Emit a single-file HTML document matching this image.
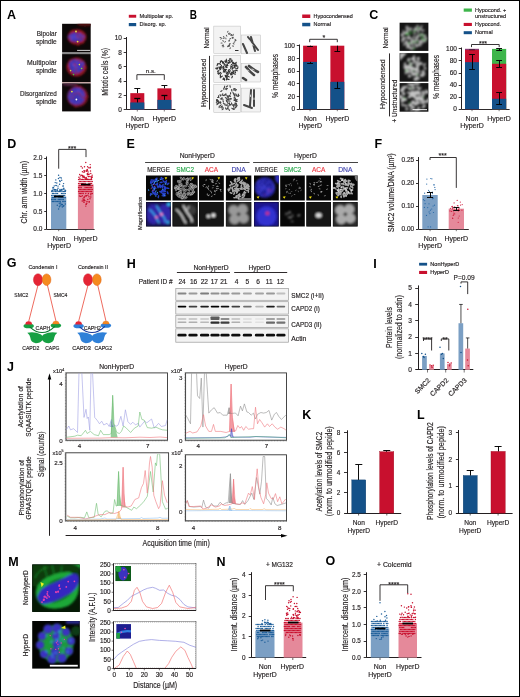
<!DOCTYPE html>
<html><head><meta charset="utf-8"><style>
html,body{margin:0;padding:0;background:#fff;}
svg{display:block;font-family:"Liberation Sans", sans-serif;-webkit-font-smoothing:antialiased;will-change:transform;}
</style></head><body>
<svg width="520" height="697" viewBox="0 0 520 697">
<defs>
<filter id="bl08" x="-50%" y="-50%" width="200%" height="200%"><feGaussianBlur stdDeviation="0.9"/></filter>
<filter id="bl1" x="-50%" y="-50%" width="200%" height="200%"><feGaussianBlur stdDeviation="1.2"/></filter>
<filter id="bl05" x="-50%" y="-50%" width="200%" height="200%"><feGaussianBlur stdDeviation="0.5"/></filter>
<filter id="bl04" x="-50%" y="-50%" width="200%" height="200%"><feGaussianBlur stdDeviation="0.45"/></filter>
<filter id="bl03" x="-50%" y="-50%" width="200%" height="200%"><feGaussianBlur stdDeviation="0.4"/></filter>
<filter id="bl2" x="-50%" y="-50%" width="200%" height="200%"><feGaussianBlur stdDeviation="2"/></filter>
</defs>
<rect width="520" height="697" fill="#fff"/>
<rect x="0.5" y="0.5" width="519" height="696" fill="none" stroke="#000" stroke-width="1"/>
<text x="7" y="18.6" font-size="12.5" text-anchor="start" fill="#000" font-weight="bold">A</text>
<rect x="62.1" y="52.1" width="28.6" height="2" fill="#8a8a8a"/>
<rect x="62.1" y="82.1" width="28.6" height="1.3" fill="#d8b0b0"/>
<rect x="62.1" y="23.8" width="28.6" height="28.3" fill="#0c0808"/>
<rect x="62.1" y="54.1" width="28.6" height="27.999999999999993" fill="#0c0808"/>
<rect x="62.1" y="83.4" width="28.6" height="28.0" fill="#0c0808"/>
<text x="36.8" y="36.2" font-size="7.1" text-anchor="start" fill="#231f20" stroke="#231f20" stroke-width="0.16" textLength="20.0" lengthAdjust="spacingAndGlyphs">Bipolar</text>
<text x="35.9" y="43.6" font-size="7.1" text-anchor="start" fill="#231f20" stroke="#231f20" stroke-width="0.16" textLength="20.9" lengthAdjust="spacingAndGlyphs">spindle</text>
<text x="27.1" y="65.2" font-size="7.1" text-anchor="start" fill="#231f20" stroke="#231f20" stroke-width="0.16" textLength="29.7" lengthAdjust="spacingAndGlyphs">Multipolar</text>
<text x="35.9" y="72.8" font-size="7.1" text-anchor="start" fill="#231f20" stroke="#231f20" stroke-width="0.16" textLength="20.9" lengthAdjust="spacingAndGlyphs">spindle</text>
<text x="20" y="96.3" font-size="7.1" text-anchor="start" fill="#231f20" stroke="#231f20" stroke-width="0.16" textLength="36.8" lengthAdjust="spacingAndGlyphs">Disorganized</text>
<text x="35.9" y="104.3" font-size="7.1" text-anchor="start" fill="#231f20" stroke="#231f20" stroke-width="0.16" textLength="20.9" lengthAdjust="spacingAndGlyphs">spindle</text>
<clipPath id="cA1"><rect x="62.1" y="23.8" width="28.6" height="28.3"/></clipPath>
<clipPath id="cA2"><rect x="62.1" y="54.1" width="28.6" height="28"/></clipPath>
<clipPath id="cA3"><rect x="62.1" y="83.4" width="28.6" height="28"/></clipPath>
<g clip-path="url(#cA1)"><g filter="url(#bl08)">
<ellipse cx="85" cy="24" rx="8" ry="2.5" fill="#501010"/>
<ellipse cx="77" cy="37" rx="9.5" ry="7.8" fill="#901820"/>
<ellipse cx="76.5" cy="37.2" rx="8.4" ry="4.6" fill="#4034b0"/>
<circle cx="82.8" cy="42.5" r="1.2" fill="#c02028" opacity="0.6"/>
<circle cx="77.4" cy="33.0" r="1.2" fill="#c02028" opacity="0.6"/>
<circle cx="70.6" cy="37.2" r="1.2" fill="#c02028" opacity="0.6"/>
<circle cx="72.1" cy="31.2" r="1.2" fill="#c02028" opacity="0.6"/>
<circle cx="78.3" cy="37.7" r="1.2" fill="#c02028" opacity="0.6"/>
<circle cx="80.2" cy="32.5" r="1.2" fill="#c02028" opacity="0.6"/>
<circle cx="77.0" cy="36.6" r="1.2" fill="#c02028" opacity="0.6"/>
<circle cx="69.4" cy="39.3" r="1.2" fill="#c02028" opacity="0.6"/>
<circle cx="78.2" cy="44.7" r="1.2" fill="#c02028" opacity="0.6"/>
<circle cx="78.4" cy="36.2" r="1.2" fill="#c02028" opacity="0.6"/>
<circle cx="83.9" cy="37.9" r="1.2" fill="#c02028" opacity="0.6"/>
<circle cx="82.4" cy="35.2" r="1.2" fill="#c02028" opacity="0.6"/>
<circle cx="78.3" cy="42.1" r="1.2" fill="#c02028" opacity="0.6"/>
<circle cx="81.4" cy="37.7" r="1.2" fill="#c02028" opacity="0.6"/>
<circle cx="83.5" cy="36.2" r="1.0" fill="#5a4ad8" opacity="0.6"/>
<circle cx="78.5" cy="37.6" r="1.0" fill="#5a4ad8" opacity="0.6"/>
<circle cx="79.8" cy="34.4" r="1.0" fill="#5a4ad8" opacity="0.6"/>
<circle cx="74.5" cy="35.4" r="1.0" fill="#5a4ad8" opacity="0.6"/>
<circle cx="71.9" cy="35.4" r="1.0" fill="#5a4ad8" opacity="0.6"/>
<circle cx="73.9" cy="36.5" r="1.0" fill="#5a4ad8" opacity="0.6"/>
<circle cx="72.2" cy="38.2" r="1.0" fill="#5a4ad8" opacity="0.6"/>
<circle cx="75.2" cy="33.5" r="1.0" fill="#5a4ad8" opacity="0.6"/>
<circle cx="81.8" cy="36.3" r="1.0" fill="#5a4ad8" opacity="0.6"/>
<circle cx="72.8" cy="37.9" r="1.0" fill="#5a4ad8" opacity="0.6"/>
<circle cx="77.7" cy="37.3" r="1.0" fill="#5a4ad8" opacity="0.6"/>
<circle cx="72.4" cy="37.7" r="1.0" fill="#5a4ad8" opacity="0.6"/>
<circle cx="71.3" cy="39.7" r="1.0" fill="#5a4ad8" opacity="0.6"/>
<circle cx="71.0" cy="36.7" r="1.0" fill="#5a4ad8" opacity="0.6"/>
<circle cx="76.6" cy="37.8" r="1.0" fill="#5a4ad8" opacity="0.6"/>
<circle cx="75.2" cy="38.5" r="1.0" fill="#5a4ad8" opacity="0.6"/>
<circle cx="69.0" cy="37.0" r="1.0" fill="#5a4ad8" opacity="0.6"/>
<circle cx="75.0" cy="35.8" r="1.0" fill="#5a4ad8" opacity="0.6"/>
</g>
<circle cx="76" cy="31.5" r="0.9" fill="#e8e040"/><circle cx="77.6" cy="41.6" r="0.9" fill="#e8e040"/>
<rect x="77.1" y="49.9" width="13" height="0.9" fill="#e8e8e8"/></g>
<g clip-path="url(#cA2)"><g filter="url(#bl08)">
<ellipse cx="76.5" cy="67" rx="10" ry="9.5" fill="#901820"/>
<path d="M70,61 Q76,57 84,62 Q86,68 80,72 Q76,76 72,72 Q67,66 70,61 Z" fill="#4034b0"/>
<circle cx="77.1" cy="74.0" r="1.2" fill="#c02028" opacity="0.6"/>
<circle cx="71.2" cy="72.4" r="1.2" fill="#c02028" opacity="0.6"/>
<circle cx="74.7" cy="65.3" r="1.2" fill="#c02028" opacity="0.6"/>
<circle cx="85.6" cy="67.7" r="1.2" fill="#c02028" opacity="0.6"/>
<circle cx="76.2" cy="71.6" r="1.2" fill="#c02028" opacity="0.6"/>
<circle cx="83.4" cy="66.8" r="1.2" fill="#c02028" opacity="0.6"/>
<circle cx="80.1" cy="61.4" r="1.2" fill="#c02028" opacity="0.6"/>
<circle cx="74.0" cy="64.2" r="1.2" fill="#c02028" opacity="0.6"/>
<circle cx="70.3" cy="60.4" r="1.2" fill="#c02028" opacity="0.6"/>
<circle cx="68.0" cy="65.8" r="1.2" fill="#c02028" opacity="0.6"/>
<circle cx="75.3" cy="64.9" r="1.2" fill="#c02028" opacity="0.6"/>
<circle cx="76.9" cy="59.7" r="1.2" fill="#c02028" opacity="0.6"/>
<circle cx="75.9" cy="68.6" r="1.2" fill="#c02028" opacity="0.6"/>
<circle cx="81.1" cy="62.1" r="1.2" fill="#c02028" opacity="0.6"/>
<circle cx="76.7" cy="67.3" r="1.0" fill="#5a4ad8" opacity="0.6"/>
<circle cx="74.3" cy="66.8" r="1.0" fill="#5a4ad8" opacity="0.6"/>
<circle cx="80.6" cy="66.9" r="1.0" fill="#5a4ad8" opacity="0.6"/>
<circle cx="81.9" cy="63.1" r="1.0" fill="#5a4ad8" opacity="0.6"/>
<circle cx="76.8" cy="62.9" r="1.0" fill="#5a4ad8" opacity="0.6"/>
<circle cx="72.9" cy="64.8" r="1.0" fill="#5a4ad8" opacity="0.6"/>
<circle cx="77.6" cy="67.1" r="1.0" fill="#5a4ad8" opacity="0.6"/>
<circle cx="78.0" cy="70.7" r="1.0" fill="#5a4ad8" opacity="0.6"/>
<circle cx="79.5" cy="61.2" r="1.0" fill="#5a4ad8" opacity="0.6"/>
<circle cx="77.5" cy="63.2" r="1.0" fill="#5a4ad8" opacity="0.6"/>
<circle cx="74.5" cy="69.6" r="1.0" fill="#5a4ad8" opacity="0.6"/>
<circle cx="75.8" cy="60.4" r="1.0" fill="#5a4ad8" opacity="0.6"/>
<circle cx="78.0" cy="64.4" r="1.0" fill="#5a4ad8" opacity="0.6"/>
<circle cx="72.0" cy="62.7" r="1.0" fill="#5a4ad8" opacity="0.6"/>
<circle cx="73.6" cy="65.4" r="1.0" fill="#5a4ad8" opacity="0.6"/>
<circle cx="74.4" cy="65.8" r="1.0" fill="#5a4ad8" opacity="0.6"/>
<circle cx="82.5" cy="63.5" r="1.0" fill="#5a4ad8" opacity="0.6"/>
<circle cx="72.8" cy="64.6" r="1.0" fill="#5a4ad8" opacity="0.6"/>
</g>
<circle cx="79.4" cy="64.6" r="0.8" fill="#e0e040"/>
<circle cx="70.6" cy="70.6" r="0.8" fill="#c0e040"/>
<circle cx="73.5" cy="74.6" r="0.8" fill="#40c040"/>
<circle cx="81.6" cy="68.5" r="0.8" fill="#80d040"/>
</g>
<g clip-path="url(#cA3)"><g filter="url(#bl08)">
<ellipse cx="70" cy="84" rx="8" ry="2" fill="#502040"/>
<ellipse cx="77.5" cy="96.5" rx="10.5" ry="10.5" fill="#801828"/>
<ellipse cx="76.5" cy="96" rx="8.8" ry="8.8" fill="#4034b0"/>
<circle cx="71.0" cy="90.2" r="1.2" fill="#b02030" opacity="0.6"/>
<circle cx="80.4" cy="86.7" r="1.2" fill="#b02030" opacity="0.6"/>
<circle cx="76.9" cy="86.4" r="1.2" fill="#b02030" opacity="0.6"/>
<circle cx="84.5" cy="97.8" r="1.2" fill="#b02030" opacity="0.6"/>
<circle cx="85.4" cy="93.6" r="1.2" fill="#b02030" opacity="0.6"/>
<circle cx="80.4" cy="94.4" r="1.2" fill="#b02030" opacity="0.6"/>
<circle cx="72.4" cy="97.5" r="1.2" fill="#b02030" opacity="0.6"/>
<circle cx="69.8" cy="94.3" r="1.2" fill="#b02030" opacity="0.6"/>
<circle cx="82.4" cy="96.9" r="1.2" fill="#b02030" opacity="0.6"/>
<circle cx="75.6" cy="106.4" r="1.2" fill="#b02030" opacity="0.6"/>
<circle cx="77.9" cy="92.3" r="1.2" fill="#b02030" opacity="0.6"/>
<circle cx="78.6" cy="92.8" r="1.2" fill="#b02030" opacity="0.6"/>
<circle cx="74.7" cy="94.0" r="1.2" fill="#b02030" opacity="0.6"/>
<circle cx="87.3" cy="96.6" r="1.2" fill="#b02030" opacity="0.6"/>
<circle cx="78.5" cy="89.0" r="1.0" fill="#5a4ad8" opacity="0.6"/>
<circle cx="72.4" cy="96.4" r="1.0" fill="#5a4ad8" opacity="0.6"/>
<circle cx="83.0" cy="96.0" r="1.0" fill="#5a4ad8" opacity="0.6"/>
<circle cx="69.6" cy="97.3" r="1.0" fill="#5a4ad8" opacity="0.6"/>
<circle cx="71.6" cy="101.0" r="1.0" fill="#5a4ad8" opacity="0.6"/>
<circle cx="75.5" cy="103.1" r="1.0" fill="#5a4ad8" opacity="0.6"/>
<circle cx="75.8" cy="90.9" r="1.0" fill="#5a4ad8" opacity="0.6"/>
<circle cx="70.1" cy="94.4" r="1.0" fill="#5a4ad8" opacity="0.6"/>
<circle cx="78.6" cy="101.6" r="1.0" fill="#5a4ad8" opacity="0.6"/>
<circle cx="77.9" cy="92.1" r="1.0" fill="#5a4ad8" opacity="0.6"/>
<circle cx="78.7" cy="89.7" r="1.0" fill="#5a4ad8" opacity="0.6"/>
<circle cx="79.1" cy="92.2" r="1.0" fill="#5a4ad8" opacity="0.6"/>
<circle cx="82.5" cy="100.0" r="1.0" fill="#5a4ad8" opacity="0.6"/>
<circle cx="78.3" cy="91.0" r="1.0" fill="#5a4ad8" opacity="0.6"/>
<circle cx="79.5" cy="98.0" r="1.0" fill="#5a4ad8" opacity="0.6"/>
<circle cx="73.6" cy="92.8" r="1.0" fill="#5a4ad8" opacity="0.6"/>
<circle cx="82.4" cy="94.2" r="1.0" fill="#5a4ad8" opacity="0.6"/>
<circle cx="78.5" cy="102.2" r="1.0" fill="#5a4ad8" opacity="0.6"/>
<circle cx="71.6" cy="101.9" r="1.0" fill="#5a4ad8" opacity="0.6"/>
<circle cx="81.3" cy="92.9" r="1.0" fill="#5a4ad8" opacity="0.6"/>
</g>
<circle cx="71.9" cy="91.6" r="0.9" fill="#e0e040"/><circle cx="76.4" cy="99.5" r="0.9" fill="#ffffff"/>
</g>
<rect x="128.8" y="14.8" width="7.4" height="2.9" fill="#c8102e"/>
<text x="139.5" y="18.1" font-size="5.9" text-anchor="start" fill="#231f20" stroke="#231f20" stroke-width="0.16" textLength="33.6" lengthAdjust="spacingAndGlyphs">Multipolar sp.</text>
<rect x="128.8" y="23" width="7.4" height="3.2" fill="#145189"/>
<text x="139.5" y="26.2" font-size="5.9" text-anchor="start" fill="#231f20" stroke="#231f20" stroke-width="0.16" textLength="26.6" lengthAdjust="spacingAndGlyphs">Disorg. sp.</text>
<line x1="126.5" y1="37" x2="126.5" y2="109.6" stroke="#231f20" stroke-width="1.0"/>
<line x1="123.7" y1="38.5" x2="126.2" y2="38.5" stroke="#231f20" stroke-width="0.9"/>
<text x="121.9" y="40.33599999999999" font-size="6.5" text-anchor="end" fill="#231f20" stroke="#231f20" stroke-width="0.16">10</text>
<line x1="123.7" y1="52.5" x2="126.2" y2="52.5" stroke="#231f20" stroke-width="0.9"/>
<text x="121.9" y="54.63599999999999" font-size="6.5" text-anchor="end" fill="#231f20" stroke="#231f20" stroke-width="0.16">8</text>
<line x1="123.7" y1="66.5" x2="126.2" y2="66.5" stroke="#231f20" stroke-width="0.9"/>
<text x="121.9" y="68.93599999999999" font-size="6.5" text-anchor="end" fill="#231f20" stroke="#231f20" stroke-width="0.16">6</text>
<line x1="123.7" y1="81.5" x2="126.2" y2="81.5" stroke="#231f20" stroke-width="0.9"/>
<text x="121.9" y="83.236" font-size="6.5" text-anchor="end" fill="#231f20" stroke="#231f20" stroke-width="0.16">4</text>
<line x1="123.7" y1="95.5" x2="126.2" y2="95.5" stroke="#231f20" stroke-width="0.9"/>
<text x="121.9" y="97.536" font-size="6.5" text-anchor="end" fill="#231f20" stroke="#231f20" stroke-width="0.16">2</text>
<line x1="123.7" y1="109.5" x2="126.2" y2="109.5" stroke="#231f20" stroke-width="0.9"/>
<text x="121.9" y="111.836" font-size="6.5" text-anchor="end" fill="#231f20" stroke="#231f20" stroke-width="0.16">0</text>
<line x1="126.2" y1="109.5" x2="175.4" y2="109.5" stroke="#231f20" stroke-width="0.95"/>
<line x1="137.3" y1="109.6" x2="137.3" y2="111.5" stroke="#231f20" stroke-width="0.6"/>
<line x1="164.3" y1="109.6" x2="164.3" y2="111.5" stroke="#231f20" stroke-width="0.6"/>
<rect x="130.3" y="93.155" width="14" height="16.444999999999993" fill="#c8102e"/>
<rect x="130.3" y="102.44999999999999" width="14" height="7.150000000000006" fill="#145189"/>
<line x1="137.5" y1="93.155" x2="137.5" y2="88.36449999999999" stroke="#000" stroke-width="0.95"/>
<line x1="134.3" y1="88.5" x2="140.3" y2="88.5" stroke="#000" stroke-width="0.95"/>
<line x1="137.5" y1="102.44999999999999" x2="137.5" y2="98.16" stroke="#000" stroke-width="0.95"/>
<line x1="134.3" y1="98.5" x2="140.3" y2="98.5" stroke="#000" stroke-width="1.3"/>
<rect x="157.4" y="88.36449999999999" width="14" height="21.235500000000002" fill="#c8102e"/>
<rect x="157.4" y="99.87599999999999" width="14" height="9.724000000000004" fill="#145189"/>
<line x1="164.5" y1="88.36449999999999" x2="164.5" y2="85.5045" stroke="#000" stroke-width="0.95"/>
<line x1="161.4" y1="85.5" x2="167.4" y2="85.5" stroke="#000" stroke-width="0.95"/>
<line x1="164.5" y1="99.87599999999999" x2="164.5" y2="95.3" stroke="#000" stroke-width="0.95"/>
<line x1="161.4" y1="95.5" x2="167.4" y2="95.5" stroke="#000" stroke-width="1.3"/>
<path d="M136.9,79.9 L136.9,74.7 L164.3,74.7 L164.3,79.9" stroke="#231f20" fill="none" stroke-width="0.9"/>
<text x="145.8" y="72.7" font-size="6" text-anchor="start" fill="#231f20" stroke="#231f20" stroke-width="0.16" textLength="9.9" lengthAdjust="spacingAndGlyphs">n.s.</text>
<text x="108.5" y="95.8" font-size="8.8" text-anchor="start" fill="#231f20" stroke="#231f20" stroke-width="0.16" transform="rotate(-90 108.5 95.8)" textLength="47.8" lengthAdjust="spacingAndGlyphs">Mitotic cells (%)</text>
<text x="137.4" y="120.8" font-size="7" text-anchor="middle" fill="#231f20" stroke="#231f20" stroke-width="0.16">Non</text>
<text x="137.4" y="128.1" font-size="7" text-anchor="middle" fill="#231f20" stroke="#231f20" stroke-width="0.16">HyperD</text>
<text x="164.3" y="120.8" font-size="7" text-anchor="middle" fill="#231f20" stroke="#231f20" stroke-width="0.16">HyperD</text>
<text x="189.8" y="18.6" font-size="12.5" text-anchor="start" fill="#000" font-weight="bold" textLength="7.2" lengthAdjust="spacingAndGlyphs">B</text>
<rect x="213.8" y="26.1" width="26.8" height="27.3" fill="#f3f3f3" stroke="#bbbbbb" stroke-width="0.5"/>
<rect x="241.6" y="35" width="19" height="18.8" fill="#f3f3f3" stroke="#bbbbbb" stroke-width="0.5"/>
<rect x="213.8" y="55.2" width="26.8" height="27.5" fill="#f3f3f3" stroke="#bbbbbb" stroke-width="0.5"/>
<rect x="241.6" y="63.3" width="19" height="18.7" fill="#f3f3f3" stroke="#bbbbbb" stroke-width="0.5"/>
<rect x="213.8" y="84.7" width="26.8" height="28" fill="#f3f3f3" stroke="#bbbbbb" stroke-width="0.5"/>
<rect x="241.6" y="88.1" width="19" height="23.9" fill="#f3f3f3" stroke="#bbbbbb" stroke-width="0.5"/>
<g filter="url(#bl04)">
<ellipse cx="232.9" cy="46.1" rx="1.1" ry="0.5" transform="rotate(16 232.9 46.1)" fill="#555"/>
<ellipse cx="227.8" cy="46.2" rx="1.1" ry="0.5" transform="rotate(115 227.8 46.2)" fill="#555"/>
<ellipse cx="223.1" cy="40.9" rx="1.1" ry="0.5" transform="rotate(53 223.1 40.9)" fill="#555"/>
<ellipse cx="229.1" cy="40.8" rx="1.1" ry="0.5" transform="rotate(99 229.1 40.8)" fill="#555"/>
<ellipse cx="221.6" cy="43.1" rx="1.1" ry="0.5" transform="rotate(0 221.6 43.1)" fill="#555"/>
<ellipse cx="226.6" cy="35.7" rx="1.1" ry="0.5" transform="rotate(58 226.6 35.7)" fill="#555"/>
<ellipse cx="225.9" cy="38.5" rx="1.1" ry="0.5" transform="rotate(81 225.9 38.5)" fill="#555"/>
<ellipse cx="229.3" cy="40.3" rx="1.1" ry="0.5" transform="rotate(138 229.3 40.3)" fill="#555"/>
<ellipse cx="235.5" cy="40.5" rx="1.1" ry="0.5" transform="rotate(175 235.5 40.5)" fill="#555"/>
<ellipse cx="229.1" cy="45.6" rx="1.1" ry="0.5" transform="rotate(7 229.1 45.6)" fill="#555"/>
<ellipse cx="221.1" cy="38.7" rx="1.1" ry="0.5" transform="rotate(126 221.1 38.7)" fill="#555"/>
<ellipse cx="223.6" cy="38.3" rx="1.1" ry="0.5" transform="rotate(173 223.6 38.3)" fill="#555"/>
<ellipse cx="229.1" cy="45.9" rx="1.1" ry="0.5" transform="rotate(74 229.1 45.9)" fill="#555"/>
<ellipse cx="232.6" cy="37.5" rx="1.1" ry="0.5" transform="rotate(142 232.6 37.5)" fill="#555"/>
<ellipse cx="230.2" cy="38.7" rx="1.1" ry="0.5" transform="rotate(161 230.2 38.7)" fill="#555"/>
<ellipse cx="235.4" cy="39.6" rx="1.1" ry="0.5" transform="rotate(30 235.4 39.6)" fill="#555"/>
<ellipse cx="227.7" cy="31.7" rx="1.1" ry="0.5" transform="rotate(128 227.7 31.7)" fill="#555"/>
<ellipse cx="232.8" cy="37.8" rx="1.1" ry="0.5" transform="rotate(171 232.8 37.8)" fill="#555"/>
<ellipse cx="229.6" cy="44.4" rx="1.1" ry="0.5" transform="rotate(127 229.6 44.4)" fill="#555"/>
<ellipse cx="231.2" cy="34.9" rx="1.1" ry="0.5" transform="rotate(150 231.2 34.9)" fill="#555"/>
<ellipse cx="231.4" cy="35.1" rx="1.1" ry="0.5" transform="rotate(103 231.4 35.1)" fill="#555"/>
<ellipse cx="225.1" cy="41.9" rx="1.1" ry="0.5" transform="rotate(140 225.1 41.9)" fill="#555"/>
<ellipse cx="233.2" cy="34.8" rx="1.1" ry="0.5" transform="rotate(95 233.2 34.8)" fill="#555"/>
<ellipse cx="233.6" cy="43.7" rx="1.1" ry="0.5" transform="rotate(27 233.6 43.7)" fill="#555"/>
<ellipse cx="229.0" cy="33.7" rx="1.1" ry="0.5" transform="rotate(100 229.0 33.7)" fill="#555"/>
<ellipse cx="223.3" cy="45.5" rx="1.1" ry="0.5" transform="rotate(120 223.3 45.5)" fill="#555"/>
<ellipse cx="234.5" cy="42.0" rx="1.1" ry="0.5" transform="rotate(157 234.5 42.0)" fill="#555"/>
<ellipse cx="223.8" cy="36.9" rx="1.1" ry="0.5" transform="rotate(43 223.8 36.9)" fill="#555"/>
<ellipse cx="229.9" cy="43.7" rx="1.1" ry="0.5" transform="rotate(3 229.9 43.7)" fill="#555"/>
<ellipse cx="228.8" cy="33.6" rx="1.1" ry="0.5" transform="rotate(140 228.8 33.6)" fill="#555"/>
<ellipse cx="228.6" cy="46.3" rx="1.1" ry="0.5" transform="rotate(147 228.6 46.3)" fill="#555"/>
<ellipse cx="223.4" cy="46.7" rx="1.1" ry="0.5" transform="rotate(168 223.4 46.7)" fill="#555"/>
<ellipse cx="220.5" cy="37.4" rx="1.1" ry="0.5" transform="rotate(1 220.5 37.4)" fill="#555"/>
<ellipse cx="222.5" cy="45.4" rx="1.1" ry="0.5" transform="rotate(131 222.5 45.4)" fill="#555"/>
<ellipse cx="230.1" cy="34.1" rx="1.1" ry="0.5" transform="rotate(143 230.1 34.1)" fill="#555"/>
<ellipse cx="230.2" cy="48.2" rx="1.1" ry="0.5" transform="rotate(123 230.2 48.2)" fill="#555"/>
<ellipse cx="232.1" cy="35.2" rx="1.1" ry="0.5" transform="rotate(51 232.1 35.2)" fill="#555"/>
<ellipse cx="232.8" cy="38.0" rx="1.1" ry="0.5" transform="rotate(91 232.8 38.0)" fill="#555"/>
<ellipse cx="237.2" cy="66.0" rx="1.4" ry="0.6" transform="rotate(14 237.2 66.0)" fill="#333"/>
<ellipse cx="232.6" cy="72.5" rx="1.4" ry="0.6" transform="rotate(43 232.6 72.5)" fill="#333"/>
<ellipse cx="226.4" cy="60.0" rx="1.4" ry="0.6" transform="rotate(78 226.4 60.0)" fill="#333"/>
<ellipse cx="227.2" cy="74.0" rx="1.4" ry="0.6" transform="rotate(9 227.2 74.0)" fill="#333"/>
<ellipse cx="223.5" cy="66.8" rx="1.4" ry="0.6" transform="rotate(110 223.5 66.8)" fill="#333"/>
<ellipse cx="221.0" cy="61.4" rx="1.4" ry="0.6" transform="rotate(130 221.0 61.4)" fill="#333"/>
<ellipse cx="234.7" cy="66.4" rx="1.4" ry="0.6" transform="rotate(113 234.7 66.4)" fill="#333"/>
<ellipse cx="217.0" cy="68.8" rx="1.4" ry="0.6" transform="rotate(7 217.0 68.8)" fill="#333"/>
<ellipse cx="220.4" cy="77.0" rx="1.4" ry="0.6" transform="rotate(97 220.4 77.0)" fill="#333"/>
<ellipse cx="218.3" cy="73.7" rx="1.4" ry="0.6" transform="rotate(42 218.3 73.7)" fill="#333"/>
<ellipse cx="222.4" cy="67.0" rx="1.4" ry="0.6" transform="rotate(6 222.4 67.0)" fill="#333"/>
<ellipse cx="229.2" cy="73.1" rx="1.4" ry="0.6" transform="rotate(130 229.2 73.1)" fill="#333"/>
<ellipse cx="216.5" cy="68.2" rx="1.4" ry="0.6" transform="rotate(172 216.5 68.2)" fill="#333"/>
<ellipse cx="217.3" cy="64.9" rx="1.4" ry="0.6" transform="rotate(114 217.3 64.9)" fill="#333"/>
<ellipse cx="229.9" cy="59.9" rx="1.4" ry="0.6" transform="rotate(93 229.9 59.9)" fill="#333"/>
<ellipse cx="228.8" cy="62.6" rx="1.4" ry="0.6" transform="rotate(114 228.8 62.6)" fill="#333"/>
<ellipse cx="232.1" cy="77.1" rx="1.4" ry="0.6" transform="rotate(118 232.1 77.1)" fill="#333"/>
<ellipse cx="224.2" cy="64.4" rx="1.4" ry="0.6" transform="rotate(71 224.2 64.4)" fill="#333"/>
<ellipse cx="234.0" cy="65.4" rx="1.4" ry="0.6" transform="rotate(90 234.0 65.4)" fill="#333"/>
<ellipse cx="223.4" cy="62.6" rx="1.4" ry="0.6" transform="rotate(118 223.4 62.6)" fill="#333"/>
<ellipse cx="221.8" cy="76.5" rx="1.4" ry="0.6" transform="rotate(142 221.8 76.5)" fill="#333"/>
<ellipse cx="226.0" cy="61.4" rx="1.4" ry="0.6" transform="rotate(56 226.0 61.4)" fill="#333"/>
<ellipse cx="236.2" cy="65.3" rx="1.4" ry="0.6" transform="rotate(42 236.2 65.3)" fill="#333"/>
<ellipse cx="233.2" cy="62.9" rx="1.4" ry="0.6" transform="rotate(122 233.2 62.9)" fill="#333"/>
<ellipse cx="223.4" cy="79.0" rx="1.4" ry="0.6" transform="rotate(180 223.4 79.0)" fill="#333"/>
<ellipse cx="231.1" cy="61.7" rx="1.4" ry="0.6" transform="rotate(129 231.1 61.7)" fill="#333"/>
<ellipse cx="222.4" cy="62.1" rx="1.4" ry="0.6" transform="rotate(79 222.4 62.1)" fill="#333"/>
<ellipse cx="226.3" cy="61.3" rx="1.4" ry="0.6" transform="rotate(93 226.3 61.3)" fill="#333"/>
<ellipse cx="234.9" cy="65.5" rx="1.4" ry="0.6" transform="rotate(19 234.9 65.5)" fill="#333"/>
<ellipse cx="228.5" cy="62.7" rx="1.4" ry="0.6" transform="rotate(2 228.5 62.7)" fill="#333"/>
<ellipse cx="231.1" cy="66.3" rx="1.4" ry="0.6" transform="rotate(27 231.1 66.3)" fill="#333"/>
<ellipse cx="235.3" cy="72.2" rx="1.4" ry="0.6" transform="rotate(69 235.3 72.2)" fill="#333"/>
<ellipse cx="219.8" cy="64.0" rx="1.4" ry="0.6" transform="rotate(27 219.8 64.0)" fill="#333"/>
<ellipse cx="227.3" cy="64.9" rx="1.4" ry="0.6" transform="rotate(68 227.3 64.9)" fill="#333"/>
<ellipse cx="227.4" cy="74.0" rx="1.4" ry="0.6" transform="rotate(15 227.4 74.0)" fill="#333"/>
<ellipse cx="219.2" cy="73.3" rx="1.4" ry="0.6" transform="rotate(8 219.2 73.3)" fill="#333"/>
<ellipse cx="233.2" cy="71.3" rx="1.4" ry="0.6" transform="rotate(63 233.2 71.3)" fill="#333"/>
<ellipse cx="225.8" cy="66.1" rx="1.4" ry="0.6" transform="rotate(17 225.8 66.1)" fill="#333"/>
<ellipse cx="236.2" cy="70.4" rx="1.4" ry="0.6" transform="rotate(5 236.2 70.4)" fill="#333"/>
<ellipse cx="224.5" cy="71.8" rx="1.4" ry="0.6" transform="rotate(40 224.5 71.8)" fill="#333"/>
<ellipse cx="226.5" cy="61.0" rx="1.4" ry="0.6" transform="rotate(0 226.5 61.0)" fill="#333"/>
<ellipse cx="225.5" cy="70.5" rx="1.4" ry="0.6" transform="rotate(63 225.5 70.5)" fill="#333"/>
<ellipse cx="228.4" cy="70.7" rx="1.4" ry="0.6" transform="rotate(88 228.4 70.7)" fill="#333"/>
<ellipse cx="235.1" cy="65.7" rx="1.4" ry="0.6" transform="rotate(28 235.1 65.7)" fill="#333"/>
<ellipse cx="225.5" cy="76.4" rx="1.4" ry="0.6" transform="rotate(78 225.5 76.4)" fill="#333"/>
<ellipse cx="218.3" cy="72.0" rx="1.4" ry="0.6" transform="rotate(11 218.3 72.0)" fill="#333"/>
<ellipse cx="234.8" cy="63.4" rx="1.4" ry="0.6" transform="rotate(159 234.8 63.4)" fill="#333"/>
<ellipse cx="225.2" cy="61.7" rx="1.4" ry="0.6" transform="rotate(57 225.2 61.7)" fill="#333"/>
<ellipse cx="234.6" cy="74.0" rx="1.4" ry="0.6" transform="rotate(26 234.6 74.0)" fill="#333"/>
<ellipse cx="236.6" cy="70.4" rx="1.4" ry="0.6" transform="rotate(32 236.6 70.4)" fill="#333"/>
<ellipse cx="217.8" cy="67.8" rx="1.4" ry="0.6" transform="rotate(124 217.8 67.8)" fill="#333"/>
<ellipse cx="223.2" cy="68.6" rx="1.4" ry="0.6" transform="rotate(87 223.2 68.6)" fill="#333"/>
<ellipse cx="226.7" cy="77.5" rx="1.4" ry="0.6" transform="rotate(107 226.7 77.5)" fill="#333"/>
<ellipse cx="222.1" cy="61.4" rx="1.4" ry="0.6" transform="rotate(35 222.1 61.4)" fill="#333"/>
<ellipse cx="224.6" cy="64.1" rx="1.4" ry="0.6" transform="rotate(33 224.6 64.1)" fill="#333"/>
<ellipse cx="229.0" cy="71.8" rx="1.4" ry="0.6" transform="rotate(162 229.0 71.8)" fill="#333"/>
<ellipse cx="228.4" cy="79.4" rx="1.4" ry="0.6" transform="rotate(8 228.4 79.4)" fill="#333"/>
<ellipse cx="232.4" cy="68.8" rx="1.4" ry="0.6" transform="rotate(113 232.4 68.8)" fill="#333"/>
<ellipse cx="229.9" cy="70.3" rx="1.4" ry="0.6" transform="rotate(58 229.9 70.3)" fill="#333"/>
<ellipse cx="220.4" cy="62.0" rx="1.4" ry="0.6" transform="rotate(92 220.4 62.0)" fill="#333"/>
<ellipse cx="226.9" cy="76.1" rx="1.4" ry="0.6" transform="rotate(134 226.9 76.1)" fill="#333"/>
<ellipse cx="227.2" cy="64.7" rx="1.4" ry="0.6" transform="rotate(98 227.2 64.7)" fill="#333"/>
<ellipse cx="224.2" cy="70.9" rx="1.4" ry="0.6" transform="rotate(22 224.2 70.9)" fill="#333"/>
<ellipse cx="227.4" cy="72.4" rx="1.4" ry="0.6" transform="rotate(46 227.4 72.4)" fill="#333"/>
<ellipse cx="227.2" cy="65.4" rx="1.4" ry="0.6" transform="rotate(6 227.2 65.4)" fill="#333"/>
<ellipse cx="220.0" cy="68.0" rx="1.4" ry="0.6" transform="rotate(79 220.0 68.0)" fill="#333"/>
<ellipse cx="220.8" cy="67.4" rx="1.4" ry="0.6" transform="rotate(175 220.8 67.4)" fill="#333"/>
<ellipse cx="236.0" cy="63.0" rx="1.4" ry="0.6" transform="rotate(111 236.0 63.0)" fill="#333"/>
<ellipse cx="225.8" cy="69.7" rx="1.4" ry="0.6" transform="rotate(151 225.8 69.7)" fill="#333"/>
<ellipse cx="233.8" cy="71.2" rx="1.4" ry="0.6" transform="rotate(134 233.8 71.2)" fill="#333"/>
<ellipse cx="218.2" cy="63.8" rx="1.4" ry="0.6" transform="rotate(169 218.2 63.8)" fill="#333"/>
<ellipse cx="229.3" cy="62.7" rx="1.4" ry="0.6" transform="rotate(132 229.3 62.7)" fill="#333"/>
<ellipse cx="230.8" cy="68.0" rx="1.4" ry="0.6" transform="rotate(93 230.8 68.0)" fill="#333"/>
<ellipse cx="224.6" cy="79.5" rx="1.4" ry="0.6" transform="rotate(95 224.6 79.5)" fill="#333"/>
<ellipse cx="223.6" cy="78.6" rx="1.4" ry="0.6" transform="rotate(105 223.6 78.6)" fill="#333"/>
<ellipse cx="232.0" cy="72.6" rx="1.4" ry="0.6" transform="rotate(172 232.0 72.6)" fill="#333"/>
<ellipse cx="231.6" cy="60.1" rx="1.4" ry="0.6" transform="rotate(15 231.6 60.1)" fill="#333"/>
<ellipse cx="220.9" cy="73.0" rx="1.4" ry="0.6" transform="rotate(53 220.9 73.0)" fill="#333"/>
<ellipse cx="233.7" cy="63.4" rx="1.4" ry="0.6" transform="rotate(1 233.7 63.4)" fill="#333"/>
<ellipse cx="225.8" cy="75.5" rx="1.4" ry="0.6" transform="rotate(19 225.8 75.5)" fill="#333"/>
<ellipse cx="228.6" cy="76.5" rx="1.4" ry="0.6" transform="rotate(29 228.6 76.5)" fill="#333"/>
<ellipse cx="221.2" cy="66.0" rx="1.4" ry="0.6" transform="rotate(118 221.2 66.0)" fill="#333"/>
<ellipse cx="231.2" cy="73.9" rx="1.4" ry="0.6" transform="rotate(31 231.2 73.9)" fill="#333"/>
<ellipse cx="227.1" cy="72.8" rx="1.4" ry="0.6" transform="rotate(157 227.1 72.8)" fill="#333"/>
<ellipse cx="232.2" cy="61.8" rx="1.4" ry="0.6" transform="rotate(54 232.2 61.8)" fill="#333"/>
<ellipse cx="226.6" cy="67.3" rx="1.4" ry="0.6" transform="rotate(168 226.6 67.3)" fill="#333"/>
<ellipse cx="225.0" cy="69.4" rx="1.4" ry="0.6" transform="rotate(180 225.0 69.4)" fill="#333"/>
<ellipse cx="220.8" cy="69.0" rx="1.4" ry="0.6" transform="rotate(117 220.8 69.0)" fill="#333"/>
<ellipse cx="231.3" cy="74.2" rx="1.4" ry="0.6" transform="rotate(123 231.3 74.2)" fill="#333"/>
<ellipse cx="219.9" cy="67.7" rx="1.4" ry="0.6" transform="rotate(107 219.9 67.7)" fill="#333"/>
<ellipse cx="236.1" cy="64.8" rx="1.4" ry="0.6" transform="rotate(75 236.1 64.8)" fill="#333"/>
<ellipse cx="223.9" cy="71.6" rx="1.4" ry="0.6" transform="rotate(152 223.9 71.6)" fill="#333"/>
<ellipse cx="226.8" cy="76.1" rx="1.4" ry="0.6" transform="rotate(173 226.8 76.1)" fill="#333"/>
<ellipse cx="226.2" cy="65.9" rx="1.4" ry="0.6" transform="rotate(147 226.2 65.9)" fill="#333"/>
<ellipse cx="232.5" cy="72.7" rx="1.4" ry="0.6" transform="rotate(139 232.5 72.7)" fill="#333"/>
<ellipse cx="231.4" cy="74.6" rx="1.4" ry="0.6" transform="rotate(17 231.4 74.6)" fill="#333"/>
<ellipse cx="230.3" cy="58.9" rx="1.4" ry="0.6" transform="rotate(174 230.3 58.9)" fill="#333"/>
<ellipse cx="235.8" cy="68.3" rx="1.4" ry="0.6" transform="rotate(32 235.8 68.3)" fill="#333"/>
<ellipse cx="233.8" cy="67.8" rx="1.4" ry="0.6" transform="rotate(171 233.8 67.8)" fill="#333"/>
<ellipse cx="231.8" cy="64.8" rx="1.4" ry="0.6" transform="rotate(44 231.8 64.8)" fill="#333"/>
<ellipse cx="223.7" cy="68.4" rx="1.4" ry="0.6" transform="rotate(138 223.7 68.4)" fill="#333"/>
<ellipse cx="237.7" cy="68.0" rx="1.4" ry="0.6" transform="rotate(108 237.7 68.0)" fill="#333"/>
<ellipse cx="233.5" cy="73.4" rx="1.4" ry="0.6" transform="rotate(131 233.5 73.4)" fill="#333"/>
<ellipse cx="226.7" cy="79.3" rx="1.4" ry="0.6" transform="rotate(118 226.7 79.3)" fill="#333"/>
<ellipse cx="232.1" cy="67.2" rx="1.4" ry="0.6" transform="rotate(91 232.1 67.2)" fill="#333"/>
<ellipse cx="228.9" cy="60.8" rx="1.4" ry="0.6" transform="rotate(37 228.9 60.8)" fill="#333"/>
<ellipse cx="218.3" cy="70.9" rx="1.4" ry="0.6" transform="rotate(152 218.3 70.9)" fill="#333"/>
<ellipse cx="220.4" cy="75.3" rx="1.4" ry="0.6" transform="rotate(100 220.4 75.3)" fill="#333"/>
<ellipse cx="219.8" cy="68.5" rx="1.4" ry="0.6" transform="rotate(103 219.8 68.5)" fill="#333"/>
<ellipse cx="227.0" cy="78.4" rx="1.4" ry="0.6" transform="rotate(105 227.0 78.4)" fill="#333"/>
<ellipse cx="227.9" cy="108.0" rx="1.4" ry="0.6" transform="rotate(94 227.9 108.0)" fill="#444"/>
<ellipse cx="234.4" cy="94.3" rx="1.4" ry="0.6" transform="rotate(148 234.4 94.3)" fill="#444"/>
<ellipse cx="228.5" cy="99.3" rx="1.4" ry="0.6" transform="rotate(120 228.5 99.3)" fill="#444"/>
<ellipse cx="226.9" cy="104.8" rx="1.4" ry="0.6" transform="rotate(120 226.9 104.8)" fill="#444"/>
<ellipse cx="218.6" cy="96.3" rx="1.4" ry="0.6" transform="rotate(101 218.6 96.3)" fill="#444"/>
<ellipse cx="224.2" cy="95.0" rx="1.4" ry="0.6" transform="rotate(162 224.2 95.0)" fill="#444"/>
<ellipse cx="233.9" cy="108.6" rx="1.4" ry="0.6" transform="rotate(99 233.9 108.6)" fill="#444"/>
<ellipse cx="226.7" cy="88.4" rx="1.4" ry="0.6" transform="rotate(16 226.7 88.4)" fill="#444"/>
<ellipse cx="233.6" cy="109.1" rx="1.4" ry="0.6" transform="rotate(10 233.6 109.1)" fill="#444"/>
<ellipse cx="226.5" cy="100.8" rx="1.4" ry="0.6" transform="rotate(68 226.5 100.8)" fill="#444"/>
<ellipse cx="217.1" cy="100.5" rx="1.4" ry="0.6" transform="rotate(99 217.1 100.5)" fill="#444"/>
<ellipse cx="224.6" cy="86.9" rx="1.4" ry="0.6" transform="rotate(101 224.6 86.9)" fill="#444"/>
<ellipse cx="225.9" cy="89.2" rx="1.4" ry="0.6" transform="rotate(34 225.9 89.2)" fill="#444"/>
<ellipse cx="229.9" cy="96.0" rx="1.4" ry="0.6" transform="rotate(34 229.9 96.0)" fill="#444"/>
<ellipse cx="221.1" cy="98.9" rx="1.4" ry="0.6" transform="rotate(172 221.1 98.9)" fill="#444"/>
<ellipse cx="218.4" cy="102.6" rx="1.4" ry="0.6" transform="rotate(77 218.4 102.6)" fill="#444"/>
<ellipse cx="217.5" cy="104.2" rx="1.4" ry="0.6" transform="rotate(146 217.5 104.2)" fill="#444"/>
<ellipse cx="221.7" cy="106.5" rx="1.4" ry="0.6" transform="rotate(149 221.7 106.5)" fill="#444"/>
<ellipse cx="228.0" cy="106.0" rx="1.4" ry="0.6" transform="rotate(7 228.0 106.0)" fill="#444"/>
<ellipse cx="234.6" cy="88.9" rx="1.4" ry="0.6" transform="rotate(171 234.6 88.9)" fill="#444"/>
<ellipse cx="223.8" cy="88.8" rx="1.4" ry="0.6" transform="rotate(83 223.8 88.8)" fill="#444"/>
<ellipse cx="238.4" cy="96.1" rx="1.4" ry="0.6" transform="rotate(145 238.4 96.1)" fill="#444"/>
<ellipse cx="234.9" cy="104.9" rx="1.4" ry="0.6" transform="rotate(162 234.9 104.9)" fill="#444"/>
<ellipse cx="231.7" cy="90.4" rx="1.4" ry="0.6" transform="rotate(72 231.7 90.4)" fill="#444"/>
<ellipse cx="233.1" cy="104.9" rx="1.4" ry="0.6" transform="rotate(163 233.1 104.9)" fill="#444"/>
<ellipse cx="230.8" cy="98.5" rx="1.4" ry="0.6" transform="rotate(17 230.8 98.5)" fill="#444"/>
<ellipse cx="223.2" cy="101.3" rx="1.4" ry="0.6" transform="rotate(75 223.2 101.3)" fill="#444"/>
<ellipse cx="220.2" cy="102.3" rx="1.4" ry="0.6" transform="rotate(30 220.2 102.3)" fill="#444"/>
<ellipse cx="236.3" cy="101.4" rx="1.4" ry="0.6" transform="rotate(11 236.3 101.4)" fill="#444"/>
<ellipse cx="220.6" cy="105.4" rx="1.4" ry="0.6" transform="rotate(141 220.6 105.4)" fill="#444"/>
<ellipse cx="236.0" cy="90.2" rx="1.4" ry="0.6" transform="rotate(129 236.0 90.2)" fill="#444"/>
<ellipse cx="227.4" cy="101.1" rx="1.4" ry="0.6" transform="rotate(1 227.4 101.1)" fill="#444"/>
<ellipse cx="235.5" cy="103.2" rx="1.4" ry="0.6" transform="rotate(8 235.5 103.2)" fill="#444"/>
<ellipse cx="238.5" cy="94.8" rx="1.4" ry="0.6" transform="rotate(74 238.5 94.8)" fill="#444"/>
<ellipse cx="223.5" cy="95.5" rx="1.4" ry="0.6" transform="rotate(10 223.5 95.5)" fill="#444"/>
<ellipse cx="234.2" cy="97.8" rx="1.4" ry="0.6" transform="rotate(92 234.2 97.8)" fill="#444"/>
<ellipse cx="238.2" cy="95.6" rx="1.4" ry="0.6" transform="rotate(96 238.2 95.6)" fill="#444"/>
<ellipse cx="219.2" cy="106.9" rx="1.4" ry="0.6" transform="rotate(98 219.2 106.9)" fill="#444"/>
<ellipse cx="221.4" cy="91.1" rx="1.4" ry="0.6" transform="rotate(143 221.4 91.1)" fill="#444"/>
<ellipse cx="236.7" cy="106.2" rx="1.4" ry="0.6" transform="rotate(129 236.7 106.2)" fill="#444"/>
<ellipse cx="225.9" cy="108.6" rx="1.4" ry="0.6" transform="rotate(60 225.9 108.6)" fill="#444"/>
<ellipse cx="234.5" cy="95.5" rx="1.4" ry="0.6" transform="rotate(66 234.5 95.5)" fill="#444"/>
<ellipse cx="218.3" cy="97.5" rx="1.4" ry="0.6" transform="rotate(2 218.3 97.5)" fill="#444"/>
<ellipse cx="230.1" cy="86.5" rx="1.4" ry="0.6" transform="rotate(80 230.1 86.5)" fill="#444"/>
<ellipse cx="236.6" cy="99.9" rx="1.4" ry="0.6" transform="rotate(161 236.6 99.9)" fill="#444"/>
<ellipse cx="233.6" cy="106.2" rx="1.4" ry="0.6" transform="rotate(85 233.6 106.2)" fill="#444"/>
<ellipse cx="217.5" cy="100.9" rx="1.4" ry="0.6" transform="rotate(90 217.5 100.9)" fill="#444"/>
<ellipse cx="222.3" cy="94.5" rx="1.4" ry="0.6" transform="rotate(125 222.3 94.5)" fill="#444"/>
<ellipse cx="230.1" cy="99.1" rx="1.4" ry="0.6" transform="rotate(173 230.1 99.1)" fill="#444"/>
<ellipse cx="234.5" cy="99.7" rx="1.4" ry="0.6" transform="rotate(160 234.5 99.7)" fill="#444"/>
<ellipse cx="218.3" cy="101.3" rx="1.4" ry="0.6" transform="rotate(81 218.3 101.3)" fill="#444"/>
<ellipse cx="229.5" cy="103.6" rx="1.4" ry="0.6" transform="rotate(94 229.5 103.6)" fill="#444"/>
<ellipse cx="230.6" cy="93.3" rx="1.4" ry="0.6" transform="rotate(96 230.6 93.3)" fill="#444"/>
<ellipse cx="235.8" cy="105.7" rx="1.4" ry="0.6" transform="rotate(145 235.8 105.7)" fill="#444"/>
<ellipse cx="225.4" cy="94.5" rx="1.4" ry="0.6" transform="rotate(128 225.4 94.5)" fill="#444"/>
<ellipse cx="229.1" cy="109.8" rx="1.4" ry="0.6" transform="rotate(61 229.1 109.8)" fill="#444"/>
<ellipse cx="222.5" cy="107.9" rx="1.4" ry="0.6" transform="rotate(166 222.5 107.9)" fill="#444"/>
<ellipse cx="226.0" cy="94.9" rx="1.4" ry="0.6" transform="rotate(82 226.0 94.9)" fill="#444"/>
<ellipse cx="236.6" cy="95.4" rx="1.4" ry="0.6" transform="rotate(57 236.6 95.4)" fill="#444"/>
<ellipse cx="216.9" cy="103.1" rx="1.4" ry="0.6" transform="rotate(43 216.9 103.1)" fill="#444"/>
<ellipse cx="236.3" cy="103.9" rx="1.4" ry="0.6" transform="rotate(55 236.3 103.9)" fill="#444"/>
<ellipse cx="233.3" cy="93.1" rx="1.4" ry="0.6" transform="rotate(57 233.3 93.1)" fill="#444"/>
<ellipse cx="227.7" cy="96.4" rx="1.4" ry="0.6" transform="rotate(48 227.7 96.4)" fill="#444"/>
<ellipse cx="222.8" cy="109.3" rx="1.4" ry="0.6" transform="rotate(147 222.8 109.3)" fill="#444"/>
<ellipse cx="229.8" cy="104.8" rx="1.4" ry="0.6" transform="rotate(164 229.8 104.8)" fill="#444"/>
<ellipse cx="235.4" cy="103.8" rx="1.4" ry="0.6" transform="rotate(150 235.4 103.8)" fill="#444"/>
<ellipse cx="231.7" cy="103.7" rx="1.4" ry="0.6" transform="rotate(69 231.7 103.7)" fill="#444"/>
<ellipse cx="217.8" cy="100.9" rx="1.4" ry="0.6" transform="rotate(74 217.8 100.9)" fill="#444"/>
<ellipse cx="220.4" cy="102.6" rx="1.4" ry="0.6" transform="rotate(105 220.4 102.6)" fill="#444"/>
<ellipse cx="227.7" cy="99.4" rx="1.4" ry="0.6" transform="rotate(159 227.7 99.4)" fill="#444"/>
<ellipse cx="235.1" cy="98.0" rx="1.4" ry="0.6" transform="rotate(56 235.1 98.0)" fill="#444"/>
<ellipse cx="235.2" cy="100.4" rx="1.4" ry="0.6" transform="rotate(169 235.2 100.4)" fill="#444"/>
<ellipse cx="227.1" cy="86.3" rx="1.4" ry="0.6" transform="rotate(139 227.1 86.3)" fill="#444"/>
<ellipse cx="224.1" cy="103.8" rx="1.4" ry="0.6" transform="rotate(17 224.1 103.8)" fill="#444"/>
<ellipse cx="234.7" cy="89.0" rx="1.4" ry="0.6" transform="rotate(30 234.7 89.0)" fill="#444"/>
<ellipse cx="228.1" cy="96.2" rx="1.4" ry="0.6" transform="rotate(177 228.1 96.2)" fill="#444"/>
<ellipse cx="221.8" cy="98.3" rx="1.4" ry="0.6" transform="rotate(110 221.8 98.3)" fill="#444"/>
<ellipse cx="226.0" cy="98.0" rx="1.4" ry="0.6" transform="rotate(30 226.0 98.0)" fill="#444"/>
<ellipse cx="230.3" cy="104.8" rx="1.4" ry="0.6" transform="rotate(169 230.3 104.8)" fill="#444"/>
<ellipse cx="236.0" cy="99.8" rx="1.4" ry="0.6" transform="rotate(13 236.0 99.8)" fill="#444"/>
<ellipse cx="236.0" cy="95.0" rx="1.4" ry="0.6" transform="rotate(87 236.0 95.0)" fill="#444"/>
<ellipse cx="235.6" cy="107.5" rx="1.4" ry="0.6" transform="rotate(138 235.6 107.5)" fill="#444"/>
<ellipse cx="216.6" cy="100.3" rx="1.4" ry="0.6" transform="rotate(90 216.6 100.3)" fill="#444"/>
<ellipse cx="228.0" cy="103.0" rx="1.4" ry="0.6" transform="rotate(30 228.0 103.0)" fill="#444"/>
<ellipse cx="232.3" cy="108.6" rx="1.4" ry="0.6" transform="rotate(32 232.3 108.6)" fill="#444"/>
<ellipse cx="227.7" cy="97.7" rx="1.4" ry="0.6" transform="rotate(160 227.7 97.7)" fill="#444"/>
<ellipse cx="220.3" cy="95.3" rx="1.4" ry="0.6" transform="rotate(69 220.3 95.3)" fill="#444"/>
<ellipse cx="227.3" cy="108.6" rx="1.4" ry="0.6" transform="rotate(133 227.3 108.6)" fill="#444"/>
<ellipse cx="219.9" cy="102.7" rx="1.4" ry="0.6" transform="rotate(0 219.9 102.7)" fill="#444"/>
<ellipse cx="233.8" cy="90.0" rx="1.4" ry="0.6" transform="rotate(11 233.8 90.0)" fill="#444"/>
<ellipse cx="229.4" cy="101.0" rx="1.4" ry="0.6" transform="rotate(8 229.4 101.0)" fill="#444"/>
<ellipse cx="229.4" cy="95.8" rx="1.4" ry="0.6" transform="rotate(128 229.4 95.8)" fill="#444"/>
<ellipse cx="222.4" cy="99.0" rx="1.4" ry="0.6" transform="rotate(18 222.4 99.0)" fill="#444"/>
<ellipse cx="221.4" cy="106.9" rx="1.4" ry="0.6" transform="rotate(150 221.4 106.9)" fill="#444"/>
<ellipse cx="225.1" cy="104.8" rx="1.4" ry="0.6" transform="rotate(84 225.1 104.8)" fill="#444"/>
</g>
<g filter="url(#bl04)" stroke-linecap="round" fill="none">
<path d="M248,37 L258,50 M251,37 L255,51 M243,44 L247,53" stroke="#444" stroke-width="2"/>
<path d="M246,67 Q250,72 254,75 M249,66 Q254,70 258,72 M243,78 L246,80" stroke="#444" stroke-width="2.6"/>
<path d="M251,90 L250,106 M254,90 L254,106 M244,105 L252,108" stroke="#444" stroke-width="2"/>
<path d="M249,40 L250,41.5 M252,44 L253,45.5 M247,70 L249,71 M252,69 L254,70 M250.5,95 L250.5,96.5 M254,98 L254,99.5" stroke="#ddd" stroke-width="0.9"/>
</g>
<line x1="235" y1="50.5" x2="238.5" y2="50.5" stroke="#222" stroke-width="0.95"/>
<text x="208.6" y="48.6" font-size="6.8" text-anchor="start" fill="#231f20" stroke="#231f20" stroke-width="0.16" transform="rotate(-90 208.6 48.6)" textLength="21.4" lengthAdjust="spacingAndGlyphs">Normal</text>
<text x="205.8" y="107.1" font-size="7" text-anchor="start" fill="#231f20" stroke="#231f20" stroke-width="0.16" transform="rotate(-90 205.8 107.1)" textLength="48.2" lengthAdjust="spacingAndGlyphs">Hypocondensed</text>
<line x1="209.5" y1="55.9" x2="209.5" y2="109.6" stroke="#231f20" stroke-width="0.95"/>
<rect x="302.2" y="14.5" width="8.1" height="3.5" fill="#c8102e"/>
<text x="313.5" y="18" font-size="5.9" text-anchor="start" fill="#231f20" stroke="#231f20" stroke-width="0.16" textLength="39.2" lengthAdjust="spacingAndGlyphs">Hypocondensed</text>
<rect x="302.2" y="22.8" width="8.1" height="3.5" fill="#145189"/>
<text x="313.5" y="26.1" font-size="5.9" text-anchor="start" fill="#231f20" stroke="#231f20" stroke-width="0.16" textLength="17.6" lengthAdjust="spacingAndGlyphs">Normal</text>
<line x1="299.5" y1="44.5" x2="299.5" y2="109.2" stroke="#231f20" stroke-width="1.0"/>
<line x1="296.8" y1="45.5" x2="299.3" y2="45.5" stroke="#231f20" stroke-width="0.9"/>
<text x="295.0" y="47.936" font-size="6.5" text-anchor="end" fill="#231f20" stroke="#231f20" stroke-width="0.16">100</text>
<line x1="296.8" y1="58.5" x2="299.3" y2="58.5" stroke="#231f20" stroke-width="0.9"/>
<text x="295.0" y="60.636" font-size="6.5" text-anchor="end" fill="#231f20" stroke="#231f20" stroke-width="0.16">80</text>
<line x1="296.8" y1="71.5" x2="299.3" y2="71.5" stroke="#231f20" stroke-width="0.9"/>
<text x="295.0" y="73.336" font-size="6.5" text-anchor="end" fill="#231f20" stroke="#231f20" stroke-width="0.16">60</text>
<line x1="296.8" y1="83.5" x2="299.3" y2="83.5" stroke="#231f20" stroke-width="0.9"/>
<text x="295.0" y="86.03600000000002" font-size="6.5" text-anchor="end" fill="#231f20" stroke="#231f20" stroke-width="0.16">40</text>
<line x1="296.8" y1="96.5" x2="299.3" y2="96.5" stroke="#231f20" stroke-width="0.9"/>
<text x="295.0" y="98.736" font-size="6.5" text-anchor="end" fill="#231f20" stroke="#231f20" stroke-width="0.16">20</text>
<line x1="296.8" y1="109.5" x2="299.3" y2="109.5" stroke="#231f20" stroke-width="0.9"/>
<text x="295.0" y="111.436" font-size="6.5" text-anchor="end" fill="#231f20" stroke="#231f20" stroke-width="0.16">0</text>
<line x1="299.3" y1="109.5" x2="348.1" y2="109.5" stroke="#231f20" stroke-width="0.95"/>
<line x1="310" y1="109.2" x2="310" y2="111.2" stroke="#231f20" stroke-width="0.6"/>
<line x1="337.3" y1="109.2" x2="337.3" y2="111.2" stroke="#231f20" stroke-width="0.6"/>
<rect x="303.1" y="45.7" width="13.9" height="63.5" fill="#c8102e"/>
<rect x="303.1" y="61.892500000000005" width="13.9" height="47.3075" fill="#145189"/>
<line x1="310.5" y1="61.892500000000005" x2="310.5" y2="63.289500000000004" stroke="#000" stroke-width="0.95"/>
<line x1="307.15000000000003" y1="63.5" x2="312.95" y2="63.5" stroke="#000" stroke-width="0.95"/>
<line x1="310.5" y1="45.7" x2="310.5" y2="46.5255" stroke="#000" stroke-width="0.95"/>
<line x1="307.15000000000003" y1="46.5" x2="312.95" y2="46.5" stroke="#000" stroke-width="0.95"/>
<rect x="330.4" y="45.7" width="13.9" height="63.5" fill="#c8102e"/>
<rect x="330.4" y="81.8315" width="13.9" height="27.368499999999997" fill="#145189"/>
<line x1="337.5" y1="81.8315" x2="337.5" y2="88.245" stroke="#000" stroke-width="0.95"/>
<line x1="334.45" y1="88.5" x2="340.24999999999994" y2="88.5" stroke="#000" stroke-width="0.95"/>
<line x1="337.5" y1="45.7" x2="337.5" y2="51.859500000000004" stroke="#000" stroke-width="0.95"/>
<line x1="334.45" y1="51.5" x2="340.24999999999994" y2="51.5" stroke="#000" stroke-width="0.95"/>
<path d="M309.7,42.2 L309.7,39.3 L337.3,39.3 L337.3,42.2" stroke="#231f20" fill="none" stroke-width="0.9"/>
<text x="323.8" y="40.3" font-size="7" text-anchor="middle" fill="#231f20" stroke="#231f20" stroke-width="0.16">*</text>
<text x="277.5" y="98" font-size="9" text-anchor="start" fill="#231f20" stroke="#231f20" stroke-width="0.16" transform="rotate(-90 277.5 98)" textLength="44" lengthAdjust="spacingAndGlyphs">% metaphases</text>
<text x="310.3" y="120.8" font-size="7" text-anchor="middle" fill="#231f20" stroke="#231f20" stroke-width="0.16">Non</text>
<text x="310.3" y="127.9" font-size="7" text-anchor="middle" fill="#231f20" stroke="#231f20" stroke-width="0.16">HyperD</text>
<text x="337.4" y="120.8" font-size="7" text-anchor="middle" fill="#231f20" stroke="#231f20" stroke-width="0.16">HyperD</text>
<text x="369.2" y="18.8" font-size="12.5" text-anchor="start" fill="#000" font-weight="bold">C</text>
<rect x="399.6" y="22.7" width="28.8" height="28.2" fill="#151515"/>
<rect x="399.6" y="53.1" width="28.8" height="28.6" fill="#151515"/>
<rect x="399.6" y="83.1" width="28.8" height="28.60000000000001" fill="#151515"/>
<clipPath id="cC0"><rect x="399.6" y="22.7" width="28.8" height="28.2"/></clipPath>
<clipPath id="cC1"><rect x="399.6" y="53.1" width="28.8" height="28.6"/></clipPath>
<clipPath id="cC2"><rect x="399.6" y="83.1" width="28.8" height="28.60000000000001"/></clipPath>
<g clip-path="url(#cC0)"><g filter="url(#bl08)">
<ellipse cx="411.8" cy="41.3" rx="1.8" ry="0.9" transform="rotate(166 411.8 41.3)" fill="#b0b0b0"/>
<ellipse cx="424.8" cy="40.4" rx="1.8" ry="0.9" transform="rotate(24 424.8 40.4)" fill="#b0b0b0"/>
<ellipse cx="412.0" cy="39.2" rx="1.8" ry="0.9" transform="rotate(129 412.0 39.2)" fill="#b0b0b0"/>
<ellipse cx="414.8" cy="40.6" rx="1.8" ry="0.9" transform="rotate(107 414.8 40.6)" fill="#b0b0b0"/>
<ellipse cx="417.4" cy="38.6" rx="1.8" ry="0.9" transform="rotate(108 417.4 38.6)" fill="#b0b0b0"/>
<ellipse cx="422.8" cy="40.4" rx="1.8" ry="0.9" transform="rotate(57 422.8 40.4)" fill="#b0b0b0"/>
<ellipse cx="407.5" cy="30.0" rx="1.8" ry="0.9" transform="rotate(15 407.5 30.0)" fill="#b0b0b0"/>
<ellipse cx="407.0" cy="33.3" rx="1.8" ry="0.9" transform="rotate(56 407.0 33.3)" fill="#b0b0b0"/>
<ellipse cx="425.1" cy="40.3" rx="1.8" ry="0.9" transform="rotate(74 425.1 40.3)" fill="#b0b0b0"/>
<ellipse cx="406.0" cy="41.5" rx="1.8" ry="0.9" transform="rotate(146 406.0 41.5)" fill="#b0b0b0"/>
<ellipse cx="409.9" cy="47.5" rx="1.8" ry="0.9" transform="rotate(46 409.9 47.5)" fill="#b0b0b0"/>
<ellipse cx="421.5" cy="42.7" rx="1.8" ry="0.9" transform="rotate(48 421.5 42.7)" fill="#b0b0b0"/>
<ellipse cx="407.6" cy="43.6" rx="1.8" ry="0.9" transform="rotate(16 407.6 43.6)" fill="#b0b0b0"/>
<ellipse cx="405.0" cy="33.1" rx="1.8" ry="0.9" transform="rotate(127 405.0 33.1)" fill="#b0b0b0"/>
<ellipse cx="410.5" cy="29.6" rx="1.8" ry="0.9" transform="rotate(80 410.5 29.6)" fill="#b0b0b0"/>
<ellipse cx="402.3" cy="39.6" rx="1.8" ry="0.9" transform="rotate(92 402.3 39.6)" fill="#b0b0b0"/>
<ellipse cx="410.6" cy="47.6" rx="1.8" ry="0.9" transform="rotate(178 410.6 47.6)" fill="#b0b0b0"/>
<ellipse cx="414.7" cy="33.5" rx="1.8" ry="0.9" transform="rotate(76 414.7 33.5)" fill="#b0b0b0"/>
<ellipse cx="402.5" cy="35.2" rx="1.8" ry="0.9" transform="rotate(114 402.5 35.2)" fill="#b0b0b0"/>
<ellipse cx="411.1" cy="49.0" rx="1.8" ry="0.9" transform="rotate(30 411.1 49.0)" fill="#b0b0b0"/>
<ellipse cx="408.9" cy="36.6" rx="1.8" ry="0.9" transform="rotate(87 408.9 36.6)" fill="#b0b0b0"/>
<ellipse cx="419.0" cy="44.1" rx="1.8" ry="0.9" transform="rotate(10 419.0 44.1)" fill="#b0b0b0"/>
<ellipse cx="417.4" cy="36.2" rx="1.8" ry="0.9" transform="rotate(142 417.4 36.2)" fill="#b0b0b0"/>
<ellipse cx="403.5" cy="31.8" rx="1.8" ry="0.9" transform="rotate(80 403.5 31.8)" fill="#b0b0b0"/>
<ellipse cx="410.0" cy="43.2" rx="1.8" ry="0.9" transform="rotate(127 410.0 43.2)" fill="#b0b0b0"/>
<ellipse cx="406.6" cy="32.9" rx="1.8" ry="0.9" transform="rotate(23 406.6 32.9)" fill="#b0b0b0"/>
<ellipse cx="422.1" cy="34.1" rx="1.8" ry="0.9" transform="rotate(170 422.1 34.1)" fill="#b0b0b0"/>
<ellipse cx="423.8" cy="41.2" rx="1.8" ry="0.9" transform="rotate(79 423.8 41.2)" fill="#b0b0b0"/>
<ellipse cx="406.5" cy="27.1" rx="1.8" ry="0.9" transform="rotate(114 406.5 27.1)" fill="#b0b0b0"/>
<ellipse cx="412.3" cy="44.6" rx="1.8" ry="0.9" transform="rotate(171 412.3 44.6)" fill="#b0b0b0"/>
<ellipse cx="407.1" cy="46.9" rx="1.8" ry="0.9" transform="rotate(90 407.1 46.9)" fill="#b0b0b0"/>
<ellipse cx="416.1" cy="40.7" rx="1.8" ry="0.9" transform="rotate(15 416.1 40.7)" fill="#b0b0b0"/>
<ellipse cx="415.3" cy="43.6" rx="1.8" ry="0.9" transform="rotate(63 415.3 43.6)" fill="#b0b0b0"/>
<ellipse cx="404.4" cy="44.2" rx="1.8" ry="0.9" transform="rotate(127 404.4 44.2)" fill="#b0b0b0"/>
<ellipse cx="421.3" cy="41.1" rx="1.8" ry="0.9" transform="rotate(140 421.3 41.1)" fill="#b0b0b0"/>
<ellipse cx="413.2" cy="41.6" rx="1.8" ry="0.9" transform="rotate(110 413.2 41.6)" fill="#b0b0b0"/>
<ellipse cx="418.3" cy="32.0" rx="1.8" ry="0.9" transform="rotate(106 418.3 32.0)" fill="#b0b0b0"/>
<ellipse cx="424.3" cy="36.1" rx="1.8" ry="0.9" transform="rotate(97 424.3 36.1)" fill="#b0b0b0"/>
<ellipse cx="418.7" cy="35.7" rx="1.8" ry="0.9" transform="rotate(45 418.7 35.7)" fill="#b0b0b0"/>
<ellipse cx="419.9" cy="45.3" rx="1.8" ry="0.9" transform="rotate(3 419.9 45.3)" fill="#b0b0b0"/>
<ellipse cx="404.4" cy="37.9" rx="1.8" ry="0.9" transform="rotate(67 404.4 37.9)" fill="#b0b0b0"/>
<ellipse cx="413.0" cy="41.7" rx="1.8" ry="0.9" transform="rotate(136 413.0 41.7)" fill="#b0b0b0"/>
<ellipse cx="407.6" cy="43.9" rx="1.8" ry="0.9" transform="rotate(32 407.6 43.9)" fill="#b0b0b0"/>
<ellipse cx="410.7" cy="28.6" rx="1.8" ry="0.9" transform="rotate(158 410.7 28.6)" fill="#b0b0b0"/>
<ellipse cx="408.0" cy="28.1" rx="1.8" ry="0.9" transform="rotate(116 408.0 28.1)" fill="#b0b0b0"/>
<ellipse cx="422.9" cy="30.5" rx="1.8" ry="0.9" transform="rotate(174 422.9 30.5)" fill="#b0b0b0"/>
<ellipse cx="416.3" cy="29.5" rx="1.8" ry="0.9" transform="rotate(102 416.3 29.5)" fill="#b0b0b0"/>
<ellipse cx="407.2" cy="42.4" rx="1.8" ry="0.9" transform="rotate(102 407.2 42.4)" fill="#b0b0b0"/>
<ellipse cx="417.0" cy="38.2" rx="1.8" ry="0.9" transform="rotate(53 417.0 38.2)" fill="#b0b0b0"/>
<ellipse cx="410.1" cy="38.5" rx="1.8" ry="0.9" transform="rotate(153 410.1 38.5)" fill="#b0b0b0"/>
<ellipse cx="414.2" cy="37.1" rx="1.8" ry="0.9" transform="rotate(38 414.2 37.1)" fill="#b0b0b0"/>
<ellipse cx="402.1" cy="34.2" rx="1.8" ry="0.9" transform="rotate(157 402.1 34.2)" fill="#b0b0b0"/>
<ellipse cx="425.5" cy="38.9" rx="1.8" ry="0.9" transform="rotate(157 425.5 38.9)" fill="#b0b0b0"/>
<ellipse cx="406.9" cy="44.0" rx="1.8" ry="0.9" transform="rotate(88 406.9 44.0)" fill="#b0b0b0"/>
<ellipse cx="407.1" cy="31.8" rx="1.8" ry="0.9" transform="rotate(29 407.1 31.8)" fill="#b0b0b0"/>
<ellipse cx="421.3" cy="26.9" rx="1.8" ry="0.9" transform="rotate(119 421.3 26.9)" fill="#b0b0b0"/>
<ellipse cx="407.1" cy="37.9" rx="1.8" ry="0.9" transform="rotate(36 407.1 37.9)" fill="#b0b0b0"/>
<ellipse cx="419.9" cy="41.4" rx="1.8" ry="0.9" transform="rotate(67 419.9 41.4)" fill="#b0b0b0"/>
<ellipse cx="403.7" cy="38.4" rx="1.8" ry="0.9" transform="rotate(132 403.7 38.4)" fill="#b0b0b0"/>
<ellipse cx="426.1" cy="38.8" rx="1.8" ry="0.9" transform="rotate(135 426.1 38.8)" fill="#b0b0b0"/>
<ellipse cx="407.3" cy="44.9" rx="1.8" ry="0.9" transform="rotate(6 407.3 44.9)" fill="#b0b0b0"/>
<ellipse cx="414.3" cy="30.2" rx="1.8" ry="0.9" transform="rotate(164 414.3 30.2)" fill="#b0b0b0"/>
<ellipse cx="420.8" cy="29.1" rx="1.8" ry="0.9" transform="rotate(66 420.8 29.1)" fill="#b0b0b0"/>
<ellipse cx="402.2" cy="35.6" rx="1.8" ry="0.9" transform="rotate(91 402.2 35.6)" fill="#b0b0b0"/>
<ellipse cx="415.3" cy="28.0" rx="1.8" ry="0.9" transform="rotate(128 415.3 28.0)" fill="#b0b0b0"/>
<ellipse cx="411.2" cy="42.2" rx="1.8" ry="0.9" transform="rotate(49 411.2 42.2)" fill="#b0b0b0"/>
<ellipse cx="417.9" cy="26.4" rx="1.8" ry="0.9" transform="rotate(58 417.9 26.4)" fill="#b0b0b0"/>
<ellipse cx="416.7" cy="45.3" rx="1.8" ry="0.9" transform="rotate(7 416.7 45.3)" fill="#b0b0b0"/>
<ellipse cx="425.1" cy="36.3" rx="1.8" ry="0.9" transform="rotate(120 425.1 36.3)" fill="#b0b0b0"/>
<ellipse cx="413.4" cy="47.4" rx="1.8" ry="0.9" transform="rotate(88 413.4 47.4)" fill="#b0b0b0"/>
<ellipse cx="402.6" cy="40.9" rx="1.8" ry="0.9" transform="rotate(89 402.6 40.9)" fill="#b0b0b0"/>
<ellipse cx="421.2" cy="34.9" rx="1.8" ry="0.9" transform="rotate(56 421.2 34.9)" fill="#b0b0b0"/>
<ellipse cx="420.9" cy="42.1" rx="1.8" ry="0.9" transform="rotate(86 420.9 42.1)" fill="#b0b0b0"/>
<ellipse cx="416.8" cy="46.5" rx="1.8" ry="0.9" transform="rotate(156 416.8 46.5)" fill="#b0b0b0"/>
<ellipse cx="418.7" cy="29.7" rx="1.8" ry="0.9" transform="rotate(167 418.7 29.7)" fill="#b0b0b0"/>
<ellipse cx="408.4" cy="45.3" rx="1.8" ry="0.9" transform="rotate(169 408.4 45.3)" fill="#b0b0b0"/>
<ellipse cx="419.7" cy="42.3" rx="1.8" ry="0.9" transform="rotate(51 419.7 42.3)" fill="#b0b0b0"/>
<ellipse cx="408.8" cy="37.7" rx="1.8" ry="0.9" transform="rotate(162 408.8 37.7)" fill="#b0b0b0"/>
<ellipse cx="408.5" cy="46.7" rx="1.8" ry="0.9" transform="rotate(101 408.5 46.7)" fill="#b0b0b0"/>
<ellipse cx="403.5" cy="39.5" rx="1.8" ry="0.9" transform="rotate(21 403.5 39.5)" fill="#b0b0b0"/>
<ellipse cx="406.9" cy="33.6" rx="1.2" ry="0.6" transform="rotate(147 406.9 33.6)" fill="#44c044"/>
<ellipse cx="422.1" cy="37.8" rx="1.2" ry="0.6" transform="rotate(125 422.1 37.8)" fill="#44c044"/>
<ellipse cx="418.3" cy="28.3" rx="1.2" ry="0.6" transform="rotate(41 418.3 28.3)" fill="#44c044"/>
<ellipse cx="422.2" cy="38.8" rx="1.2" ry="0.6" transform="rotate(19 422.2 38.8)" fill="#44c044"/>
<ellipse cx="414.0" cy="48.7" rx="1.2" ry="0.6" transform="rotate(92 414.0 48.7)" fill="#44c044"/>
<ellipse cx="424.7" cy="40.1" rx="1.2" ry="0.6" transform="rotate(154 424.7 40.1)" fill="#44c044"/>
<ellipse cx="409.2" cy="43.2" rx="1.2" ry="0.6" transform="rotate(172 409.2 43.2)" fill="#44c044"/>
<ellipse cx="413.6" cy="42.0" rx="1.2" ry="0.6" transform="rotate(77 413.6 42.0)" fill="#44c044"/>
<ellipse cx="411.7" cy="33.3" rx="1.2" ry="0.6" transform="rotate(61 411.7 33.3)" fill="#44c044"/>
<ellipse cx="423.2" cy="35.2" rx="1.2" ry="0.6" transform="rotate(11 423.2 35.2)" fill="#44c044"/>
<ellipse cx="408.9" cy="34.1" rx="1.2" ry="0.6" transform="rotate(49 408.9 34.1)" fill="#44c044"/>
<ellipse cx="420.2" cy="34.6" rx="1.2" ry="0.6" transform="rotate(93 420.2 34.6)" fill="#44c044"/>
<ellipse cx="414.8" cy="31.2" rx="1.2" ry="0.6" transform="rotate(170 414.8 31.2)" fill="#44c044"/>
<ellipse cx="406.4" cy="34.6" rx="1.2" ry="0.6" transform="rotate(16 406.4 34.6)" fill="#44c044"/>
<ellipse cx="410.1" cy="31.4" rx="1.2" ry="0.6" transform="rotate(128 410.1 31.4)" fill="#44c044"/>
<ellipse cx="417.2" cy="41.7" rx="1.2" ry="0.6" transform="rotate(105 417.2 41.7)" fill="#44c044"/>
</g></g>
<g clip-path="url(#cC1)"><g filter="url(#bl08)">
<path d="M399.6,53.1 L407,53.1 L399.6,61 Z" fill="#bbb"/>
<ellipse cx="416.1" cy="79.2" rx="1.8" ry="1.0" transform="rotate(32 416.1 79.2)" fill="#c0c0c0"/>
<ellipse cx="415.3" cy="70.3" rx="1.8" ry="1.0" transform="rotate(35 415.3 70.3)" fill="#c0c0c0"/>
<ellipse cx="414.7" cy="79.5" rx="1.8" ry="1.0" transform="rotate(53 414.7 79.5)" fill="#c0c0c0"/>
<ellipse cx="412.9" cy="69.2" rx="1.8" ry="1.0" transform="rotate(124 412.9 69.2)" fill="#c0c0c0"/>
<ellipse cx="406.8" cy="70.3" rx="1.8" ry="1.0" transform="rotate(49 406.8 70.3)" fill="#c0c0c0"/>
<ellipse cx="420.3" cy="63.6" rx="1.8" ry="1.0" transform="rotate(124 420.3 63.6)" fill="#c0c0c0"/>
<ellipse cx="414.7" cy="69.6" rx="1.8" ry="1.0" transform="rotate(68 414.7 69.6)" fill="#c0c0c0"/>
<ellipse cx="406.6" cy="67.0" rx="1.8" ry="1.0" transform="rotate(97 406.6 67.0)" fill="#c0c0c0"/>
<ellipse cx="413.1" cy="58.7" rx="1.8" ry="1.0" transform="rotate(24 413.1 58.7)" fill="#c0c0c0"/>
<ellipse cx="417.4" cy="67.8" rx="1.8" ry="1.0" transform="rotate(158 417.4 67.8)" fill="#c0c0c0"/>
<ellipse cx="416.3" cy="64.7" rx="1.8" ry="1.0" transform="rotate(14 416.3 64.7)" fill="#c0c0c0"/>
<ellipse cx="409.5" cy="76.1" rx="1.8" ry="1.0" transform="rotate(127 409.5 76.1)" fill="#c0c0c0"/>
<ellipse cx="421.3" cy="63.3" rx="1.8" ry="1.0" transform="rotate(53 421.3 63.3)" fill="#c0c0c0"/>
<ellipse cx="410.7" cy="65.9" rx="1.8" ry="1.0" transform="rotate(16 410.7 65.9)" fill="#c0c0c0"/>
<ellipse cx="412.3" cy="67.5" rx="1.8" ry="1.0" transform="rotate(179 412.3 67.5)" fill="#c0c0c0"/>
<ellipse cx="418.4" cy="78.5" rx="1.8" ry="1.0" transform="rotate(148 418.4 78.5)" fill="#c0c0c0"/>
<ellipse cx="406.0" cy="70.4" rx="1.8" ry="1.0" transform="rotate(113 406.0 70.4)" fill="#c0c0c0"/>
<ellipse cx="413.0" cy="74.7" rx="1.8" ry="1.0" transform="rotate(109 413.0 74.7)" fill="#c0c0c0"/>
<ellipse cx="421.1" cy="75.5" rx="1.8" ry="1.0" transform="rotate(24 421.1 75.5)" fill="#c0c0c0"/>
<ellipse cx="408.2" cy="66.7" rx="1.8" ry="1.0" transform="rotate(91 408.2 66.7)" fill="#c0c0c0"/>
<ellipse cx="424.5" cy="64.7" rx="1.8" ry="1.0" transform="rotate(128 424.5 64.7)" fill="#c0c0c0"/>
<ellipse cx="410.0" cy="63.5" rx="1.8" ry="1.0" transform="rotate(91 410.0 63.5)" fill="#c0c0c0"/>
<ellipse cx="406.4" cy="66.5" rx="1.8" ry="1.0" transform="rotate(18 406.4 66.5)" fill="#c0c0c0"/>
<ellipse cx="418.3" cy="58.1" rx="1.8" ry="1.0" transform="rotate(179 418.3 58.1)" fill="#c0c0c0"/>
<ellipse cx="408.0" cy="66.1" rx="1.8" ry="1.0" transform="rotate(3 408.0 66.1)" fill="#c0c0c0"/>
<ellipse cx="413.0" cy="73.2" rx="1.8" ry="1.0" transform="rotate(8 413.0 73.2)" fill="#c0c0c0"/>
<ellipse cx="408.2" cy="71.3" rx="1.8" ry="1.0" transform="rotate(180 408.2 71.3)" fill="#c0c0c0"/>
<ellipse cx="418.2" cy="65.0" rx="1.8" ry="1.0" transform="rotate(101 418.2 65.0)" fill="#c0c0c0"/>
<ellipse cx="422.8" cy="75.4" rx="1.8" ry="1.0" transform="rotate(6 422.8 75.4)" fill="#c0c0c0"/>
<ellipse cx="417.5" cy="77.6" rx="1.8" ry="1.0" transform="rotate(76 417.5 77.6)" fill="#c0c0c0"/>
<ellipse cx="422.1" cy="74.9" rx="1.8" ry="1.0" transform="rotate(97 422.1 74.9)" fill="#c0c0c0"/>
<ellipse cx="411.9" cy="72.0" rx="1.8" ry="1.0" transform="rotate(111 411.9 72.0)" fill="#c0c0c0"/>
<ellipse cx="418.0" cy="65.6" rx="1.8" ry="1.0" transform="rotate(144 418.0 65.6)" fill="#c0c0c0"/>
<ellipse cx="407.5" cy="70.5" rx="1.8" ry="1.0" transform="rotate(150 407.5 70.5)" fill="#c0c0c0"/>
<ellipse cx="423.3" cy="72.1" rx="1.8" ry="1.0" transform="rotate(8 423.3 72.1)" fill="#c0c0c0"/>
<ellipse cx="417.7" cy="69.9" rx="1.8" ry="1.0" transform="rotate(133 417.7 69.9)" fill="#c0c0c0"/>
<ellipse cx="410.1" cy="67.2" rx="1.8" ry="1.0" transform="rotate(129 410.1 67.2)" fill="#c0c0c0"/>
<ellipse cx="410.1" cy="68.3" rx="1.8" ry="1.0" transform="rotate(154 410.1 68.3)" fill="#c0c0c0"/>
<ellipse cx="415.9" cy="68.6" rx="1.8" ry="1.0" transform="rotate(35 415.9 68.6)" fill="#c0c0c0"/>
<ellipse cx="409.5" cy="75.9" rx="1.8" ry="1.0" transform="rotate(30 409.5 75.9)" fill="#c0c0c0"/>
<ellipse cx="414.2" cy="61.2" rx="1.8" ry="1.0" transform="rotate(93 414.2 61.2)" fill="#c0c0c0"/>
<ellipse cx="425.0" cy="68.2" rx="1.8" ry="1.0" transform="rotate(53 425.0 68.2)" fill="#c0c0c0"/>
<ellipse cx="422.9" cy="71.4" rx="1.8" ry="1.0" transform="rotate(148 422.9 71.4)" fill="#c0c0c0"/>
<ellipse cx="417.6" cy="73.9" rx="1.8" ry="1.0" transform="rotate(110 417.6 73.9)" fill="#c0c0c0"/>
<ellipse cx="411.4" cy="69.2" rx="1.8" ry="1.0" transform="rotate(154 411.4 69.2)" fill="#c0c0c0"/>
<ellipse cx="416.2" cy="78.2" rx="1.8" ry="1.0" transform="rotate(39 416.2 78.2)" fill="#c0c0c0"/>
<ellipse cx="411.7" cy="70.6" rx="1.8" ry="1.0" transform="rotate(115 411.7 70.6)" fill="#c0c0c0"/>
<ellipse cx="408.7" cy="60.2" rx="1.8" ry="1.0" transform="rotate(131 408.7 60.2)" fill="#c0c0c0"/>
<ellipse cx="413.0" cy="58.4" rx="1.8" ry="1.0" transform="rotate(120 413.0 58.4)" fill="#c0c0c0"/>
<ellipse cx="404.9" cy="63.9" rx="1.8" ry="1.0" transform="rotate(116 404.9 63.9)" fill="#c0c0c0"/>
<ellipse cx="415.3" cy="73.1" rx="1.8" ry="1.0" transform="rotate(114 415.3 73.1)" fill="#c0c0c0"/>
<ellipse cx="418.5" cy="71.4" rx="1.8" ry="1.0" transform="rotate(1 418.5 71.4)" fill="#c0c0c0"/>
<ellipse cx="412.2" cy="59.3" rx="1.8" ry="1.0" transform="rotate(5 412.2 59.3)" fill="#c0c0c0"/>
<ellipse cx="408.6" cy="59.3" rx="1.8" ry="1.0" transform="rotate(135 408.6 59.3)" fill="#c0c0c0"/>
<ellipse cx="423.9" cy="74.3" rx="1.8" ry="1.0" transform="rotate(153 423.9 74.3)" fill="#c0c0c0"/>
<ellipse cx="404.8" cy="67.8" rx="1.8" ry="1.0" transform="rotate(51 404.8 67.8)" fill="#c0c0c0"/>
<ellipse cx="408.0" cy="67.9" rx="1.8" ry="1.0" transform="rotate(98 408.0 67.9)" fill="#c0c0c0"/>
<ellipse cx="414.1" cy="58.8" rx="1.8" ry="1.0" transform="rotate(1 414.1 58.8)" fill="#c0c0c0"/>
<ellipse cx="413.0" cy="74.1" rx="1.8" ry="1.0" transform="rotate(20 413.0 74.1)" fill="#c0c0c0"/>
<ellipse cx="414.0" cy="56.9" rx="1.8" ry="1.0" transform="rotate(103 414.0 56.9)" fill="#c0c0c0"/>
<ellipse cx="415.5" cy="74.2" rx="1.8" ry="1.0" transform="rotate(140 415.5 74.2)" fill="#c0c0c0"/>
<ellipse cx="405.8" cy="72.8" rx="1.8" ry="1.0" transform="rotate(82 405.8 72.8)" fill="#c0c0c0"/>
<ellipse cx="405.5" cy="67.1" rx="1.8" ry="1.0" transform="rotate(91 405.5 67.1)" fill="#c0c0c0"/>
<ellipse cx="415.8" cy="61.9" rx="1.8" ry="1.0" transform="rotate(27 415.8 61.9)" fill="#c0c0c0"/>
<ellipse cx="416.8" cy="74.6" rx="1.8" ry="1.0" transform="rotate(149 416.8 74.6)" fill="#c0c0c0"/>
<ellipse cx="418.2" cy="62.7" rx="1.8" ry="1.0" transform="rotate(74 418.2 62.7)" fill="#c0c0c0"/>
<ellipse cx="408.8" cy="72.3" rx="1.8" ry="1.0" transform="rotate(175 408.8 72.3)" fill="#c0c0c0"/>
<ellipse cx="405.0" cy="66.6" rx="1.8" ry="1.0" transform="rotate(91 405.0 66.6)" fill="#c0c0c0"/>
<ellipse cx="418.4" cy="59.9" rx="1.8" ry="1.0" transform="rotate(92 418.4 59.9)" fill="#c0c0c0"/>
<ellipse cx="412.1" cy="63.5" rx="1.8" ry="1.0" transform="rotate(135 412.1 63.5)" fill="#c0c0c0"/>
<ellipse cx="407.4" cy="70.2" rx="1.1" ry="0.4" transform="rotate(119 407.4 70.2)" fill="#44b044"/>
<ellipse cx="405.7" cy="70.8" rx="1.1" ry="0.4" transform="rotate(48 405.7 70.8)" fill="#44b044"/>
<ellipse cx="417.4" cy="74.6" rx="1.1" ry="0.4" transform="rotate(161 417.4 74.6)" fill="#44b044"/>
<ellipse cx="411.2" cy="65.2" rx="1.1" ry="0.4" transform="rotate(114 411.2 65.2)" fill="#44b044"/>
<ellipse cx="413.5" cy="70.8" rx="1.1" ry="0.4" transform="rotate(177 413.5 70.8)" fill="#44b044"/>
<ellipse cx="409.4" cy="62.2" rx="1.1" ry="0.4" transform="rotate(101 409.4 62.2)" fill="#44b044"/>
</g></g>
<g clip-path="url(#cC2)"><g filter="url(#bl08)">
<ellipse cx="405.4" cy="99.0" rx="1.8" ry="1.1" transform="rotate(35 405.4 99.0)" fill="#c4c4c4"/>
<ellipse cx="418.7" cy="108.0" rx="1.8" ry="1.1" transform="rotate(86 418.7 108.0)" fill="#c4c4c4"/>
<ellipse cx="400.3" cy="96.8" rx="1.8" ry="1.1" transform="rotate(20 400.3 96.8)" fill="#c4c4c4"/>
<ellipse cx="406.9" cy="109.1" rx="1.8" ry="1.1" transform="rotate(179 406.9 109.1)" fill="#c4c4c4"/>
<ellipse cx="422.6" cy="99.3" rx="1.8" ry="1.1" transform="rotate(180 422.6 99.3)" fill="#c4c4c4"/>
<ellipse cx="427.3" cy="92.3" rx="1.8" ry="1.1" transform="rotate(108 427.3 92.3)" fill="#c4c4c4"/>
<ellipse cx="417.9" cy="102.9" rx="1.8" ry="1.1" transform="rotate(28 417.9 102.9)" fill="#c4c4c4"/>
<ellipse cx="423.1" cy="107.0" rx="1.8" ry="1.1" transform="rotate(151 423.1 107.0)" fill="#c4c4c4"/>
<ellipse cx="425.1" cy="101.7" rx="1.8" ry="1.1" transform="rotate(26 425.1 101.7)" fill="#c4c4c4"/>
<ellipse cx="419.7" cy="93.8" rx="1.8" ry="1.1" transform="rotate(57 419.7 93.8)" fill="#c4c4c4"/>
<ellipse cx="412.6" cy="87.7" rx="1.8" ry="1.1" transform="rotate(22 412.6 87.7)" fill="#c4c4c4"/>
<ellipse cx="416.0" cy="83.3" rx="1.8" ry="1.1" transform="rotate(101 416.0 83.3)" fill="#c4c4c4"/>
<ellipse cx="411.5" cy="109.8" rx="1.8" ry="1.1" transform="rotate(51 411.5 109.8)" fill="#c4c4c4"/>
<ellipse cx="413.7" cy="96.0" rx="1.8" ry="1.1" transform="rotate(105 413.7 96.0)" fill="#c4c4c4"/>
<ellipse cx="422.4" cy="100.0" rx="1.8" ry="1.1" transform="rotate(125 422.4 100.0)" fill="#c4c4c4"/>
<ellipse cx="418.5" cy="102.4" rx="1.8" ry="1.1" transform="rotate(28 418.5 102.4)" fill="#c4c4c4"/>
<ellipse cx="414.9" cy="96.8" rx="1.8" ry="1.1" transform="rotate(148 414.9 96.8)" fill="#c4c4c4"/>
<ellipse cx="418.3" cy="109.7" rx="1.8" ry="1.1" transform="rotate(84 418.3 109.7)" fill="#c4c4c4"/>
<ellipse cx="418.2" cy="97.2" rx="1.8" ry="1.1" transform="rotate(138 418.2 97.2)" fill="#c4c4c4"/>
<ellipse cx="422.9" cy="91.9" rx="1.8" ry="1.1" transform="rotate(146 422.9 91.9)" fill="#c4c4c4"/>
<ellipse cx="400.1" cy="97.3" rx="1.8" ry="1.1" transform="rotate(107 400.1 97.3)" fill="#c4c4c4"/>
<ellipse cx="419.8" cy="99.7" rx="1.8" ry="1.1" transform="rotate(23 419.8 99.7)" fill="#c4c4c4"/>
<ellipse cx="412.3" cy="91.7" rx="1.8" ry="1.1" transform="rotate(155 412.3 91.7)" fill="#c4c4c4"/>
<ellipse cx="413.4" cy="94.1" rx="1.8" ry="1.1" transform="rotate(69 413.4 94.1)" fill="#c4c4c4"/>
<ellipse cx="403.4" cy="93.2" rx="1.8" ry="1.1" transform="rotate(38 403.4 93.2)" fill="#c4c4c4"/>
<ellipse cx="413.6" cy="84.6" rx="1.8" ry="1.1" transform="rotate(147 413.6 84.6)" fill="#c4c4c4"/>
<ellipse cx="419.1" cy="96.9" rx="1.8" ry="1.1" transform="rotate(180 419.1 96.9)" fill="#c4c4c4"/>
<ellipse cx="402.7" cy="104.9" rx="1.8" ry="1.1" transform="rotate(41 402.7 104.9)" fill="#c4c4c4"/>
<ellipse cx="411.7" cy="95.1" rx="1.8" ry="1.1" transform="rotate(93 411.7 95.1)" fill="#c4c4c4"/>
<ellipse cx="419.9" cy="88.4" rx="1.8" ry="1.1" transform="rotate(144 419.9 88.4)" fill="#c4c4c4"/>
<ellipse cx="414.7" cy="92.8" rx="1.8" ry="1.1" transform="rotate(88 414.7 92.8)" fill="#c4c4c4"/>
<ellipse cx="424.5" cy="105.7" rx="1.8" ry="1.1" transform="rotate(93 424.5 105.7)" fill="#c4c4c4"/>
<ellipse cx="405.2" cy="99.8" rx="1.8" ry="1.1" transform="rotate(147 405.2 99.8)" fill="#c4c4c4"/>
<ellipse cx="413.8" cy="88.1" rx="1.8" ry="1.1" transform="rotate(155 413.8 88.1)" fill="#c4c4c4"/>
<ellipse cx="409.5" cy="105.4" rx="1.8" ry="1.1" transform="rotate(54 409.5 105.4)" fill="#c4c4c4"/>
<ellipse cx="415.3" cy="104.4" rx="1.8" ry="1.1" transform="rotate(22 415.3 104.4)" fill="#c4c4c4"/>
<ellipse cx="411.3" cy="104.2" rx="1.8" ry="1.1" transform="rotate(132 411.3 104.2)" fill="#c4c4c4"/>
<ellipse cx="414.5" cy="94.7" rx="1.8" ry="1.1" transform="rotate(143 414.5 94.7)" fill="#c4c4c4"/>
<ellipse cx="417.6" cy="87.4" rx="1.8" ry="1.1" transform="rotate(63 417.6 87.4)" fill="#c4c4c4"/>
<ellipse cx="410.6" cy="95.5" rx="1.8" ry="1.1" transform="rotate(165 410.6 95.5)" fill="#c4c4c4"/>
<ellipse cx="415.7" cy="111.1" rx="1.8" ry="1.1" transform="rotate(102 415.7 111.1)" fill="#c4c4c4"/>
<ellipse cx="399.9" cy="96.1" rx="1.8" ry="1.1" transform="rotate(143 399.9 96.1)" fill="#c4c4c4"/>
<ellipse cx="405.9" cy="105.7" rx="1.8" ry="1.1" transform="rotate(43 405.9 105.7)" fill="#c4c4c4"/>
<ellipse cx="409.2" cy="84.3" rx="1.8" ry="1.1" transform="rotate(7 409.2 84.3)" fill="#c4c4c4"/>
<ellipse cx="427.6" cy="101.5" rx="1.8" ry="1.1" transform="rotate(44 427.6 101.5)" fill="#c4c4c4"/>
<ellipse cx="413.5" cy="102.9" rx="1.8" ry="1.1" transform="rotate(30 413.5 102.9)" fill="#c4c4c4"/>
<ellipse cx="412.8" cy="96.0" rx="1.8" ry="1.1" transform="rotate(15 412.8 96.0)" fill="#c4c4c4"/>
<ellipse cx="401.8" cy="100.9" rx="1.8" ry="1.1" transform="rotate(75 401.8 100.9)" fill="#c4c4c4"/>
<ellipse cx="403.1" cy="87.8" rx="1.8" ry="1.1" transform="rotate(90 403.1 87.8)" fill="#c4c4c4"/>
<ellipse cx="411.8" cy="106.8" rx="1.8" ry="1.1" transform="rotate(71 411.8 106.8)" fill="#c4c4c4"/>
<ellipse cx="416.8" cy="100.2" rx="1.8" ry="1.1" transform="rotate(142 416.8 100.2)" fill="#c4c4c4"/>
<ellipse cx="412.6" cy="101.8" rx="1.8" ry="1.1" transform="rotate(107 412.6 101.8)" fill="#c4c4c4"/>
<ellipse cx="402.4" cy="100.7" rx="1.8" ry="1.1" transform="rotate(98 402.4 100.7)" fill="#c4c4c4"/>
<ellipse cx="403.0" cy="90.2" rx="1.8" ry="1.1" transform="rotate(169 403.0 90.2)" fill="#c4c4c4"/>
<ellipse cx="411.3" cy="84.6" rx="1.8" ry="1.1" transform="rotate(155 411.3 84.6)" fill="#c4c4c4"/>
<ellipse cx="409.4" cy="97.2" rx="1.8" ry="1.1" transform="rotate(12 409.4 97.2)" fill="#c4c4c4"/>
<ellipse cx="413.1" cy="102.1" rx="1.8" ry="1.1" transform="rotate(161 413.1 102.1)" fill="#c4c4c4"/>
<ellipse cx="416.5" cy="91.7" rx="1.8" ry="1.1" transform="rotate(56 416.5 91.7)" fill="#c4c4c4"/>
<ellipse cx="418.1" cy="91.9" rx="1.8" ry="1.1" transform="rotate(121 418.1 91.9)" fill="#c4c4c4"/>
<ellipse cx="403.6" cy="99.9" rx="1.8" ry="1.1" transform="rotate(99 403.6 99.9)" fill="#c4c4c4"/>
<ellipse cx="423.3" cy="102.4" rx="1.8" ry="1.1" transform="rotate(151 423.3 102.4)" fill="#c4c4c4"/>
<ellipse cx="424.0" cy="93.5" rx="1.8" ry="1.1" transform="rotate(166 424.0 93.5)" fill="#c4c4c4"/>
<ellipse cx="428.2" cy="99.6" rx="1.8" ry="1.1" transform="rotate(111 428.2 99.6)" fill="#c4c4c4"/>
<ellipse cx="403.9" cy="94.1" rx="1.8" ry="1.1" transform="rotate(137 403.9 94.1)" fill="#c4c4c4"/>
<ellipse cx="405.9" cy="86.9" rx="1.8" ry="1.1" transform="rotate(164 405.9 86.9)" fill="#c4c4c4"/>
<ellipse cx="401.3" cy="90.7" rx="1.8" ry="1.1" transform="rotate(16 401.3 90.7)" fill="#c4c4c4"/>
<ellipse cx="412.1" cy="84.8" rx="1.8" ry="1.1" transform="rotate(26 412.1 84.8)" fill="#c4c4c4"/>
<ellipse cx="422.2" cy="103.0" rx="1.8" ry="1.1" transform="rotate(15 422.2 103.0)" fill="#c4c4c4"/>
<ellipse cx="402.5" cy="97.7" rx="1.8" ry="1.1" transform="rotate(13 402.5 97.7)" fill="#c4c4c4"/>
<ellipse cx="412.9" cy="94.8" rx="1.8" ry="1.1" transform="rotate(62 412.9 94.8)" fill="#c4c4c4"/>
<ellipse cx="419.0" cy="92.2" rx="1.8" ry="1.1" transform="rotate(146 419.0 92.2)" fill="#c4c4c4"/>
<ellipse cx="404.4" cy="87.4" rx="1.8" ry="1.1" transform="rotate(9 404.4 87.4)" fill="#c4c4c4"/>
<ellipse cx="411.0" cy="94.1" rx="1.8" ry="1.1" transform="rotate(12 411.0 94.1)" fill="#c4c4c4"/>
<ellipse cx="410.0" cy="88.7" rx="1.8" ry="1.1" transform="rotate(17 410.0 88.7)" fill="#c4c4c4"/>
<ellipse cx="416.3" cy="98.3" rx="1.8" ry="1.1" transform="rotate(46 416.3 98.3)" fill="#c4c4c4"/>
<ellipse cx="416.2" cy="98.3" rx="1.8" ry="1.1" transform="rotate(159 416.2 98.3)" fill="#c4c4c4"/>
<ellipse cx="403.6" cy="99.0" rx="1.8" ry="1.1" transform="rotate(6 403.6 99.0)" fill="#c4c4c4"/>
<ellipse cx="412.9" cy="93.2" rx="1.8" ry="1.1" transform="rotate(21 412.9 93.2)" fill="#c4c4c4"/>
<ellipse cx="414.3" cy="95.7" rx="1.8" ry="1.1" transform="rotate(114 414.3 95.7)" fill="#c4c4c4"/>
<ellipse cx="401.9" cy="89.3" rx="1.8" ry="1.1" transform="rotate(122 401.9 89.3)" fill="#c4c4c4"/>
<ellipse cx="416.3" cy="92.9" rx="1.8" ry="1.1" transform="rotate(89 416.3 92.9)" fill="#c4c4c4"/>
<ellipse cx="409.4" cy="88.4" rx="1.8" ry="1.1" transform="rotate(33 409.4 88.4)" fill="#c4c4c4"/>
<ellipse cx="416.4" cy="103.4" rx="1.8" ry="1.1" transform="rotate(28 416.4 103.4)" fill="#c4c4c4"/>
<ellipse cx="417.7" cy="98.3" rx="1.8" ry="1.1" transform="rotate(165 417.7 98.3)" fill="#c4c4c4"/>
<ellipse cx="422.8" cy="95.7" rx="1.8" ry="1.1" transform="rotate(6 422.8 95.7)" fill="#c4c4c4"/>
<ellipse cx="403.7" cy="99.1" rx="1.8" ry="1.1" transform="rotate(94 403.7 99.1)" fill="#c4c4c4"/>
<ellipse cx="416.9" cy="94.1" rx="1.8" ry="1.1" transform="rotate(1 416.9 94.1)" fill="#c4c4c4"/>
<ellipse cx="413.6" cy="107.4" rx="1.8" ry="1.1" transform="rotate(50 413.6 107.4)" fill="#c4c4c4"/>
<ellipse cx="421.3" cy="97.7" rx="1.8" ry="1.1" transform="rotate(156 421.3 97.7)" fill="#c4c4c4"/>
<ellipse cx="418.6" cy="97.6" rx="1.8" ry="1.1" transform="rotate(106 418.6 97.6)" fill="#c4c4c4"/>
<ellipse cx="420.8" cy="99.6" rx="1.8" ry="1.1" transform="rotate(80 420.8 99.6)" fill="#c4c4c4"/>
<ellipse cx="408.6" cy="92.8" rx="1.8" ry="1.1" transform="rotate(15 408.6 92.8)" fill="#c4c4c4"/>
<ellipse cx="411.8" cy="92.2" rx="1.8" ry="1.1" transform="rotate(9 411.8 92.2)" fill="#c4c4c4"/>
<ellipse cx="418.4" cy="83.4" rx="1.8" ry="1.1" transform="rotate(103 418.4 83.4)" fill="#c4c4c4"/>
<ellipse cx="426.3" cy="91.3" rx="1.8" ry="1.1" transform="rotate(77 426.3 91.3)" fill="#c4c4c4"/>
<ellipse cx="404.4" cy="98.5" rx="1.1" ry="0.4" transform="rotate(170 404.4 98.5)" fill="#44b044"/>
<ellipse cx="409.7" cy="103.0" rx="1.1" ry="0.4" transform="rotate(95 409.7 103.0)" fill="#44b044"/>
<ellipse cx="404.4" cy="98.1" rx="1.1" ry="0.4" transform="rotate(117 404.4 98.1)" fill="#44b044"/>
<ellipse cx="410.6" cy="88.3" rx="1.1" ry="0.4" transform="rotate(142 410.6 88.3)" fill="#44b044"/>
<ellipse cx="423.5" cy="97.1" rx="1.1" ry="0.4" transform="rotate(112 423.5 97.1)" fill="#44b044"/>
<ellipse cx="409.3" cy="102.2" rx="1.1" ry="0.4" transform="rotate(53 409.3 102.2)" fill="#44b044"/>
</g>
<rect x="412.5" y="109.2" width="14.5" height="1" fill="#fff"/></g>
<text x="388.3" y="48.6" font-size="6.8" text-anchor="start" fill="#231f20" stroke="#231f20" stroke-width="0.16" transform="rotate(-90 388.3 48.6)" textLength="21.4" lengthAdjust="spacingAndGlyphs">Normal</text>
<text x="385.5" y="108.9" font-size="7" text-anchor="start" fill="#231f20" stroke="#231f20" stroke-width="0.16" transform="rotate(-90 385.5 108.9)" textLength="49.4" lengthAdjust="spacingAndGlyphs">Hypocondensed</text>
<text x="397.3" y="122.5" font-size="7" text-anchor="start" fill="#231f20" stroke="#231f20" stroke-width="0.16" transform="rotate(-90 397.3 122.5)" textLength="43.0" lengthAdjust="spacingAndGlyphs">+ Unstructured</text>
<line x1="389.5" y1="53.4" x2="389.5" y2="116.4" stroke="#231f20" stroke-width="0.95"/>
<rect x="463.7" y="8.5" width="8.2" height="3.2" fill="#3db54a"/>
<text x="475" y="11.7" font-size="5.9" text-anchor="start" fill="#231f20" stroke="#231f20" stroke-width="0.16" textLength="31.2" lengthAdjust="spacingAndGlyphs">Hypocond. +</text>
<text x="475" y="17.7" font-size="5.9" text-anchor="start" fill="#231f20" stroke="#231f20" stroke-width="0.16" textLength="31.2" lengthAdjust="spacingAndGlyphs">unstructured</text>
<rect x="463.7" y="22.9" width="8.2" height="3.1" fill="#c8102e"/>
<text x="475" y="26" font-size="5.9" text-anchor="start" fill="#231f20" stroke="#231f20" stroke-width="0.16" textLength="26" lengthAdjust="spacingAndGlyphs">Hypocond.</text>
<rect x="463.7" y="31.2" width="8.2" height="3" fill="#145189"/>
<text x="475" y="34.2" font-size="5.9" text-anchor="start" fill="#231f20" stroke="#231f20" stroke-width="0.16" textLength="17.7" lengthAdjust="spacingAndGlyphs">Normal</text>
<line x1="461.5" y1="47.5" x2="461.5" y2="109.2" stroke="#231f20" stroke-width="1.0"/>
<line x1="458.7" y1="48.5" x2="461.2" y2="48.5" stroke="#231f20" stroke-width="0.9"/>
<text x="456.9" y="51.136" font-size="6.5" text-anchor="end" fill="#231f20" stroke="#231f20" stroke-width="0.16">100</text>
<line x1="458.7" y1="60.5" x2="461.2" y2="60.5" stroke="#231f20" stroke-width="0.9"/>
<text x="456.9" y="63.196000000000005" font-size="6.5" text-anchor="end" fill="#231f20" stroke="#231f20" stroke-width="0.16">80</text>
<line x1="458.7" y1="73.5" x2="461.2" y2="73.5" stroke="#231f20" stroke-width="0.9"/>
<text x="456.9" y="75.25600000000001" font-size="6.5" text-anchor="end" fill="#231f20" stroke="#231f20" stroke-width="0.16">60</text>
<line x1="458.7" y1="85.5" x2="461.2" y2="85.5" stroke="#231f20" stroke-width="0.9"/>
<text x="456.9" y="87.31600000000002" font-size="6.5" text-anchor="end" fill="#231f20" stroke="#231f20" stroke-width="0.16">40</text>
<line x1="458.7" y1="97.5" x2="461.2" y2="97.5" stroke="#231f20" stroke-width="0.9"/>
<text x="456.9" y="99.376" font-size="6.5" text-anchor="end" fill="#231f20" stroke="#231f20" stroke-width="0.16">20</text>
<line x1="458.7" y1="109.5" x2="461.2" y2="109.5" stroke="#231f20" stroke-width="0.9"/>
<text x="456.9" y="111.436" font-size="6.5" text-anchor="end" fill="#231f20" stroke="#231f20" stroke-width="0.16">0</text>
<line x1="461.2" y1="109.5" x2="509.6" y2="109.5" stroke="#231f20" stroke-width="0.95"/>
<line x1="472" y1="109.2" x2="472" y2="111.2" stroke="#231f20" stroke-width="0.6"/>
<line x1="499.1" y1="109.2" x2="499.1" y2="111.2" stroke="#231f20" stroke-width="0.6"/>
<rect x="465" y="48.900000000000006" width="14" height="60.3" fill="#c8102e"/>
<rect x="465" y="62.166000000000004" width="14" height="47.034" fill="#145189"/>
<rect x="465" y="48.900000000000006" width="14" height="0.7" fill="#6050a0"/>
<line x1="472.5" y1="69.0402" x2="472.5" y2="54.93000000000001" stroke="#000" stroke-width="0.95"/>
<line x1="469.1" y1="69.5" x2="474.9" y2="69.5" stroke="#000" stroke-width="0.95"/>
<line x1="469.1" y1="54.5" x2="474.9" y2="54.5" stroke="#000" stroke-width="0.95"/>
<line x1="469.1" y1="49.804500000000004" x2="474.9" y2="49.804500000000004" stroke="#000" stroke-width="0.6"/>
<rect x="492" y="48.900000000000006" width="14.2" height="60.3" fill="#3db54a"/>
<rect x="492" y="63.79410000000001" width="14.2" height="45.405899999999995" fill="#c8102e"/>
<rect x="492" y="98.7681" width="14.2" height="10.431899999999999" fill="#145189"/>
<line x1="499.5" y1="50.709" x2="499.5" y2="48.900000000000006" stroke="#000" stroke-width="0.95"/>
<line x1="496.20000000000005" y1="50.5" x2="502.0" y2="50.5" stroke="#000" stroke-width="0.95"/>
<line x1="496.20000000000005" y1="48.5" x2="502.0" y2="48.5" stroke="#000" stroke-width="0.95"/>
<line x1="499.5" y1="67.0503" x2="499.5" y2="60.47760000000001" stroke="#000" stroke-width="0.95"/>
<line x1="496.20000000000005" y1="67.5" x2="502.0" y2="67.5" stroke="#000" stroke-width="0.95"/>
<line x1="496.20000000000005" y1="60.5" x2="502.0" y2="60.5" stroke="#000" stroke-width="0.95"/>
<line x1="499.5" y1="104.3157" x2="499.5" y2="92.6778" stroke="#000" stroke-width="0.95"/>
<line x1="496.20000000000005" y1="104.5" x2="502.0" y2="104.5" stroke="#000" stroke-width="0.95"/>
<line x1="496.20000000000005" y1="92.5" x2="502.0" y2="92.5" stroke="#000" stroke-width="0.95"/>
<path d="M471.5,47.1 L471.5,44.5 L499.2,44.5 L499.2,47.1" stroke="#231f20" fill="none" stroke-width="0.9"/>
<text x="483" y="46" font-size="7" text-anchor="middle" fill="#231f20" stroke="#231f20" stroke-width="0.16">***</text>
<text x="438.7" y="99.1" font-size="9" text-anchor="start" fill="#231f20" stroke="#231f20" stroke-width="0.16" transform="rotate(-90 438.7 99.1)" textLength="44.1" lengthAdjust="spacingAndGlyphs">% metaphases</text>
<text x="472" y="120.8" font-size="7" text-anchor="middle" fill="#231f20" stroke="#231f20" stroke-width="0.16">Non</text>
<text x="472" y="127.7" font-size="7" text-anchor="middle" fill="#231f20" stroke="#231f20" stroke-width="0.16">HyperD</text>
<text x="499" y="120.8" font-size="7" text-anchor="middle" fill="#231f20" stroke="#231f20" stroke-width="0.16">HyperD</text>
<text x="7.2" y="148" font-size="12.5" text-anchor="start" fill="#000" font-weight="bold">D</text>
<line x1="46.5" y1="156.5" x2="46.5" y2="229.2" stroke="#231f20" stroke-width="1.0"/>
<line x1="44.2" y1="158.5" x2="46.7" y2="158.5" stroke="#231f20" stroke-width="0.9"/>
<text x="42.400000000000006" y="160.43599999999998" font-size="6.5" text-anchor="end" fill="#231f20" stroke="#231f20" stroke-width="0.16">2.0</text>
<line x1="44.2" y1="175.5" x2="46.7" y2="175.5" stroke="#231f20" stroke-width="0.9"/>
<text x="42.400000000000006" y="178.18599999999998" font-size="6.5" text-anchor="end" fill="#231f20" stroke="#231f20" stroke-width="0.16">1.5</text>
<line x1="44.2" y1="193.5" x2="46.7" y2="193.5" stroke="#231f20" stroke-width="0.9"/>
<text x="42.400000000000006" y="195.93599999999998" font-size="6.5" text-anchor="end" fill="#231f20" stroke="#231f20" stroke-width="0.16">1.0</text>
<line x1="44.2" y1="211.5" x2="46.7" y2="211.5" stroke="#231f20" stroke-width="0.9"/>
<text x="42.400000000000006" y="213.68599999999998" font-size="6.5" text-anchor="end" fill="#231f20" stroke="#231f20" stroke-width="0.16">0.5</text>
<line x1="44.2" y1="229.5" x2="46.7" y2="229.5" stroke="#231f20" stroke-width="0.9"/>
<text x="42.400000000000006" y="231.43599999999998" font-size="6.5" text-anchor="end" fill="#231f20" stroke="#231f20" stroke-width="0.16">0.0</text>
<line x1="46.7" y1="229.5" x2="94.6" y2="229.5" stroke="#231f20" stroke-width="0.95"/>
<line x1="58.7" y1="229.2" x2="58.7" y2="231.2" stroke="#231f20" stroke-width="0.6"/>
<line x1="85.8" y1="229.2" x2="85.8" y2="231.2" stroke="#231f20" stroke-width="0.6"/>
<rect x="51" y="196.54" width="15.3" height="32.66" fill="#7b9fc4"/>
<rect x="77.9" y="184.47" width="15.8" height="44.72999999999999" fill="#e5899a"/>
<circle cx="51.7" cy="191.5" r="0.72" fill="#1e5f9a"/>
<circle cx="53.0" cy="191.5" r="0.72" fill="#1e5f9a"/>
<circle cx="55.6" cy="191.5" r="0.72" fill="#1e5f9a"/>
<circle cx="56.9" cy="191.5" r="0.72" fill="#1e5f9a"/>
<circle cx="58.2" cy="191.5" r="0.72" fill="#1e5f9a"/>
<circle cx="59.5" cy="191.5" r="0.72" fill="#1e5f9a"/>
<circle cx="60.8" cy="191.5" r="0.72" fill="#1e5f9a"/>
<circle cx="62.1" cy="191.5" r="0.72" fill="#1e5f9a"/>
<circle cx="63.4" cy="191.5" r="0.72" fill="#1e5f9a"/>
<circle cx="64.7" cy="191.5" r="0.72" fill="#1e5f9a"/>
<circle cx="52.4" cy="193.5" r="0.72" fill="#1e5f9a"/>
<circle cx="53.6" cy="193.5" r="0.72" fill="#1e5f9a"/>
<circle cx="55.0" cy="193.5" r="0.72" fill="#1e5f9a"/>
<circle cx="56.2" cy="193.5" r="0.72" fill="#1e5f9a"/>
<circle cx="57.6" cy="193.5" r="0.72" fill="#1e5f9a"/>
<circle cx="61.5" cy="193.5" r="0.72" fill="#1e5f9a"/>
<circle cx="62.8" cy="193.5" r="0.72" fill="#1e5f9a"/>
<circle cx="64.0" cy="193.5" r="0.72" fill="#1e5f9a"/>
<circle cx="65.3" cy="193.5" r="0.72" fill="#1e5f9a"/>
<circle cx="51.7" cy="195.5" r="0.72" fill="#1e5f9a"/>
<circle cx="53.0" cy="195.5" r="0.72" fill="#1e5f9a"/>
<circle cx="54.3" cy="195.5" r="0.72" fill="#1e5f9a"/>
<circle cx="55.6" cy="195.5" r="0.72" fill="#1e5f9a"/>
<circle cx="56.9" cy="195.5" r="0.72" fill="#1e5f9a"/>
<circle cx="58.2" cy="195.5" r="0.72" fill="#1e5f9a"/>
<circle cx="59.5" cy="195.5" r="0.72" fill="#1e5f9a"/>
<circle cx="60.8" cy="195.5" r="0.72" fill="#1e5f9a"/>
<circle cx="62.1" cy="195.5" r="0.72" fill="#1e5f9a"/>
<circle cx="63.4" cy="195.5" r="0.72" fill="#1e5f9a"/>
<circle cx="64.7" cy="195.5" r="0.72" fill="#1e5f9a"/>
<circle cx="52.4" cy="197.5" r="0.72" fill="#1e5f9a"/>
<circle cx="53.6" cy="197.5" r="0.72" fill="#1e5f9a"/>
<circle cx="55.0" cy="197.5" r="0.72" fill="#1e5f9a"/>
<circle cx="58.9" cy="197.5" r="0.72" fill="#1e5f9a"/>
<circle cx="60.2" cy="197.5" r="0.72" fill="#1e5f9a"/>
<circle cx="61.5" cy="197.5" r="0.72" fill="#1e5f9a"/>
<circle cx="62.8" cy="197.5" r="0.72" fill="#1e5f9a"/>
<circle cx="64.0" cy="197.5" r="0.72" fill="#1e5f9a"/>
<circle cx="65.3" cy="197.5" r="0.72" fill="#1e5f9a"/>
<circle cx="51.7" cy="199.5" r="0.72" fill="#1e5f9a"/>
<circle cx="53.0" cy="199.5" r="0.72" fill="#1e5f9a"/>
<circle cx="54.3" cy="199.5" r="0.72" fill="#1e5f9a"/>
<circle cx="55.6" cy="199.5" r="0.72" fill="#1e5f9a"/>
<circle cx="58.2" cy="199.5" r="0.72" fill="#1e5f9a"/>
<circle cx="59.5" cy="199.5" r="0.72" fill="#1e5f9a"/>
<circle cx="60.8" cy="199.5" r="0.72" fill="#1e5f9a"/>
<circle cx="62.1" cy="199.5" r="0.72" fill="#1e5f9a"/>
<circle cx="63.4" cy="199.5" r="0.72" fill="#1e5f9a"/>
<circle cx="52.4" cy="201.5" r="0.72" fill="#1e5f9a"/>
<circle cx="53.6" cy="201.5" r="0.72" fill="#1e5f9a"/>
<circle cx="55.0" cy="201.5" r="0.72" fill="#1e5f9a"/>
<circle cx="56.2" cy="201.5" r="0.72" fill="#1e5f9a"/>
<circle cx="57.6" cy="201.5" r="0.72" fill="#1e5f9a"/>
<circle cx="58.9" cy="201.5" r="0.72" fill="#1e5f9a"/>
<circle cx="60.2" cy="201.5" r="0.72" fill="#1e5f9a"/>
<circle cx="62.8" cy="201.5" r="0.72" fill="#1e5f9a"/>
<circle cx="64.0" cy="201.5" r="0.72" fill="#1e5f9a"/>
<circle cx="65.3" cy="201.5" r="0.72" fill="#1e5f9a"/>
<circle cx="52.4" cy="190.7" r="0.72" fill="#1e5f9a"/>
<circle cx="55.2" cy="182.6" r="0.72" fill="#1e5f9a"/>
<circle cx="58.0" cy="186.1" r="0.72" fill="#1e5f9a"/>
<circle cx="61.9" cy="189.9" r="0.72" fill="#1e5f9a"/>
<circle cx="60.7" cy="190.5" r="0.72" fill="#1e5f9a"/>
<circle cx="57.5" cy="190.6" r="0.72" fill="#1e5f9a"/>
<circle cx="55.5" cy="189.7" r="0.72" fill="#1e5f9a"/>
<circle cx="61.3" cy="178.0" r="0.72" fill="#1e5f9a"/>
<circle cx="63.8" cy="188.9" r="0.72" fill="#1e5f9a"/>
<circle cx="57.2" cy="189.7" r="0.72" fill="#1e5f9a"/>
<circle cx="60.1" cy="181.5" r="0.72" fill="#1e5f9a"/>
<circle cx="65.6" cy="190.7" r="0.72" fill="#1e5f9a"/>
<circle cx="55.3" cy="189.7" r="0.72" fill="#1e5f9a"/>
<circle cx="56.8" cy="183.0" r="0.72" fill="#1e5f9a"/>
<circle cx="52.9" cy="188.9" r="0.72" fill="#1e5f9a"/>
<circle cx="59.8" cy="190.8" r="0.72" fill="#1e5f9a"/>
<circle cx="60.0" cy="189.4" r="0.72" fill="#1e5f9a"/>
<circle cx="58.0" cy="188.2" r="0.72" fill="#1e5f9a"/>
<circle cx="58.5" cy="178.5" r="0.72" fill="#1e5f9a"/>
<circle cx="63.1" cy="185.9" r="0.72" fill="#1e5f9a"/>
<circle cx="53.9" cy="190.0" r="0.72" fill="#1e5f9a"/>
<circle cx="61.7" cy="180.2" r="0.72" fill="#1e5f9a"/>
<circle cx="54.4" cy="189.4" r="0.72" fill="#1e5f9a"/>
<circle cx="63.6" cy="183.6" r="0.72" fill="#1e5f9a"/>
<circle cx="64.9" cy="189.9" r="0.72" fill="#1e5f9a"/>
<circle cx="59.7" cy="180.8" r="0.72" fill="#1e5f9a"/>
<circle cx="53.5" cy="187.7" r="0.72" fill="#1e5f9a"/>
<circle cx="65.3" cy="191.3" r="0.72" fill="#1e5f9a"/>
<circle cx="61.4" cy="189.5" r="0.72" fill="#1e5f9a"/>
<circle cx="63.0" cy="189.3" r="0.72" fill="#1e5f9a"/>
<circle cx="56.2" cy="185.6" r="0.72" fill="#1e5f9a"/>
<circle cx="61.7" cy="190.1" r="0.72" fill="#1e5f9a"/>
<circle cx="54.8" cy="191.0" r="0.72" fill="#1e5f9a"/>
<circle cx="63.0" cy="186.1" r="0.72" fill="#1e5f9a"/>
<circle cx="56.0" cy="185.4" r="0.72" fill="#1e5f9a"/>
<circle cx="55.8" cy="179.9" r="0.72" fill="#1e5f9a"/>
<circle cx="55.3" cy="191.4" r="0.72" fill="#1e5f9a"/>
<circle cx="53.0" cy="187.4" r="0.72" fill="#1e5f9a"/>
<circle cx="56.8" cy="190.1" r="0.72" fill="#1e5f9a"/>
<circle cx="54.2" cy="185.9" r="0.72" fill="#1e5f9a"/>
<circle cx="63.8" cy="188.3" r="0.72" fill="#1e5f9a"/>
<circle cx="60.0" cy="177.5" r="0.72" fill="#1e5f9a"/>
<circle cx="59.6" cy="184.3" r="0.72" fill="#1e5f9a"/>
<circle cx="52.1" cy="190.4" r="0.72" fill="#1e5f9a"/>
<circle cx="64.6" cy="191.4" r="0.72" fill="#1e5f9a"/>
<circle cx="63.9" cy="205.7" r="0.72" fill="#1e5f9a"/>
<circle cx="60.6" cy="203.0" r="0.72" fill="#1e5f9a"/>
<circle cx="61.6" cy="204.6" r="0.72" fill="#1e5f9a"/>
<circle cx="65.3" cy="204.0" r="0.72" fill="#1e5f9a"/>
<circle cx="59.3" cy="203.2" r="0.72" fill="#1e5f9a"/>
<circle cx="63.1" cy="205.9" r="0.72" fill="#1e5f9a"/>
<circle cx="60.9" cy="205.9" r="0.72" fill="#1e5f9a"/>
<circle cx="63.1" cy="206.2" r="0.72" fill="#1e5f9a"/>
<circle cx="61.1" cy="204.1" r="0.72" fill="#1e5f9a"/>
<circle cx="62.3" cy="207.1" r="0.72" fill="#1e5f9a"/>
<circle cx="62.4" cy="204.4" r="0.72" fill="#1e5f9a"/>
<circle cx="59.4" cy="206.7" r="0.72" fill="#1e5f9a"/>
<circle cx="57.3" cy="205.3" r="0.72" fill="#1e5f9a"/>
<circle cx="60.0" cy="205.1" r="0.72" fill="#1e5f9a"/>
<circle cx="58.6" cy="175.2" r="0.72" fill="#1e5f9a"/><circle cx="58.6" cy="209.0" r="0.72" fill="#1e5f9a"/>
<circle cx="78.6" cy="179.5" r="0.72" fill="#c8102e"/>
<circle cx="79.9" cy="179.5" r="0.72" fill="#c8102e"/>
<circle cx="81.2" cy="179.5" r="0.72" fill="#c8102e"/>
<circle cx="82.5" cy="179.5" r="0.72" fill="#c8102e"/>
<circle cx="83.8" cy="179.5" r="0.72" fill="#c8102e"/>
<circle cx="85.1" cy="179.5" r="0.72" fill="#c8102e"/>
<circle cx="86.4" cy="179.5" r="0.72" fill="#c8102e"/>
<circle cx="87.7" cy="179.5" r="0.72" fill="#c8102e"/>
<circle cx="89.0" cy="179.5" r="0.72" fill="#c8102e"/>
<circle cx="90.3" cy="179.5" r="0.72" fill="#c8102e"/>
<circle cx="91.6" cy="179.5" r="0.72" fill="#c8102e"/>
<circle cx="79.3" cy="181.5" r="0.72" fill="#c8102e"/>
<circle cx="80.6" cy="181.5" r="0.72" fill="#c8102e"/>
<circle cx="81.9" cy="181.5" r="0.72" fill="#c8102e"/>
<circle cx="83.2" cy="181.5" r="0.72" fill="#c8102e"/>
<circle cx="84.5" cy="181.5" r="0.72" fill="#c8102e"/>
<circle cx="85.8" cy="181.5" r="0.72" fill="#c8102e"/>
<circle cx="87.1" cy="181.5" r="0.72" fill="#c8102e"/>
<circle cx="88.4" cy="181.5" r="0.72" fill="#c8102e"/>
<circle cx="89.7" cy="181.5" r="0.72" fill="#c8102e"/>
<circle cx="91.0" cy="181.5" r="0.72" fill="#c8102e"/>
<circle cx="92.3" cy="181.5" r="0.72" fill="#c8102e"/>
<circle cx="78.6" cy="183.5" r="0.72" fill="#c8102e"/>
<circle cx="79.9" cy="183.5" r="0.72" fill="#c8102e"/>
<circle cx="81.2" cy="183.5" r="0.72" fill="#c8102e"/>
<circle cx="82.5" cy="183.5" r="0.72" fill="#c8102e"/>
<circle cx="83.8" cy="183.5" r="0.72" fill="#c8102e"/>
<circle cx="85.1" cy="183.5" r="0.72" fill="#c8102e"/>
<circle cx="89.0" cy="183.5" r="0.72" fill="#c8102e"/>
<circle cx="90.3" cy="183.5" r="0.72" fill="#c8102e"/>
<circle cx="91.6" cy="183.5" r="0.72" fill="#c8102e"/>
<circle cx="79.3" cy="185.5" r="0.72" fill="#c8102e"/>
<circle cx="80.6" cy="185.5" r="0.72" fill="#c8102e"/>
<circle cx="81.9" cy="185.5" r="0.72" fill="#c8102e"/>
<circle cx="83.2" cy="185.5" r="0.72" fill="#c8102e"/>
<circle cx="84.5" cy="185.5" r="0.72" fill="#c8102e"/>
<circle cx="85.8" cy="185.5" r="0.72" fill="#c8102e"/>
<circle cx="87.1" cy="185.5" r="0.72" fill="#c8102e"/>
<circle cx="88.4" cy="185.5" r="0.72" fill="#c8102e"/>
<circle cx="89.7" cy="185.5" r="0.72" fill="#c8102e"/>
<circle cx="91.0" cy="185.5" r="0.72" fill="#c8102e"/>
<circle cx="92.3" cy="185.5" r="0.72" fill="#c8102e"/>
<circle cx="78.6" cy="187.5" r="0.72" fill="#c8102e"/>
<circle cx="79.9" cy="187.5" r="0.72" fill="#c8102e"/>
<circle cx="81.2" cy="187.5" r="0.72" fill="#c8102e"/>
<circle cx="85.1" cy="187.5" r="0.72" fill="#c8102e"/>
<circle cx="86.4" cy="187.5" r="0.72" fill="#c8102e"/>
<circle cx="87.7" cy="187.5" r="0.72" fill="#c8102e"/>
<circle cx="89.0" cy="187.5" r="0.72" fill="#c8102e"/>
<circle cx="90.3" cy="187.5" r="0.72" fill="#c8102e"/>
<circle cx="91.6" cy="187.5" r="0.72" fill="#c8102e"/>
<circle cx="79.3" cy="189.5" r="0.72" fill="#c8102e"/>
<circle cx="80.6" cy="189.5" r="0.72" fill="#c8102e"/>
<circle cx="81.9" cy="189.5" r="0.72" fill="#c8102e"/>
<circle cx="83.2" cy="189.5" r="0.72" fill="#c8102e"/>
<circle cx="84.5" cy="189.5" r="0.72" fill="#c8102e"/>
<circle cx="85.8" cy="189.5" r="0.72" fill="#c8102e"/>
<circle cx="87.1" cy="189.5" r="0.72" fill="#c8102e"/>
<circle cx="88.4" cy="189.5" r="0.72" fill="#c8102e"/>
<circle cx="89.7" cy="189.5" r="0.72" fill="#c8102e"/>
<circle cx="91.0" cy="189.5" r="0.72" fill="#c8102e"/>
<circle cx="92.3" cy="189.5" r="0.72" fill="#c8102e"/>
<circle cx="78.6" cy="191.5" r="0.72" fill="#c8102e"/>
<circle cx="79.9" cy="191.5" r="0.72" fill="#c8102e"/>
<circle cx="81.2" cy="191.5" r="0.72" fill="#c8102e"/>
<circle cx="82.5" cy="191.5" r="0.72" fill="#c8102e"/>
<circle cx="83.8" cy="191.5" r="0.72" fill="#c8102e"/>
<circle cx="85.1" cy="191.5" r="0.72" fill="#c8102e"/>
<circle cx="86.4" cy="191.5" r="0.72" fill="#c8102e"/>
<circle cx="87.7" cy="191.5" r="0.72" fill="#c8102e"/>
<circle cx="89.0" cy="191.5" r="0.72" fill="#c8102e"/>
<circle cx="90.3" cy="191.5" r="0.72" fill="#c8102e"/>
<circle cx="91.6" cy="191.5" r="0.72" fill="#c8102e"/>
<circle cx="79.3" cy="193.5" r="0.72" fill="#c8102e"/>
<circle cx="80.6" cy="193.5" r="0.72" fill="#c8102e"/>
<circle cx="81.9" cy="193.5" r="0.72" fill="#c8102e"/>
<circle cx="83.2" cy="193.5" r="0.72" fill="#c8102e"/>
<circle cx="85.8" cy="193.5" r="0.72" fill="#c8102e"/>
<circle cx="88.4" cy="193.5" r="0.72" fill="#c8102e"/>
<circle cx="91.0" cy="193.5" r="0.72" fill="#c8102e"/>
<circle cx="92.3" cy="193.5" r="0.72" fill="#c8102e"/>
<circle cx="90.5" cy="171.0" r="0.72" fill="#c8102e"/>
<circle cx="82.3" cy="179.4" r="0.72" fill="#c8102e"/>
<circle cx="84.0" cy="170.6" r="0.72" fill="#c8102e"/>
<circle cx="78.9" cy="177.3" r="0.72" fill="#c8102e"/>
<circle cx="87.6" cy="179.2" r="0.72" fill="#c8102e"/>
<circle cx="90.2" cy="164.6" r="0.72" fill="#c8102e"/>
<circle cx="79.7" cy="174.5" r="0.72" fill="#c8102e"/>
<circle cx="89.8" cy="176.5" r="0.72" fill="#c8102e"/>
<circle cx="87.3" cy="169.4" r="0.72" fill="#c8102e"/>
<circle cx="86.2" cy="177.4" r="0.72" fill="#c8102e"/>
<circle cx="87.5" cy="174.8" r="0.72" fill="#c8102e"/>
<circle cx="92.1" cy="177.1" r="0.72" fill="#c8102e"/>
<circle cx="82.4" cy="168.0" r="0.72" fill="#c8102e"/>
<circle cx="91.0" cy="176.8" r="0.72" fill="#c8102e"/>
<circle cx="92.0" cy="176.9" r="0.72" fill="#c8102e"/>
<circle cx="88.3" cy="174.3" r="0.72" fill="#c8102e"/>
<circle cx="82.4" cy="171.7" r="0.72" fill="#c8102e"/>
<circle cx="82.4" cy="176.9" r="0.72" fill="#c8102e"/>
<circle cx="88.1" cy="172.0" r="0.72" fill="#c8102e"/>
<circle cx="91.4" cy="178.3" r="0.72" fill="#c8102e"/>
<circle cx="82.4" cy="175.4" r="0.72" fill="#c8102e"/>
<circle cx="92.1" cy="175.3" r="0.72" fill="#c8102e"/>
<circle cx="87.4" cy="173.8" r="0.72" fill="#c8102e"/>
<circle cx="90.4" cy="167.3" r="0.72" fill="#c8102e"/>
<circle cx="84.9" cy="170.8" r="0.72" fill="#c8102e"/>
<circle cx="90.8" cy="173.4" r="0.72" fill="#c8102e"/>
<circle cx="86.7" cy="170.3" r="0.72" fill="#c8102e"/>
<circle cx="84.0" cy="176.2" r="0.72" fill="#c8102e"/>
<circle cx="86.5" cy="171.2" r="0.72" fill="#c8102e"/>
<circle cx="88.9" cy="179.4" r="0.72" fill="#c8102e"/>
<circle cx="88.8" cy="167.7" r="0.72" fill="#c8102e"/>
<circle cx="90.0" cy="167.9" r="0.72" fill="#c8102e"/>
<circle cx="89.5" cy="174.1" r="0.72" fill="#c8102e"/>
<circle cx="80.4" cy="175.9" r="0.72" fill="#c8102e"/>
<circle cx="83.2" cy="176.2" r="0.72" fill="#c8102e"/>
<circle cx="87.6" cy="166.8" r="0.72" fill="#c8102e"/>
<circle cx="87.4" cy="174.0" r="0.72" fill="#c8102e"/>
<circle cx="86.3" cy="178.4" r="0.72" fill="#c8102e"/>
<circle cx="84.6" cy="171.8" r="0.72" fill="#c8102e"/>
<circle cx="84.5" cy="177.3" r="0.72" fill="#c8102e"/>
<circle cx="88.3" cy="176.5" r="0.72" fill="#c8102e"/>
<circle cx="79.9" cy="178.2" r="0.72" fill="#c8102e"/>
<circle cx="88.5" cy="176.6" r="0.72" fill="#c8102e"/>
<circle cx="87.6" cy="170.8" r="0.72" fill="#c8102e"/>
<circle cx="84.5" cy="166.8" r="0.72" fill="#c8102e"/>
<circle cx="85.6" cy="179.2" r="0.72" fill="#c8102e"/>
<circle cx="81.6" cy="175.2" r="0.72" fill="#c8102e"/>
<circle cx="83.9" cy="172.3" r="0.72" fill="#c8102e"/>
<circle cx="83.4" cy="177.3" r="0.72" fill="#c8102e"/>
<circle cx="81.1" cy="166.5" r="0.72" fill="#c8102e"/>
<circle cx="82.8" cy="176.1" r="0.72" fill="#c8102e"/>
<circle cx="84.8" cy="177.7" r="0.72" fill="#c8102e"/>
<circle cx="91.7" cy="177.5" r="0.72" fill="#c8102e"/>
<circle cx="88.4" cy="174.5" r="0.72" fill="#c8102e"/>
<circle cx="85.3" cy="178.1" r="0.72" fill="#c8102e"/>
<circle cx="90.0" cy="198.8" r="0.72" fill="#c8102e"/>
<circle cx="85.2" cy="196.0" r="0.72" fill="#c8102e"/>
<circle cx="89.3" cy="201.7" r="0.72" fill="#c8102e"/>
<circle cx="86.3" cy="195.8" r="0.72" fill="#c8102e"/>
<circle cx="84.6" cy="200.4" r="0.72" fill="#c8102e"/>
<circle cx="87.8" cy="199.4" r="0.72" fill="#c8102e"/>
<circle cx="86.3" cy="204.2" r="0.72" fill="#c8102e"/>
<circle cx="84.0" cy="199.5" r="0.72" fill="#c8102e"/>
<circle cx="83.7" cy="200.1" r="0.72" fill="#c8102e"/>
<circle cx="84.0" cy="197.8" r="0.72" fill="#c8102e"/>
<circle cx="80.8" cy="196.4" r="0.72" fill="#c8102e"/>
<circle cx="86.4" cy="195.8" r="0.72" fill="#c8102e"/>
<circle cx="79.4" cy="196.0" r="0.72" fill="#c8102e"/>
<circle cx="83.4" cy="200.9" r="0.72" fill="#c8102e"/>
<circle cx="86.8" cy="203.2" r="0.72" fill="#c8102e"/>
<circle cx="90.8" cy="197.0" r="0.72" fill="#c8102e"/>
<circle cx="84.0" cy="202.4" r="0.72" fill="#c8102e"/>
<circle cx="87.9" cy="195.2" r="0.72" fill="#c8102e"/>
<circle cx="87.0" cy="201.5" r="0.72" fill="#c8102e"/>
<circle cx="84.8" cy="200.7" r="0.72" fill="#c8102e"/>
<circle cx="82.9" cy="198.9" r="0.72" fill="#c8102e"/>
<circle cx="84.2" cy="197.1" r="0.72" fill="#c8102e"/>
<circle cx="84.4" cy="196.9" r="0.72" fill="#c8102e"/>
<circle cx="82.2" cy="201.0" r="0.72" fill="#c8102e"/>
<circle cx="82.3" cy="195.7" r="0.72" fill="#c8102e"/>
<circle cx="86.0" cy="204.1" r="0.72" fill="#c8102e"/>
<circle cx="90.8" cy="194.7" r="0.72" fill="#c8102e"/>
<circle cx="89.1" cy="202.0" r="0.72" fill="#c8102e"/>
<circle cx="89.0" cy="196.7" r="0.72" fill="#c8102e"/>
<circle cx="80.8" cy="196.4" r="0.72" fill="#c8102e"/>
<circle cx="85.8" cy="162.5" r="0.72" fill="#c8102e"/><circle cx="85.8" cy="206.1" r="0.72" fill="#c8102e"/>
<line x1="54" y1="196.5" x2="63.5" y2="196.5" stroke="#000" stroke-width="1.8"/>
<line x1="81" y1="184.5" x2="90.5" y2="184.5" stroke="#000" stroke-width="1.8"/>
<path d="M58.7,168.7 L58.7,149.4 L86,149.4 L86,157.1" stroke="#231f20" fill="none" stroke-width="0.9"/>
<text x="72.2" y="151" font-size="7" text-anchor="middle" fill="#231f20" stroke="#231f20" stroke-width="0.16">***</text>
<text x="26.5" y="223.5" font-size="8.2" text-anchor="start" fill="#231f20" stroke="#231f20" stroke-width="0.16" transform="rotate(-90 26.5 223.5)" textLength="62.5" lengthAdjust="spacingAndGlyphs">Chr. arm width (µm)</text>
<text x="59.1" y="240.8" font-size="7" text-anchor="middle" fill="#231f20" stroke="#231f20" stroke-width="0.16">Non</text>
<text x="59.1" y="248.1" font-size="7" text-anchor="middle" fill="#231f20" stroke="#231f20" stroke-width="0.16">HyperD</text>
<text x="85.6" y="240.8" font-size="7" text-anchor="middle" fill="#231f20" stroke="#231f20" stroke-width="0.16">HyperD</text>
<text x="126.6" y="147.5" font-size="12.5" text-anchor="start" fill="#000" font-weight="bold">E</text>
<text x="179.7" y="157.6" font-size="6.8" text-anchor="start" fill="#231f20" stroke="#231f20" stroke-width="0.16" textLength="35.3" lengthAdjust="spacingAndGlyphs">NonHyperD</text>
<text x="294" y="157.6" font-size="6.8" text-anchor="start" fill="#231f20" stroke="#231f20" stroke-width="0.16" textLength="22.8" lengthAdjust="spacingAndGlyphs">HyperD</text>
<line x1="145.1" y1="162.5" x2="249.6" y2="162.5" stroke="#444" stroke-width="1.0"/>
<line x1="253.1" y1="162.5" x2="358" y2="162.5" stroke="#444" stroke-width="1.0"/>
<text x="147.14999999999998" y="171.9" font-size="7" text-anchor="start" fill="#231f20" stroke="#231f20" stroke-width="0.16" textLength="22.6" lengthAdjust="spacingAndGlyphs">MERGE</text>
<text x="176.25" y="171.9" font-size="7" text-anchor="start" fill="#2aa84c" stroke="#2aa84c" stroke-width="0.16" textLength="17.7" lengthAdjust="spacingAndGlyphs">SMC2</text>
<text x="204.70000000000002" y="171.9" font-size="7" text-anchor="start" fill="#ec3a44" stroke="#ec3a44" stroke-width="0.16" textLength="13.4" lengthAdjust="spacingAndGlyphs">ACA</text>
<text x="231.45" y="171.9" font-size="7" text-anchor="start" fill="#4448b0" stroke="#4448b0" stroke-width="0.16" textLength="14.3" lengthAdjust="spacingAndGlyphs">DNA</text>
<text x="255.09999999999997" y="171.9" font-size="7" text-anchor="start" fill="#231f20" stroke="#231f20" stroke-width="0.16" textLength="22.6" lengthAdjust="spacingAndGlyphs">MERGE</text>
<text x="283.65" y="171.9" font-size="7" text-anchor="start" fill="#2aa84c" stroke="#2aa84c" stroke-width="0.16" textLength="17.7" lengthAdjust="spacingAndGlyphs">SMC2</text>
<text x="311.95" y="171.9" font-size="7" text-anchor="start" fill="#ec3a44" stroke="#ec3a44" stroke-width="0.16" textLength="13.4" lengthAdjust="spacingAndGlyphs">ACA</text>
<text x="338.15000000000003" y="171.9" font-size="7" text-anchor="start" fill="#4448b0" stroke="#4448b0" stroke-width="0.16" textLength="14.3" lengthAdjust="spacingAndGlyphs">DNA</text>
<rect x="146" y="175.5" width="24.900000000000006" height="25" fill="#070707"/>
<rect x="146" y="202" width="24.900000000000006" height="24.5" fill="#070707"/>
<clipPath id="ce0a"><rect x="146" y="175.5" width="24.900000000000006" height="25"/></clipPath>
<clipPath id="ce0b"><rect x="146" y="202" width="24.900000000000006" height="24.5"/></clipPath>
<g clip-path="url(#ce0a)">
<g filter="url(#bl05)">
<ellipse cx="162.8" cy="193.6" rx="1.7" ry="0.8" transform="rotate(44 162.8 193.6)" fill="#2840c8"/>
<ellipse cx="156.0" cy="179.4" rx="1.7" ry="0.8" transform="rotate(110 156.0 179.4)" fill="#2840c8"/>
<ellipse cx="155.0" cy="187.8" rx="1.7" ry="0.8" transform="rotate(31 155.0 187.8)" fill="#2840c8"/>
<ellipse cx="164.7" cy="191.4" rx="1.7" ry="0.8" transform="rotate(12 164.7 191.4)" fill="#2840c8"/>
<ellipse cx="153.9" cy="180.9" rx="1.7" ry="0.8" transform="rotate(52 153.9 180.9)" fill="#2840c8"/>
<ellipse cx="155.5" cy="193.0" rx="1.7" ry="0.8" transform="rotate(52 155.5 193.0)" fill="#2840c8"/>
<ellipse cx="162.3" cy="187.0" rx="1.7" ry="0.8" transform="rotate(88 162.3 187.0)" fill="#2840c8"/>
<ellipse cx="153.8" cy="192.9" rx="1.7" ry="0.8" transform="rotate(53 153.8 192.9)" fill="#2840c8"/>
<ellipse cx="152.6" cy="192.1" rx="1.7" ry="0.8" transform="rotate(70 152.6 192.1)" fill="#2840c8"/>
<ellipse cx="166.2" cy="182.5" rx="1.7" ry="0.8" transform="rotate(41 166.2 182.5)" fill="#2840c8"/>
<ellipse cx="163.7" cy="181.4" rx="1.7" ry="0.8" transform="rotate(46 163.7 181.4)" fill="#2840c8"/>
<ellipse cx="165.0" cy="188.2" rx="1.7" ry="0.8" transform="rotate(144 165.0 188.2)" fill="#2840c8"/>
<ellipse cx="160.7" cy="191.7" rx="1.7" ry="0.8" transform="rotate(6 160.7 191.7)" fill="#2840c8"/>
<ellipse cx="162.8" cy="185.4" rx="1.7" ry="0.8" transform="rotate(114 162.8 185.4)" fill="#2840c8"/>
<ellipse cx="161.5" cy="178.4" rx="1.7" ry="0.8" transform="rotate(99 161.5 178.4)" fill="#2840c8"/>
<ellipse cx="163.9" cy="193.6" rx="1.7" ry="0.8" transform="rotate(13 163.9 193.6)" fill="#2840c8"/>
<ellipse cx="151.6" cy="182.4" rx="1.7" ry="0.8" transform="rotate(129 151.6 182.4)" fill="#2840c8"/>
<ellipse cx="156.5" cy="179.5" rx="1.7" ry="0.8" transform="rotate(86 156.5 179.5)" fill="#2840c8"/>
<ellipse cx="152.4" cy="186.9" rx="1.7" ry="0.8" transform="rotate(92 152.4 186.9)" fill="#2840c8"/>
<ellipse cx="165.1" cy="187.9" rx="1.7" ry="0.8" transform="rotate(15 165.1 187.9)" fill="#2840c8"/>
<ellipse cx="162.3" cy="178.9" rx="1.7" ry="0.8" transform="rotate(166 162.3 178.9)" fill="#2840c8"/>
<ellipse cx="153.7" cy="190.1" rx="1.7" ry="0.8" transform="rotate(180 153.7 190.1)" fill="#2840c8"/>
<ellipse cx="156.4" cy="179.0" rx="1.7" ry="0.8" transform="rotate(131 156.4 179.0)" fill="#2840c8"/>
<ellipse cx="161.6" cy="178.5" rx="1.7" ry="0.8" transform="rotate(65 161.6 178.5)" fill="#2840c8"/>
<ellipse cx="163.6" cy="194.9" rx="1.7" ry="0.8" transform="rotate(83 163.6 194.9)" fill="#2840c8"/>
<ellipse cx="163.1" cy="195.8" rx="1.7" ry="0.8" transform="rotate(180 163.1 195.8)" fill="#2840c8"/>
<ellipse cx="155.5" cy="179.6" rx="1.7" ry="0.8" transform="rotate(152 155.5 179.6)" fill="#2840c8"/>
<ellipse cx="165.9" cy="181.5" rx="1.7" ry="0.8" transform="rotate(134 165.9 181.5)" fill="#2840c8"/>
<ellipse cx="152.3" cy="182.2" rx="1.7" ry="0.8" transform="rotate(145 152.3 182.2)" fill="#2840c8"/>
<ellipse cx="154.0" cy="193.5" rx="1.7" ry="0.8" transform="rotate(176 154.0 193.5)" fill="#2840c8"/>
<ellipse cx="161.9" cy="191.0" rx="1.7" ry="0.8" transform="rotate(134 161.9 191.0)" fill="#2840c8"/>
<ellipse cx="164.4" cy="193.5" rx="1.7" ry="0.8" transform="rotate(11 164.4 193.5)" fill="#2840c8"/>
<ellipse cx="150.6" cy="194.5" rx="1.7" ry="0.8" transform="rotate(102 150.6 194.5)" fill="#2840c8"/>
<ellipse cx="156.7" cy="184.3" rx="1.7" ry="0.8" transform="rotate(168 156.7 184.3)" fill="#2840c8"/>
<ellipse cx="152.1" cy="180.0" rx="1.7" ry="0.8" transform="rotate(9 152.1 180.0)" fill="#2840c8"/>
<ellipse cx="157.2" cy="184.0" rx="1.7" ry="0.8" transform="rotate(121 157.2 184.0)" fill="#2840c8"/>
<ellipse cx="160.0" cy="186.4" rx="1.7" ry="0.8" transform="rotate(50 160.0 186.4)" fill="#2840c8"/>
<ellipse cx="162.3" cy="186.3" rx="1.7" ry="0.8" transform="rotate(9 162.3 186.3)" fill="#2840c8"/>
<ellipse cx="163.8" cy="194.5" rx="1.7" ry="0.8" transform="rotate(31 163.8 194.5)" fill="#2840c8"/>
<ellipse cx="158.4" cy="196.7" rx="1.7" ry="0.8" transform="rotate(102 158.4 196.7)" fill="#2840c8"/>
<ellipse cx="165.1" cy="189.6" rx="1.7" ry="0.8" transform="rotate(115 165.1 189.6)" fill="#2840c8"/>
<ellipse cx="154.5" cy="193.9" rx="1.7" ry="0.8" transform="rotate(49 154.5 193.9)" fill="#2840c8"/>
<ellipse cx="150.8" cy="182.0" rx="1.7" ry="0.8" transform="rotate(106 150.8 182.0)" fill="#2840c8"/>
<ellipse cx="161.4" cy="191.8" rx="1.7" ry="0.8" transform="rotate(105 161.4 191.8)" fill="#2840c8"/>
<ellipse cx="167.7" cy="192.9" rx="1.7" ry="0.8" transform="rotate(68 167.7 192.9)" fill="#2840c8"/>
<ellipse cx="165.0" cy="187.2" rx="1.7" ry="0.8" transform="rotate(66 165.0 187.2)" fill="#2840c8"/>
<ellipse cx="160.2" cy="185.3" rx="1.7" ry="0.8" transform="rotate(58 160.2 185.3)" fill="#2840c8"/>
<ellipse cx="165.0" cy="187.9" rx="1.7" ry="0.8" transform="rotate(69 165.0 187.9)" fill="#2840c8"/>
<ellipse cx="167.8" cy="188.2" rx="1.7" ry="0.8" transform="rotate(9 167.8 188.2)" fill="#2840c8"/>
<ellipse cx="168.1" cy="183.9" rx="1.7" ry="0.8" transform="rotate(142 168.1 183.9)" fill="#2840c8"/>
<ellipse cx="156.6" cy="194.4" rx="1.7" ry="0.8" transform="rotate(167 156.6 194.4)" fill="#2840c8"/>
<ellipse cx="163.5" cy="190.8" rx="1.7" ry="0.8" transform="rotate(164 163.5 190.8)" fill="#2840c8"/>
<ellipse cx="158.2" cy="186.4" rx="1.7" ry="0.8" transform="rotate(22 158.2 186.4)" fill="#2840c8"/>
<ellipse cx="161.1" cy="182.4" rx="1.7" ry="0.8" transform="rotate(172 161.1 182.4)" fill="#2840c8"/>
<ellipse cx="159.9" cy="186.8" rx="1.7" ry="0.8" transform="rotate(47 159.9 186.8)" fill="#2840c8"/>
<ellipse cx="161.0" cy="186.3" rx="1.7" ry="0.8" transform="rotate(177 161.0 186.3)" fill="#2840c8"/>
<ellipse cx="153.8" cy="183.8" rx="1.7" ry="0.8" transform="rotate(141 153.8 183.8)" fill="#2840c8"/>
<ellipse cx="164.6" cy="195.8" rx="1.7" ry="0.8" transform="rotate(0 164.6 195.8)" fill="#2840c8"/>
<ellipse cx="157.9" cy="186.9" rx="1.7" ry="0.8" transform="rotate(81 157.9 186.9)" fill="#2840c8"/>
<ellipse cx="154.1" cy="187.8" rx="1.7" ry="0.8" transform="rotate(97 154.1 187.8)" fill="#2840c8"/>
<ellipse cx="162.8" cy="189.3" rx="1.0" ry="0.5" transform="rotate(7 162.8 189.3)" fill="#3c90e8"/>
<ellipse cx="164.2" cy="195.3" rx="1.0" ry="0.5" transform="rotate(68 164.2 195.3)" fill="#3c90e8"/>
<ellipse cx="165.6" cy="183.8" rx="1.0" ry="0.5" transform="rotate(42 165.6 183.8)" fill="#3c90e8"/>
<ellipse cx="157.2" cy="181.5" rx="1.0" ry="0.5" transform="rotate(112 157.2 181.5)" fill="#3c90e8"/>
<ellipse cx="154.2" cy="189.1" rx="1.0" ry="0.5" transform="rotate(30 154.2 189.1)" fill="#3c90e8"/>
<ellipse cx="155.9" cy="196.0" rx="1.0" ry="0.5" transform="rotate(89 155.9 196.0)" fill="#3c90e8"/>
<ellipse cx="154.4" cy="182.5" rx="1.0" ry="0.5" transform="rotate(58 154.4 182.5)" fill="#3c90e8"/>
<ellipse cx="155.7" cy="181.6" rx="1.0" ry="0.5" transform="rotate(164 155.7 181.6)" fill="#3c90e8"/>
<ellipse cx="156.6" cy="179.6" rx="1.0" ry="0.5" transform="rotate(33 156.6 179.6)" fill="#3c90e8"/>
<ellipse cx="154.5" cy="188.5" rx="1.0" ry="0.5" transform="rotate(48 154.5 188.5)" fill="#3c90e8"/>
<ellipse cx="151.7" cy="194.1" rx="1.0" ry="0.5" transform="rotate(28 151.7 194.1)" fill="#3c90e8"/>
<ellipse cx="151.7" cy="185.0" rx="1.0" ry="0.5" transform="rotate(166 151.7 185.0)" fill="#3c90e8"/>
<ellipse cx="160.4" cy="179.3" rx="1.0" ry="0.5" transform="rotate(37 160.4 179.3)" fill="#3c90e8"/>
<ellipse cx="165.4" cy="184.0" rx="1.0" ry="0.5" transform="rotate(160 165.4 184.0)" fill="#3c90e8"/>
<ellipse cx="158.4" cy="180.4" rx="1.0" ry="0.5" transform="rotate(176 158.4 180.4)" fill="#3c90e8"/>
<ellipse cx="155.9" cy="191.2" rx="1.0" ry="0.5" transform="rotate(120 155.9 191.2)" fill="#3c90e8"/>
<ellipse cx="148.7" cy="190.1" rx="1.0" ry="0.5" transform="rotate(74 148.7 190.1)" fill="#3c90e8"/>
<ellipse cx="157.5" cy="192.6" rx="1.0" ry="0.5" transform="rotate(50 157.5 192.6)" fill="#3c90e8"/>
<ellipse cx="153.7" cy="184.6" rx="0.9" ry="0.3" transform="rotate(0 153.7 184.6)" fill="#d050a0"/>
<ellipse cx="151.2" cy="188.4" rx="0.9" ry="0.3" transform="rotate(108 151.2 188.4)" fill="#d050a0"/>
<ellipse cx="154.8" cy="186.2" rx="0.9" ry="0.3" transform="rotate(31 154.8 186.2)" fill="#d050a0"/>
<ellipse cx="153.0" cy="190.7" rx="0.9" ry="0.3" transform="rotate(35 153.0 190.7)" fill="#d050a0"/>
</g>
</g>
<path d="M164.62,177.2 L167.22000000000003,177.2 L165.92000000000002,179.7 Z" fill="#f0e010"/>
<g clip-path="url(#ce0b)" filter="url(#bl08)">
<rect x="146" y="202" width="24.900000000000006" height="24.5" fill="#1c1460"/>
<ellipse cx="153.45" cy="214.3" rx="7" ry="10" fill="#3026a8"/>
<ellipse cx="164.45" cy="214.3" rx="7" ry="10" fill="#3026a8"/>
<path d="M149.45,209.3 Q154.45,213.3 157.45,220.3 L159.45,223.3" stroke="#3aa8f0" stroke-width="1.5" fill="none"/>
<path d="M156.45,205.3 Q159.45,211.3 162.45,215.3 Q165.45,218.3 165.45,222.3" stroke="#3aa8f0" stroke-width="1.5" fill="none"/>
<circle cx="168.9" cy="204.3" r="2" fill="#30b0f0"/><circle cx="167.9" cy="222.3" r="1.5" fill="#30b0f0"/>
<circle cx="156.45" cy="217.3" r="1.3" fill="#ff70b0"/><circle cx="161.45" cy="214.3" r="1.5" fill="#ff80c0"/>
</g>
<rect x="172.5" y="175.5" width="25.19999999999999" height="25" fill="#070707"/>
<rect x="172.5" y="202" width="25.19999999999999" height="24.5" fill="#070707"/>
<clipPath id="ce1a"><rect x="172.5" y="175.5" width="25.19999999999999" height="25"/></clipPath>
<clipPath id="ce1b"><rect x="172.5" y="202" width="25.19999999999999" height="24.5"/></clipPath>
<g clip-path="url(#ce1a)">
<g filter="url(#bl03)">
<ellipse cx="178.2" cy="188.1" rx="1.6" ry="0.8" transform="rotate(71 178.2 188.1)" fill="#404040" stroke="#d8d8d8" stroke-width="0.45"/>
<ellipse cx="187.7" cy="179.0" rx="1.6" ry="0.8" transform="rotate(100 187.7 179.0)" fill="#404040" stroke="#d8d8d8" stroke-width="0.45"/>
<ellipse cx="179.2" cy="188.7" rx="1.6" ry="0.8" transform="rotate(78 179.2 188.7)" fill="#404040" stroke="#d8d8d8" stroke-width="0.45"/>
<ellipse cx="187.3" cy="179.7" rx="1.6" ry="0.8" transform="rotate(47 187.3 179.7)" fill="#404040" stroke="#d8d8d8" stroke-width="0.45"/>
<ellipse cx="191.4" cy="194.3" rx="1.6" ry="0.8" transform="rotate(166 191.4 194.3)" fill="#404040" stroke="#d8d8d8" stroke-width="0.45"/>
<ellipse cx="193.3" cy="192.1" rx="1.6" ry="0.8" transform="rotate(173 193.3 192.1)" fill="#404040" stroke="#d8d8d8" stroke-width="0.45"/>
<ellipse cx="192.0" cy="193.5" rx="1.6" ry="0.8" transform="rotate(168 192.0 193.5)" fill="#404040" stroke="#d8d8d8" stroke-width="0.45"/>
<ellipse cx="176.0" cy="188.4" rx="1.6" ry="0.8" transform="rotate(18 176.0 188.4)" fill="#404040" stroke="#d8d8d8" stroke-width="0.45"/>
<ellipse cx="182.6" cy="196.2" rx="1.6" ry="0.8" transform="rotate(40 182.6 196.2)" fill="#404040" stroke="#d8d8d8" stroke-width="0.45"/>
<ellipse cx="182.6" cy="198.0" rx="1.6" ry="0.8" transform="rotate(134 182.6 198.0)" fill="#404040" stroke="#d8d8d8" stroke-width="0.45"/>
<ellipse cx="176.8" cy="193.9" rx="1.6" ry="0.8" transform="rotate(91 176.8 193.9)" fill="#404040" stroke="#d8d8d8" stroke-width="0.45"/>
<ellipse cx="180.9" cy="191.5" rx="1.6" ry="0.8" transform="rotate(101 180.9 191.5)" fill="#404040" stroke="#d8d8d8" stroke-width="0.45"/>
<ellipse cx="192.4" cy="184.5" rx="1.6" ry="0.8" transform="rotate(41 192.4 184.5)" fill="#404040" stroke="#d8d8d8" stroke-width="0.45"/>
<ellipse cx="178.4" cy="181.8" rx="1.6" ry="0.8" transform="rotate(63 178.4 181.8)" fill="#404040" stroke="#d8d8d8" stroke-width="0.45"/>
<ellipse cx="180.1" cy="196.6" rx="1.6" ry="0.8" transform="rotate(76 180.1 196.6)" fill="#404040" stroke="#d8d8d8" stroke-width="0.45"/>
<ellipse cx="177.6" cy="187.7" rx="1.6" ry="0.8" transform="rotate(123 177.6 187.7)" fill="#404040" stroke="#d8d8d8" stroke-width="0.45"/>
<ellipse cx="187.2" cy="182.3" rx="1.6" ry="0.8" transform="rotate(95 187.2 182.3)" fill="#404040" stroke="#d8d8d8" stroke-width="0.45"/>
<ellipse cx="192.9" cy="187.8" rx="1.6" ry="0.8" transform="rotate(13 192.9 187.8)" fill="#404040" stroke="#d8d8d8" stroke-width="0.45"/>
<ellipse cx="182.2" cy="186.1" rx="1.6" ry="0.8" transform="rotate(170 182.2 186.1)" fill="#404040" stroke="#d8d8d8" stroke-width="0.45"/>
<ellipse cx="181.4" cy="178.3" rx="1.6" ry="0.8" transform="rotate(45 181.4 178.3)" fill="#404040" stroke="#d8d8d8" stroke-width="0.45"/>
<ellipse cx="182.7" cy="197.4" rx="1.6" ry="0.8" transform="rotate(145 182.7 197.4)" fill="#404040" stroke="#d8d8d8" stroke-width="0.45"/>
<ellipse cx="184.3" cy="190.2" rx="1.6" ry="0.8" transform="rotate(149 184.3 190.2)" fill="#404040" stroke="#d8d8d8" stroke-width="0.45"/>
<ellipse cx="193.0" cy="188.1" rx="1.6" ry="0.8" transform="rotate(67 193.0 188.1)" fill="#404040" stroke="#d8d8d8" stroke-width="0.45"/>
<ellipse cx="179.1" cy="193.6" rx="1.6" ry="0.8" transform="rotate(84 179.1 193.6)" fill="#404040" stroke="#d8d8d8" stroke-width="0.45"/>
<ellipse cx="186.1" cy="190.3" rx="1.6" ry="0.8" transform="rotate(148 186.1 190.3)" fill="#404040" stroke="#d8d8d8" stroke-width="0.45"/>
<ellipse cx="183.5" cy="178.8" rx="1.6" ry="0.8" transform="rotate(112 183.5 178.8)" fill="#404040" stroke="#d8d8d8" stroke-width="0.45"/>
<ellipse cx="180.1" cy="181.0" rx="1.6" ry="0.8" transform="rotate(173 180.1 181.0)" fill="#404040" stroke="#d8d8d8" stroke-width="0.45"/>
<ellipse cx="179.2" cy="192.6" rx="1.6" ry="0.8" transform="rotate(7 179.2 192.6)" fill="#404040" stroke="#d8d8d8" stroke-width="0.45"/>
<ellipse cx="193.2" cy="191.5" rx="1.6" ry="0.8" transform="rotate(73 193.2 191.5)" fill="#404040" stroke="#d8d8d8" stroke-width="0.45"/>
<ellipse cx="175.7" cy="186.6" rx="1.6" ry="0.8" transform="rotate(122 175.7 186.6)" fill="#404040" stroke="#d8d8d8" stroke-width="0.45"/>
<ellipse cx="186.6" cy="179.5" rx="1.6" ry="0.8" transform="rotate(5 186.6 179.5)" fill="#404040" stroke="#d8d8d8" stroke-width="0.45"/>
<ellipse cx="181.8" cy="194.9" rx="1.6" ry="0.8" transform="rotate(83 181.8 194.9)" fill="#404040" stroke="#d8d8d8" stroke-width="0.45"/>
<ellipse cx="195.4" cy="186.3" rx="1.6" ry="0.8" transform="rotate(13 195.4 186.3)" fill="#404040" stroke="#d8d8d8" stroke-width="0.45"/>
<ellipse cx="180.2" cy="189.3" rx="1.6" ry="0.8" transform="rotate(63 180.2 189.3)" fill="#404040" stroke="#d8d8d8" stroke-width="0.45"/>
<ellipse cx="185.2" cy="186.3" rx="1.6" ry="0.8" transform="rotate(0 185.2 186.3)" fill="#404040" stroke="#d8d8d8" stroke-width="0.45"/>
<ellipse cx="179.8" cy="192.7" rx="1.6" ry="0.8" transform="rotate(41 179.8 192.7)" fill="#404040" stroke="#d8d8d8" stroke-width="0.45"/>
<ellipse cx="192.1" cy="186.1" rx="1.6" ry="0.8" transform="rotate(85 192.1 186.1)" fill="#404040" stroke="#d8d8d8" stroke-width="0.45"/>
<ellipse cx="189.1" cy="189.8" rx="1.6" ry="0.8" transform="rotate(92 189.1 189.8)" fill="#404040" stroke="#d8d8d8" stroke-width="0.45"/>
<ellipse cx="184.4" cy="198.3" rx="1.6" ry="0.8" transform="rotate(0 184.4 198.3)" fill="#404040" stroke="#d8d8d8" stroke-width="0.45"/>
<ellipse cx="185.9" cy="196.8" rx="1.6" ry="0.8" transform="rotate(39 185.9 196.8)" fill="#404040" stroke="#d8d8d8" stroke-width="0.45"/>
<ellipse cx="180.2" cy="185.3" rx="1.6" ry="0.8" transform="rotate(105 180.2 185.3)" fill="#404040" stroke="#d8d8d8" stroke-width="0.45"/>
<ellipse cx="187.8" cy="193.9" rx="1.6" ry="0.8" transform="rotate(93 187.8 193.9)" fill="#404040" stroke="#d8d8d8" stroke-width="0.45"/>
<ellipse cx="181.0" cy="183.6" rx="1.6" ry="0.8" transform="rotate(48 181.0 183.6)" fill="#404040" stroke="#d8d8d8" stroke-width="0.45"/>
<ellipse cx="190.4" cy="179.1" rx="1.6" ry="0.8" transform="rotate(70 190.4 179.1)" fill="#404040" stroke="#d8d8d8" stroke-width="0.45"/>
<ellipse cx="191.2" cy="188.6" rx="1.6" ry="0.8" transform="rotate(86 191.2 188.6)" fill="#404040" stroke="#d8d8d8" stroke-width="0.45"/>
<ellipse cx="190.1" cy="193.2" rx="1.6" ry="0.8" transform="rotate(42 190.1 193.2)" fill="#404040" stroke="#d8d8d8" stroke-width="0.45"/>
<ellipse cx="186.8" cy="183.1" rx="1.6" ry="0.8" transform="rotate(94 186.8 183.1)" fill="#404040" stroke="#d8d8d8" stroke-width="0.45"/>
<ellipse cx="187.3" cy="183.8" rx="1.6" ry="0.8" transform="rotate(106 187.3 183.8)" fill="#404040" stroke="#d8d8d8" stroke-width="0.45"/>
<ellipse cx="191.0" cy="185.1" rx="1.6" ry="0.8" transform="rotate(67 191.0 185.1)" fill="#404040" stroke="#d8d8d8" stroke-width="0.45"/>
<ellipse cx="184.8" cy="193.5" rx="1.6" ry="0.8" transform="rotate(27 184.8 193.5)" fill="#404040" stroke="#d8d8d8" stroke-width="0.45"/>
<ellipse cx="189.8" cy="187.0" rx="1.6" ry="0.8" transform="rotate(41 189.8 187.0)" fill="#404040" stroke="#d8d8d8" stroke-width="0.45"/>
<ellipse cx="189.2" cy="194.2" rx="1.6" ry="0.8" transform="rotate(16 189.2 194.2)" fill="#404040" stroke="#d8d8d8" stroke-width="0.45"/>
<ellipse cx="191.2" cy="185.0" rx="1.6" ry="0.8" transform="rotate(43 191.2 185.0)" fill="#404040" stroke="#d8d8d8" stroke-width="0.45"/>
<ellipse cx="195.2" cy="186.2" rx="1.6" ry="0.8" transform="rotate(74 195.2 186.2)" fill="#404040" stroke="#d8d8d8" stroke-width="0.45"/>
<ellipse cx="178.7" cy="185.6" rx="1.6" ry="0.8" transform="rotate(124 178.7 185.6)" fill="#404040" stroke="#d8d8d8" stroke-width="0.45"/>
<ellipse cx="178.3" cy="195.7" rx="1.6" ry="0.8" transform="rotate(85 178.3 195.7)" fill="#404040" stroke="#d8d8d8" stroke-width="0.45"/>
<ellipse cx="183.0" cy="188.5" rx="1.6" ry="0.8" transform="rotate(173 183.0 188.5)" fill="#404040" stroke="#d8d8d8" stroke-width="0.45"/>
<ellipse cx="184.3" cy="194.6" rx="1.6" ry="0.8" transform="rotate(70 184.3 194.6)" fill="#404040" stroke="#d8d8d8" stroke-width="0.45"/>
<ellipse cx="176.4" cy="188.7" rx="1.6" ry="0.8" transform="rotate(14 176.4 188.7)" fill="#404040" stroke="#d8d8d8" stroke-width="0.45"/>
<ellipse cx="176.1" cy="189.4" rx="1.6" ry="0.8" transform="rotate(100 176.1 189.4)" fill="#404040" stroke="#d8d8d8" stroke-width="0.45"/>
</g>
</g>
<path d="M191.35999999999999,177.2 L193.96,177.2 L192.66,179.7 Z" fill="#f0e010"/>
<g clip-path="url(#ce1b)" filter="url(#bl08)">
<rect x="172.5" y="202" width="25.19999999999999" height="24.5" fill="#1a1a1a"/>
<ellipse cx="190.1" cy="210.3" rx="6" ry="5" fill="#3a3a3a"/>
<path d="M176.1,209.3 Q181.1,213.3 184.1,220.3 L186.1,223.3" stroke="#e8e8e8" stroke-width="1.4" fill="none"/>
<path d="M183.1,205.3 Q186.1,211.3 189.1,215.3 Q192.1,218.3 192.1,222.3" stroke="#f0f0f0" stroke-width="1.4" fill="none"/>
<path d="M186.1,211.3 L189.1,206.3" stroke="#d0d0d0" stroke-width="1.1" fill="none"/>
</g>
<rect x="199" y="175.5" width="24.80000000000001" height="25" fill="#070707"/>
<rect x="199" y="202" width="24.80000000000001" height="24.5" fill="#070707"/>
<clipPath id="ce2a"><rect x="199" y="175.5" width="24.80000000000001" height="25"/></clipPath>
<clipPath id="ce2b"><rect x="199" y="202" width="24.80000000000001" height="24.5"/></clipPath>
<g clip-path="url(#ce2a)">
<g filter="url(#bl03)">
<ellipse cx="207.3" cy="187.9" rx="1.1" ry="0.4" transform="rotate(90 207.3 187.9)" fill="#a0a0a0"/>
<ellipse cx="210.3" cy="179.5" rx="1.1" ry="0.4" transform="rotate(43 210.3 179.5)" fill="#a0a0a0"/>
<ellipse cx="217.7" cy="186.3" rx="1.1" ry="0.4" transform="rotate(10 217.7 186.3)" fill="#a0a0a0"/>
<ellipse cx="217.2" cy="180.9" rx="1.1" ry="0.4" transform="rotate(129 217.2 180.9)" fill="#a0a0a0"/>
<ellipse cx="216.4" cy="190.6" rx="1.1" ry="0.4" transform="rotate(165 216.4 190.6)" fill="#a0a0a0"/>
<ellipse cx="212.3" cy="179.9" rx="1.1" ry="0.4" transform="rotate(176 212.3 179.9)" fill="#a0a0a0"/>
<ellipse cx="203.2" cy="186.0" rx="1.1" ry="0.4" transform="rotate(63 203.2 186.0)" fill="#a0a0a0"/>
<ellipse cx="204.3" cy="184.5" rx="1.1" ry="0.4" transform="rotate(9 204.3 184.5)" fill="#a0a0a0"/>
<ellipse cx="213.4" cy="185.7" rx="1.1" ry="0.4" transform="rotate(178 213.4 185.7)" fill="#a0a0a0"/>
<ellipse cx="214.7" cy="194.4" rx="1.1" ry="0.4" transform="rotate(151 214.7 194.4)" fill="#a0a0a0"/>
<ellipse cx="220.8" cy="191.1" rx="1.1" ry="0.4" transform="rotate(61 220.8 191.1)" fill="#a0a0a0"/>
<ellipse cx="214.9" cy="191.5" rx="1.1" ry="0.4" transform="rotate(43 214.9 191.5)" fill="#a0a0a0"/>
<ellipse cx="219.3" cy="183.2" rx="1.1" ry="0.4" transform="rotate(38 219.3 183.2)" fill="#a0a0a0"/>
<ellipse cx="206.3" cy="187.0" rx="1.1" ry="0.4" transform="rotate(137 206.3 187.0)" fill="#a0a0a0"/>
<ellipse cx="208.7" cy="186.4" rx="1.1" ry="0.4" transform="rotate(98 208.7 186.4)" fill="#a0a0a0"/>
<ellipse cx="212.9" cy="181.1" rx="1.1" ry="0.4" transform="rotate(140 212.9 181.1)" fill="#a0a0a0"/>
<ellipse cx="215.0" cy="190.9" rx="1.1" ry="0.4" transform="rotate(53 215.0 190.9)" fill="#a0a0a0"/>
<ellipse cx="210.4" cy="191.0" rx="1.1" ry="0.4" transform="rotate(43 210.4 191.0)" fill="#a0a0a0"/>
<ellipse cx="206.1" cy="180.1" rx="1.1" ry="0.4" transform="rotate(101 206.1 180.1)" fill="#a0a0a0"/>
<ellipse cx="217.1" cy="186.3" rx="1.1" ry="0.4" transform="rotate(155 217.1 186.3)" fill="#a0a0a0"/>
<ellipse cx="208.6" cy="189.2" rx="1.1" ry="0.4" transform="rotate(79 208.6 189.2)" fill="#a0a0a0"/>
<ellipse cx="211.5" cy="192.5" rx="1.1" ry="0.4" transform="rotate(84 211.5 192.5)" fill="#a0a0a0"/>
<ellipse cx="212.8" cy="182.1" rx="1.1" ry="0.4" transform="rotate(18 212.8 182.1)" fill="#a0a0a0"/>
<ellipse cx="211.8" cy="196.3" rx="1.1" ry="0.4" transform="rotate(140 211.8 196.3)" fill="#a0a0a0"/>
<ellipse cx="220.5" cy="189.5" rx="1.1" ry="0.4" transform="rotate(6 220.5 189.5)" fill="#a0a0a0"/>
<ellipse cx="208.0" cy="195.2" rx="1.1" ry="0.4" transform="rotate(41 208.0 195.2)" fill="#a0a0a0"/>
<ellipse cx="208.9" cy="195.3" rx="1.1" ry="0.4" transform="rotate(125 208.9 195.3)" fill="#a0a0a0"/>
<ellipse cx="212.1" cy="181.0" rx="1.1" ry="0.4" transform="rotate(127 212.1 181.0)" fill="#a0a0a0"/>
<ellipse cx="216.1" cy="183.7" rx="1.1" ry="0.4" transform="rotate(170 216.1 183.7)" fill="#a0a0a0"/>
<ellipse cx="212.8" cy="187.8" rx="1.1" ry="0.4" transform="rotate(175 212.8 187.8)" fill="#a0a0a0"/>
<ellipse cx="212.2" cy="182.2" rx="1.1" ry="0.4" transform="rotate(22 212.2 182.2)" fill="#a0a0a0"/>
<ellipse cx="216.6" cy="188.6" rx="1.1" ry="0.4" transform="rotate(45 216.6 188.6)" fill="#a0a0a0"/>
<ellipse cx="211.9" cy="179.8" rx="1.1" ry="0.4" transform="rotate(168 211.9 179.8)" fill="#a0a0a0"/>
<ellipse cx="218.0" cy="188.5" rx="1.1" ry="0.4" transform="rotate(179 218.0 188.5)" fill="#a0a0a0"/>
<ellipse cx="207.2" cy="194.3" rx="1.1" ry="0.4" transform="rotate(91 207.2 194.3)" fill="#a0a0a0"/>
</g>
</g>
<path d="M217.54,177.2 L220.14000000000001,177.2 L218.84,179.7 Z" fill="#f0e010"/>
<g clip-path="url(#ce2b)" filter="url(#bl08)">
<rect x="199" y="202" width="24.80000000000001" height="24.5" fill="#151515"/>
<circle cx="208.4" cy="216.3" r="1.8" fill="#ddd"/><circle cx="213.4" cy="215.3" r="2" fill="#eee"/>
</g>
<rect x="225.9" y="175.5" width="25.400000000000006" height="25" fill="#070707"/>
<rect x="225.9" y="202" width="25.400000000000006" height="24.5" fill="#070707"/>
<clipPath id="ce3a"><rect x="225.9" y="175.5" width="25.400000000000006" height="25"/></clipPath>
<clipPath id="ce3b"><rect x="225.9" y="202" width="25.400000000000006" height="24.5"/></clipPath>
<g clip-path="url(#ce3a)">
<g filter="url(#bl04)">
<ellipse cx="242.6" cy="194.8" rx="1.7" ry="0.8" transform="rotate(114 242.6 194.8)" fill="#a8a8a8"/>
<ellipse cx="247.1" cy="188.4" rx="1.7" ry="0.8" transform="rotate(12 247.1 188.4)" fill="#a8a8a8"/>
<ellipse cx="238.1" cy="180.9" rx="1.7" ry="0.8" transform="rotate(135 238.1 180.9)" fill="#a8a8a8"/>
<ellipse cx="235.3" cy="181.6" rx="1.7" ry="0.8" transform="rotate(35 235.3 181.6)" fill="#a8a8a8"/>
<ellipse cx="231.0" cy="192.9" rx="1.7" ry="0.8" transform="rotate(23 231.0 192.9)" fill="#a8a8a8"/>
<ellipse cx="238.7" cy="197.5" rx="1.7" ry="0.8" transform="rotate(123 238.7 197.5)" fill="#a8a8a8"/>
<ellipse cx="244.8" cy="192.6" rx="1.7" ry="0.8" transform="rotate(3 244.8 192.6)" fill="#a8a8a8"/>
<ellipse cx="248.5" cy="188.4" rx="1.7" ry="0.8" transform="rotate(46 248.5 188.4)" fill="#a8a8a8"/>
<ellipse cx="243.0" cy="197.2" rx="1.7" ry="0.8" transform="rotate(165 243.0 197.2)" fill="#a8a8a8"/>
<ellipse cx="234.7" cy="197.7" rx="1.7" ry="0.8" transform="rotate(179 234.7 197.7)" fill="#a8a8a8"/>
<ellipse cx="248.0" cy="188.2" rx="1.7" ry="0.8" transform="rotate(67 248.0 188.2)" fill="#a8a8a8"/>
<ellipse cx="238.8" cy="195.2" rx="1.7" ry="0.8" transform="rotate(56 238.8 195.2)" fill="#a8a8a8"/>
<ellipse cx="228.4" cy="190.1" rx="1.7" ry="0.8" transform="rotate(70 228.4 190.1)" fill="#a8a8a8"/>
<ellipse cx="244.7" cy="186.8" rx="1.7" ry="0.8" transform="rotate(33 244.7 186.8)" fill="#a8a8a8"/>
<ellipse cx="248.4" cy="191.4" rx="1.7" ry="0.8" transform="rotate(95 248.4 191.4)" fill="#a8a8a8"/>
<ellipse cx="244.7" cy="185.4" rx="1.7" ry="0.8" transform="rotate(64 244.7 185.4)" fill="#a8a8a8"/>
<ellipse cx="235.5" cy="188.8" rx="1.7" ry="0.8" transform="rotate(28 235.5 188.8)" fill="#a8a8a8"/>
<ellipse cx="232.4" cy="187.9" rx="1.7" ry="0.8" transform="rotate(82 232.4 187.9)" fill="#a8a8a8"/>
<ellipse cx="246.0" cy="184.2" rx="1.7" ry="0.8" transform="rotate(81 246.0 184.2)" fill="#a8a8a8"/>
<ellipse cx="239.7" cy="194.7" rx="1.7" ry="0.8" transform="rotate(86 239.7 194.7)" fill="#a8a8a8"/>
<ellipse cx="239.5" cy="179.3" rx="1.7" ry="0.8" transform="rotate(85 239.5 179.3)" fill="#a8a8a8"/>
<ellipse cx="246.9" cy="185.6" rx="1.7" ry="0.8" transform="rotate(138 246.9 185.6)" fill="#a8a8a8"/>
<ellipse cx="234.4" cy="186.3" rx="1.7" ry="0.8" transform="rotate(162 234.4 186.3)" fill="#a8a8a8"/>
<ellipse cx="234.6" cy="190.6" rx="1.7" ry="0.8" transform="rotate(48 234.6 190.6)" fill="#a8a8a8"/>
<ellipse cx="230.9" cy="187.9" rx="1.7" ry="0.8" transform="rotate(81 230.9 187.9)" fill="#a8a8a8"/>
<ellipse cx="243.1" cy="182.9" rx="1.7" ry="0.8" transform="rotate(102 243.1 182.9)" fill="#a8a8a8"/>
<ellipse cx="245.0" cy="183.4" rx="1.7" ry="0.8" transform="rotate(78 245.0 183.4)" fill="#a8a8a8"/>
<ellipse cx="248.4" cy="186.4" rx="1.7" ry="0.8" transform="rotate(19 248.4 186.4)" fill="#a8a8a8"/>
<ellipse cx="237.4" cy="185.6" rx="1.7" ry="0.8" transform="rotate(133 237.4 185.6)" fill="#a8a8a8"/>
<ellipse cx="239.8" cy="196.4" rx="1.7" ry="0.8" transform="rotate(15 239.8 196.4)" fill="#a8a8a8"/>
<ellipse cx="237.0" cy="192.4" rx="1.7" ry="0.8" transform="rotate(131 237.0 192.4)" fill="#a8a8a8"/>
<ellipse cx="243.5" cy="183.2" rx="1.7" ry="0.8" transform="rotate(28 243.5 183.2)" fill="#a8a8a8"/>
<ellipse cx="245.0" cy="189.2" rx="1.7" ry="0.8" transform="rotate(46 245.0 189.2)" fill="#a8a8a8"/>
<ellipse cx="247.3" cy="190.5" rx="1.7" ry="0.8" transform="rotate(171 247.3 190.5)" fill="#a8a8a8"/>
<ellipse cx="243.4" cy="194.4" rx="1.7" ry="0.8" transform="rotate(127 243.4 194.4)" fill="#a8a8a8"/>
<ellipse cx="231.2" cy="182.3" rx="1.7" ry="0.8" transform="rotate(44 231.2 182.3)" fill="#a8a8a8"/>
<ellipse cx="241.3" cy="188.0" rx="1.7" ry="0.8" transform="rotate(131 241.3 188.0)" fill="#a8a8a8"/>
<ellipse cx="248.2" cy="184.9" rx="1.7" ry="0.8" transform="rotate(51 248.2 184.9)" fill="#a8a8a8"/>
<ellipse cx="233.1" cy="191.1" rx="1.7" ry="0.8" transform="rotate(97 233.1 191.1)" fill="#a8a8a8"/>
<ellipse cx="235.5" cy="179.8" rx="1.7" ry="0.8" transform="rotate(99 235.5 179.8)" fill="#a8a8a8"/>
<ellipse cx="237.4" cy="185.3" rx="1.7" ry="0.8" transform="rotate(64 237.4 185.3)" fill="#a8a8a8"/>
<ellipse cx="240.5" cy="182.1" rx="1.7" ry="0.8" transform="rotate(158 240.5 182.1)" fill="#a8a8a8"/>
<ellipse cx="236.0" cy="190.2" rx="1.7" ry="0.8" transform="rotate(151 236.0 190.2)" fill="#a8a8a8"/>
<ellipse cx="244.4" cy="195.5" rx="1.7" ry="0.8" transform="rotate(115 244.4 195.5)" fill="#a8a8a8"/>
<ellipse cx="236.3" cy="188.8" rx="1.7" ry="0.8" transform="rotate(164 236.3 188.8)" fill="#a8a8a8"/>
<ellipse cx="234.2" cy="193.5" rx="1.7" ry="0.8" transform="rotate(117 234.2 193.5)" fill="#a8a8a8"/>
<ellipse cx="237.8" cy="178.9" rx="1.7" ry="0.8" transform="rotate(141 237.8 178.9)" fill="#a8a8a8"/>
<ellipse cx="236.7" cy="196.9" rx="1.7" ry="0.8" transform="rotate(74 236.7 196.9)" fill="#a8a8a8"/>
<ellipse cx="246.2" cy="187.1" rx="1.7" ry="0.8" transform="rotate(111 246.2 187.1)" fill="#a8a8a8"/>
<ellipse cx="241.3" cy="182.9" rx="1.7" ry="0.8" transform="rotate(54 241.3 182.9)" fill="#a8a8a8"/>
<ellipse cx="241.8" cy="180.9" rx="1.7" ry="0.8" transform="rotate(120 241.8 180.9)" fill="#a8a8a8"/>
<ellipse cx="236.1" cy="184.2" rx="1.7" ry="0.8" transform="rotate(125 236.1 184.2)" fill="#a8a8a8"/>
<ellipse cx="238.3" cy="178.7" rx="1.7" ry="0.8" transform="rotate(168 238.3 178.7)" fill="#a8a8a8"/>
<ellipse cx="238.0" cy="190.4" rx="1.7" ry="0.8" transform="rotate(103 238.0 190.4)" fill="#a8a8a8"/>
<ellipse cx="236.5" cy="196.9" rx="1.7" ry="0.8" transform="rotate(73 236.5 196.9)" fill="#a8a8a8"/>
<ellipse cx="244.6" cy="192.4" rx="1.7" ry="0.8" transform="rotate(76 244.6 192.4)" fill="#a8a8a8"/>
<ellipse cx="231.9" cy="183.9" rx="1.7" ry="0.8" transform="rotate(64 231.9 183.9)" fill="#a8a8a8"/>
<ellipse cx="236.8" cy="188.1" rx="1.7" ry="0.8" transform="rotate(42 236.8 188.1)" fill="#a8a8a8"/>
<ellipse cx="241.3" cy="185.9" rx="1.7" ry="0.8" transform="rotate(105 241.3 185.9)" fill="#a8a8a8"/>
<ellipse cx="243.5" cy="188.6" rx="1.7" ry="0.8" transform="rotate(49 243.5 188.6)" fill="#a8a8a8"/>
<ellipse cx="236.7" cy="196.3" rx="1.7" ry="0.8" transform="rotate(141 236.7 196.3)" fill="#a8a8a8"/>
<ellipse cx="229.4" cy="189.2" rx="1.7" ry="0.8" transform="rotate(74 229.4 189.2)" fill="#a8a8a8"/>
<ellipse cx="244.0" cy="184.0" rx="1.7" ry="0.8" transform="rotate(125 244.0 184.0)" fill="#a8a8a8"/>
<ellipse cx="238.1" cy="189.0" rx="1.7" ry="0.8" transform="rotate(168 238.1 189.0)" fill="#a8a8a8"/>
<ellipse cx="236.5" cy="191.4" rx="1.7" ry="0.8" transform="rotate(59 236.5 191.4)" fill="#a8a8a8"/>
<ellipse cx="234.6" cy="179.8" rx="1.7" ry="0.8" transform="rotate(110 234.6 179.8)" fill="#a8a8a8"/>
<ellipse cx="238.4" cy="190.0" rx="1.7" ry="0.8" transform="rotate(36 238.4 190.0)" fill="#a8a8a8"/>
<ellipse cx="234.0" cy="183.6" rx="1.7" ry="0.8" transform="rotate(152 234.0 183.6)" fill="#a8a8a8"/>
<ellipse cx="241.3" cy="183.3" rx="1.7" ry="0.8" transform="rotate(11 241.3 183.3)" fill="#a8a8a8"/>
<ellipse cx="232.7" cy="190.5" rx="1.7" ry="0.8" transform="rotate(82 232.7 190.5)" fill="#a8a8a8"/>
<ellipse cx="240.8" cy="188.8" rx="1.7" ry="0.8" transform="rotate(23 240.8 188.8)" fill="#a8a8a8"/>
<ellipse cx="230.5" cy="185.1" rx="1.7" ry="0.8" transform="rotate(158 230.5 185.1)" fill="#a8a8a8"/>
<ellipse cx="241.4" cy="188.8" rx="1.7" ry="0.8" transform="rotate(14 241.4 188.8)" fill="#a8a8a8"/>
<ellipse cx="244.9" cy="187.1" rx="1.7" ry="0.8" transform="rotate(69 244.9 187.1)" fill="#a8a8a8"/>
<ellipse cx="238.6" cy="177.7" rx="1.7" ry="0.8" transform="rotate(164 238.6 177.7)" fill="#a8a8a8"/>
</g>
<rect x="237.9" y="198.5" width="13" height="1" fill="#ddd"/>
</g>
<path d="M244.92000000000002,177.2 L247.52000000000004,177.2 L246.22000000000003,179.7 Z" fill="#f0e010"/>
<g clip-path="url(#ce3b)" filter="url(#bl08)">
<rect x="225.9" y="202" width="25.400000000000006" height="24.5" fill="#2a2a2a"/>
<ellipse cx="233.60000000000002" cy="210.3" rx="5" ry="5" fill="#999"/>
<ellipse cx="242.60000000000002" cy="209.3" rx="5" ry="5" fill="#999"/>
<ellipse cx="234.60000000000002" cy="219.3" rx="5" ry="5" fill="#999"/>
<ellipse cx="243.60000000000002" cy="218.3" rx="5" ry="5" fill="#999"/>
</g>
<rect x="254" y="175.5" width="24.80000000000001" height="25" fill="#070707"/>
<rect x="254" y="202" width="24.80000000000001" height="24.5" fill="#070707"/>
<clipPath id="ce4a"><rect x="254" y="175.5" width="24.80000000000001" height="25"/></clipPath>
<clipPath id="ce4b"><rect x="254" y="202" width="24.80000000000001" height="24.5"/></clipPath>
<g clip-path="url(#ce4a)">
<g filter="url(#bl08)">
<circle cx="264.9" cy="187.5" r="10.5" fill="#22229a"/>
<ellipse cx="273.5" cy="185.3" rx="1.4" ry="0.8" transform="rotate(58 273.5 185.3)" fill="#3a3ac8"/>
<ellipse cx="264.3" cy="188.0" rx="1.4" ry="0.8" transform="rotate(32 264.3 188.0)" fill="#3a3ac8"/>
<ellipse cx="265.3" cy="186.3" rx="1.4" ry="0.8" transform="rotate(42 265.3 186.3)" fill="#3a3ac8"/>
<ellipse cx="267.8" cy="189.7" rx="1.4" ry="0.8" transform="rotate(19 267.8 189.7)" fill="#3a3ac8"/>
<ellipse cx="261.8" cy="183.0" rx="1.4" ry="0.8" transform="rotate(165 261.8 183.0)" fill="#3a3ac8"/>
<ellipse cx="268.9" cy="189.1" rx="1.4" ry="0.8" transform="rotate(65 268.9 189.1)" fill="#3a3ac8"/>
<ellipse cx="260.7" cy="190.9" rx="1.4" ry="0.8" transform="rotate(159 260.7 190.9)" fill="#3a3ac8"/>
<ellipse cx="267.4" cy="192.1" rx="1.4" ry="0.8" transform="rotate(10 267.4 192.1)" fill="#3a3ac8"/>
<ellipse cx="258.1" cy="189.0" rx="1.4" ry="0.8" transform="rotate(66 258.1 189.0)" fill="#3a3ac8"/>
<ellipse cx="273.5" cy="185.4" rx="1.4" ry="0.8" transform="rotate(10 273.5 185.4)" fill="#3a3ac8"/>
<ellipse cx="270.8" cy="191.8" rx="1.4" ry="0.8" transform="rotate(31 270.8 191.8)" fill="#3a3ac8"/>
<ellipse cx="267.1" cy="183.3" rx="1.4" ry="0.8" transform="rotate(106 267.1 183.3)" fill="#3a3ac8"/>
<ellipse cx="263.5" cy="189.6" rx="1.4" ry="0.8" transform="rotate(159 263.5 189.6)" fill="#3a3ac8"/>
<ellipse cx="269.1" cy="187.3" rx="1.4" ry="0.8" transform="rotate(24 269.1 187.3)" fill="#3a3ac8"/>
<ellipse cx="272.4" cy="189.5" rx="1.4" ry="0.8" transform="rotate(140 272.4 189.5)" fill="#3a3ac8"/>
<ellipse cx="261.5" cy="188.0" rx="1.4" ry="0.8" transform="rotate(56 261.5 188.0)" fill="#3a3ac8"/>
<ellipse cx="268.9" cy="187.4" rx="1.4" ry="0.8" transform="rotate(133 268.9 187.4)" fill="#3a3ac8"/>
<ellipse cx="267.8" cy="193.9" rx="1.4" ry="0.8" transform="rotate(8 267.8 193.9)" fill="#3a3ac8"/>
<ellipse cx="267.2" cy="190.5" rx="1.4" ry="0.8" transform="rotate(159 267.2 190.5)" fill="#3a3ac8"/>
<ellipse cx="262.7" cy="188.3" rx="1.4" ry="0.8" transform="rotate(18 262.7 188.3)" fill="#3a3ac8"/>
<ellipse cx="273.5" cy="188.0" rx="1.4" ry="0.8" transform="rotate(62 273.5 188.0)" fill="#3a3ac8"/>
<ellipse cx="269.6" cy="192.1" rx="1.4" ry="0.8" transform="rotate(143 269.6 192.1)" fill="#3a3ac8"/>
<ellipse cx="263.4" cy="180.1" rx="1.4" ry="0.8" transform="rotate(140 263.4 180.1)" fill="#3a3ac8"/>
<ellipse cx="260.8" cy="188.1" rx="1.4" ry="0.8" transform="rotate(110 260.8 188.1)" fill="#3a3ac8"/>
<ellipse cx="261.7" cy="195.6" rx="1.4" ry="0.8" transform="rotate(177 261.7 195.6)" fill="#3a3ac8"/>
<ellipse cx="273.7" cy="188.9" rx="1.4" ry="0.8" transform="rotate(124 273.7 188.9)" fill="#3a3ac8"/>
<ellipse cx="258.1" cy="186.7" rx="1.4" ry="0.8" transform="rotate(4 258.1 186.7)" fill="#3a3ac8"/>
<ellipse cx="263.5" cy="186.7" rx="1.4" ry="0.8" transform="rotate(5 263.5 186.7)" fill="#3a3ac8"/>
<ellipse cx="267.0" cy="193.8" rx="1.4" ry="0.8" transform="rotate(115 267.0 193.8)" fill="#3a3ac8"/>
<ellipse cx="267.9" cy="190.4" rx="1.4" ry="0.8" transform="rotate(62 267.9 190.4)" fill="#3a3ac8"/>
<ellipse cx="257.7" cy="182.9" rx="1.4" ry="0.8" transform="rotate(156 257.7 182.9)" fill="#3a3ac8"/>
<ellipse cx="263.2" cy="185.0" rx="1.4" ry="0.8" transform="rotate(42 263.2 185.0)" fill="#3a3ac8"/>
<ellipse cx="259.2" cy="180.9" rx="1.4" ry="0.8" transform="rotate(2 259.2 180.9)" fill="#3a3ac8"/>
<ellipse cx="257.4" cy="191.8" rx="1.4" ry="0.8" transform="rotate(41 257.4 191.8)" fill="#3a3ac8"/>
<ellipse cx="259.5" cy="192.0" rx="1.4" ry="0.8" transform="rotate(61 259.5 192.0)" fill="#3a3ac8"/>
<ellipse cx="268.6" cy="189.7" rx="1.4" ry="0.8" transform="rotate(58 268.6 189.7)" fill="#3a3ac8"/>
<ellipse cx="269.5" cy="181.8" rx="1.4" ry="0.8" transform="rotate(176 269.5 181.8)" fill="#3a3ac8"/>
<ellipse cx="268.6" cy="189.6" rx="1.4" ry="0.8" transform="rotate(13 268.6 189.6)" fill="#3a3ac8"/>
<ellipse cx="258.9" cy="192.7" rx="1.4" ry="0.8" transform="rotate(130 258.9 192.7)" fill="#3a3ac8"/>
<ellipse cx="260.4" cy="186.6" rx="1.4" ry="0.8" transform="rotate(50 260.4 186.6)" fill="#3a3ac8"/>
<ellipse cx="264.7" cy="186.7" rx="1.4" ry="0.8" transform="rotate(74 264.7 186.7)" fill="#3a3ac8"/>
<ellipse cx="259.4" cy="185.2" rx="1.4" ry="0.8" transform="rotate(140 259.4 185.2)" fill="#3a3ac8"/>
<ellipse cx="266.4" cy="188.2" rx="1.4" ry="0.8" transform="rotate(14 266.4 188.2)" fill="#3a3ac8"/>
<ellipse cx="261.4" cy="190.2" rx="1.4" ry="0.8" transform="rotate(97 261.4 190.2)" fill="#3a3ac8"/>
<ellipse cx="258.0" cy="181.6" rx="1.4" ry="0.8" transform="rotate(113 258.0 181.6)" fill="#3a3ac8"/>
<ellipse cx="268.4" cy="191.9" rx="0.9" ry="0.3" transform="rotate(115 268.4 191.9)" fill="#c03090"/>
<ellipse cx="271.6" cy="190.4" rx="0.9" ry="0.3" transform="rotate(78 271.6 190.4)" fill="#c03090"/>
<ellipse cx="265.1" cy="194.9" rx="0.9" ry="0.3" transform="rotate(12 265.1 194.9)" fill="#c03090"/>
<ellipse cx="268.8" cy="189.3" rx="0.9" ry="0.3" transform="rotate(173 268.8 189.3)" fill="#c03090"/>
<ellipse cx="269.2" cy="190.6" rx="0.9" ry="0.3" transform="rotate(47 269.2 190.6)" fill="#c03090"/>
<circle cx="280.8" cy="178" r="6" fill="#2a2ab8"/>
</g>
</g>
<path d="M256.5,196.7 L259.5,196.2 L258.2,198.7 Z" fill="#f0e010"/>
<g clip-path="url(#ce4b)" filter="url(#bl08)">
<rect x="254" y="202" width="24.80000000000001" height="24.5" fill="#1a1890"/>
<ellipse cx="266.4" cy="216.3" rx="10" ry="10" fill="#3030d0"/>
<circle cx="267.4" cy="213.3" r="2" fill="#c03090"/>
</g>
<rect x="280.2" y="175.5" width="24.600000000000023" height="25" fill="#070707"/>
<rect x="280.2" y="202" width="24.600000000000023" height="24.5" fill="#070707"/>
<clipPath id="ce5a"><rect x="280.2" y="175.5" width="24.600000000000023" height="25"/></clipPath>
<clipPath id="ce5b"><rect x="280.2" y="202" width="24.600000000000023" height="24.5"/></clipPath>
<g clip-path="url(#ce5a)">
<g filter="url(#bl03)">
<ellipse cx="301.0" cy="190.4" rx="0.9" ry="0.3" transform="rotate(117 301.0 190.4)" fill="#909090"/>
<ellipse cx="296.6" cy="180.8" rx="0.9" ry="0.3" transform="rotate(156 296.6 180.8)" fill="#909090"/>
<ellipse cx="286.4" cy="185.1" rx="0.9" ry="0.3" transform="rotate(172 286.4 185.1)" fill="#909090"/>
<ellipse cx="286.8" cy="191.9" rx="0.9" ry="0.3" transform="rotate(58 286.8 191.9)" fill="#909090"/>
<ellipse cx="286.2" cy="186.7" rx="0.9" ry="0.3" transform="rotate(3 286.2 186.7)" fill="#909090"/>
<ellipse cx="287.7" cy="191.6" rx="0.9" ry="0.3" transform="rotate(91 287.7 191.6)" fill="#909090"/>
<ellipse cx="291.6" cy="191.5" rx="0.9" ry="0.3" transform="rotate(180 291.6 191.5)" fill="#909090"/>
<ellipse cx="288.3" cy="184.3" rx="0.9" ry="0.3" transform="rotate(4 288.3 184.3)" fill="#909090"/>
<ellipse cx="286.5" cy="186.2" rx="0.9" ry="0.3" transform="rotate(57 286.5 186.2)" fill="#909090"/>
<ellipse cx="286.6" cy="192.5" rx="0.9" ry="0.3" transform="rotate(106 286.6 192.5)" fill="#909090"/>
<ellipse cx="291.9" cy="195.9" rx="0.9" ry="0.3" transform="rotate(124 291.9 195.9)" fill="#909090"/>
<ellipse cx="289.5" cy="184.9" rx="0.9" ry="0.3" transform="rotate(112 289.5 184.9)" fill="#909090"/>
<ellipse cx="290.5" cy="183.8" rx="0.9" ry="0.3" transform="rotate(17 290.5 183.8)" fill="#909090"/>
<ellipse cx="298.2" cy="191.3" rx="0.9" ry="0.3" transform="rotate(74 298.2 191.3)" fill="#909090"/>
<ellipse cx="288.9" cy="193.2" rx="0.9" ry="0.3" transform="rotate(50 288.9 193.2)" fill="#909090"/>
<ellipse cx="300.6" cy="188.0" rx="0.9" ry="0.3" transform="rotate(97 300.6 188.0)" fill="#909090"/>
<ellipse cx="285.8" cy="188.7" rx="0.9" ry="0.3" transform="rotate(143 285.8 188.7)" fill="#909090"/>
<ellipse cx="299.6" cy="188.4" rx="0.9" ry="0.3" transform="rotate(38 299.6 188.4)" fill="#909090"/>
<ellipse cx="299.0" cy="188.0" rx="0.9" ry="0.3" transform="rotate(152 299.0 188.0)" fill="#909090"/>
<ellipse cx="299.2" cy="187.4" rx="0.9" ry="0.3" transform="rotate(80 299.2 187.4)" fill="#909090"/>
<ellipse cx="289.4" cy="189.6" rx="0.9" ry="0.3" transform="rotate(40 289.4 189.6)" fill="#909090"/>
<ellipse cx="294.2" cy="179.4" rx="0.9" ry="0.3" transform="rotate(6 294.2 179.4)" fill="#909090"/>
<ellipse cx="295.9" cy="190.4" rx="0.9" ry="0.3" transform="rotate(124 295.9 190.4)" fill="#909090"/>
<ellipse cx="297.8" cy="183.5" rx="0.9" ry="0.3" transform="rotate(81 297.8 183.5)" fill="#909090"/>
<ellipse cx="285.3" cy="185.5" rx="0.9" ry="0.3" transform="rotate(88 285.3 185.5)" fill="#909090"/>
<ellipse cx="294.6" cy="194.6" rx="0.9" ry="0.3" transform="rotate(171 294.6 194.6)" fill="#909090"/>
<ellipse cx="291.7" cy="185.3" rx="0.9" ry="0.3" transform="rotate(81 291.7 185.3)" fill="#909090"/>
<ellipse cx="290.5" cy="193.3" rx="0.9" ry="0.3" transform="rotate(62 290.5 193.3)" fill="#909090"/>
<ellipse cx="293.9" cy="179.1" rx="0.9" ry="0.3" transform="rotate(130 293.9 179.1)" fill="#909090"/>
<ellipse cx="293.5" cy="180.7" rx="0.9" ry="0.3" transform="rotate(150 293.5 180.7)" fill="#909090"/>
</g>
</g>
<path d="M282.7,196.7 L285.7,196.2 L284.4,198.7 Z" fill="#f0e010"/>
<g clip-path="url(#ce5b)" filter="url(#bl08)">
<ellipse cx="292.6" cy="215.7" rx="1.6" ry="0.6" transform="rotate(78 292.6 215.7)" fill="#888"/>
<ellipse cx="290.0" cy="212.1" rx="1.6" ry="0.6" transform="rotate(56 290.0 212.1)" fill="#888"/>
<ellipse cx="298.4" cy="215.4" rx="1.6" ry="0.6" transform="rotate(3 298.4 215.4)" fill="#888"/>
<ellipse cx="290.6" cy="217.5" rx="1.6" ry="0.6" transform="rotate(22 290.6 217.5)" fill="#888"/>
<ellipse cx="288.7" cy="217.4" rx="1.6" ry="0.6" transform="rotate(46 288.7 217.4)" fill="#888"/>
<ellipse cx="286.0" cy="214.0" rx="1.6" ry="0.6" transform="rotate(103 286.0 214.0)" fill="#888"/>
<ellipse cx="299.2" cy="215.3" rx="1.6" ry="0.6" transform="rotate(124 299.2 215.3)" fill="#888"/>
<ellipse cx="292.2" cy="221.5" rx="1.6" ry="0.6" transform="rotate(0 292.2 221.5)" fill="#888"/>
<ellipse cx="290.6" cy="217.2" rx="1.6" ry="0.6" transform="rotate(61 290.6 217.2)" fill="#888"/>
<ellipse cx="288.5" cy="213.1" rx="1.6" ry="0.6" transform="rotate(159 288.5 213.1)" fill="#888"/>
</g>
<rect x="306.3" y="175.5" width="24.69999999999999" height="25" fill="#070707"/>
<rect x="306.3" y="202" width="24.69999999999999" height="24.5" fill="#070707"/>
<clipPath id="ce6a"><rect x="306.3" y="175.5" width="24.69999999999999" height="25"/></clipPath>
<clipPath id="ce6b"><rect x="306.3" y="202" width="24.69999999999999" height="24.5"/></clipPath>
<g clip-path="url(#ce6a)">
<g filter="url(#bl03)">
<ellipse cx="319.0" cy="181.0" rx="1.1" ry="0.4" transform="rotate(98 319.0 181.0)" fill="#a0a0a0"/>
<ellipse cx="310.2" cy="183.8" rx="1.1" ry="0.4" transform="rotate(60 310.2 183.8)" fill="#a0a0a0"/>
<ellipse cx="320.3" cy="178.7" rx="1.1" ry="0.4" transform="rotate(44 320.3 178.7)" fill="#a0a0a0"/>
<ellipse cx="320.5" cy="181.7" rx="1.1" ry="0.4" transform="rotate(125 320.5 181.7)" fill="#a0a0a0"/>
<ellipse cx="324.9" cy="195.8" rx="1.1" ry="0.4" transform="rotate(167 324.9 195.8)" fill="#a0a0a0"/>
<ellipse cx="320.9" cy="185.2" rx="1.1" ry="0.4" transform="rotate(159 320.9 185.2)" fill="#a0a0a0"/>
<ellipse cx="321.4" cy="191.5" rx="1.1" ry="0.4" transform="rotate(166 321.4 191.5)" fill="#a0a0a0"/>
<ellipse cx="318.7" cy="186.3" rx="1.1" ry="0.4" transform="rotate(149 318.7 186.3)" fill="#a0a0a0"/>
<ellipse cx="327.1" cy="189.3" rx="1.1" ry="0.4" transform="rotate(139 327.1 189.3)" fill="#a0a0a0"/>
<ellipse cx="321.2" cy="181.7" rx="1.1" ry="0.4" transform="rotate(24 321.2 181.7)" fill="#a0a0a0"/>
<ellipse cx="313.7" cy="184.7" rx="1.1" ry="0.4" transform="rotate(54 313.7 184.7)" fill="#a0a0a0"/>
<ellipse cx="310.1" cy="186.8" rx="1.1" ry="0.4" transform="rotate(9 310.1 186.8)" fill="#a0a0a0"/>
<ellipse cx="314.4" cy="182.6" rx="1.1" ry="0.4" transform="rotate(173 314.4 182.6)" fill="#a0a0a0"/>
<ellipse cx="311.3" cy="191.2" rx="1.1" ry="0.4" transform="rotate(62 311.3 191.2)" fill="#a0a0a0"/>
<ellipse cx="314.2" cy="193.6" rx="1.1" ry="0.4" transform="rotate(48 314.2 193.6)" fill="#a0a0a0"/>
<ellipse cx="318.2" cy="195.0" rx="1.1" ry="0.4" transform="rotate(74 318.2 195.0)" fill="#a0a0a0"/>
<ellipse cx="327.5" cy="185.6" rx="1.1" ry="0.4" transform="rotate(8 327.5 185.6)" fill="#a0a0a0"/>
<ellipse cx="311.2" cy="189.5" rx="1.1" ry="0.4" transform="rotate(135 311.2 189.5)" fill="#a0a0a0"/>
<ellipse cx="317.2" cy="182.4" rx="1.1" ry="0.4" transform="rotate(163 317.2 182.4)" fill="#a0a0a0"/>
<ellipse cx="314.5" cy="184.4" rx="1.1" ry="0.4" transform="rotate(80 314.5 184.4)" fill="#a0a0a0"/>
<ellipse cx="319.6" cy="188.9" rx="1.1" ry="0.4" transform="rotate(6 319.6 188.9)" fill="#a0a0a0"/>
<ellipse cx="321.4" cy="192.1" rx="1.1" ry="0.4" transform="rotate(140 321.4 192.1)" fill="#a0a0a0"/>
</g>
</g>
<path d="M308.8,196.7 L311.8,196.2 L310.5,198.7 Z" fill="#f0e010"/>
<g clip-path="url(#ce6b)" filter="url(#bl08)">
<rect x="306.3" y="202" width="24.69999999999999" height="24.5" fill="#151515"/>
<ellipse cx="318.65" cy="215.3" rx="3" ry="2.4" fill="#ddd"/>
</g>
<rect x="332.9" y="175.5" width="24.80000000000001" height="25" fill="#070707"/>
<rect x="332.9" y="202" width="24.80000000000001" height="24.5" fill="#070707"/>
<clipPath id="ce7a"><rect x="332.9" y="175.5" width="24.80000000000001" height="25"/></clipPath>
<clipPath id="ce7b"><rect x="332.9" y="202" width="24.80000000000001" height="24.5"/></clipPath>
<g clip-path="url(#ce7a)">
<g filter="url(#bl04)">
<ellipse cx="341.1" cy="178.6" rx="1.5" ry="0.9" transform="rotate(28 341.1 178.6)" fill="#a8a8a8"/>
<ellipse cx="345.6" cy="189.5" rx="1.5" ry="0.9" transform="rotate(41 345.6 189.5)" fill="#a8a8a8"/>
<ellipse cx="334.3" cy="188.0" rx="1.5" ry="0.9" transform="rotate(174 334.3 188.0)" fill="#a8a8a8"/>
<ellipse cx="347.4" cy="193.8" rx="1.5" ry="0.9" transform="rotate(115 347.4 193.8)" fill="#a8a8a8"/>
<ellipse cx="348.6" cy="182.7" rx="1.5" ry="0.9" transform="rotate(74 348.6 182.7)" fill="#a8a8a8"/>
<ellipse cx="336.2" cy="183.7" rx="1.5" ry="0.9" transform="rotate(23 336.2 183.7)" fill="#a8a8a8"/>
<ellipse cx="341.6" cy="189.7" rx="1.5" ry="0.9" transform="rotate(14 341.6 189.7)" fill="#a8a8a8"/>
<ellipse cx="351.9" cy="190.1" rx="1.5" ry="0.9" transform="rotate(172 351.9 190.1)" fill="#a8a8a8"/>
<ellipse cx="346.9" cy="188.0" rx="1.5" ry="0.9" transform="rotate(175 346.9 188.0)" fill="#a8a8a8"/>
<ellipse cx="350.0" cy="188.9" rx="1.5" ry="0.9" transform="rotate(59 350.0 188.9)" fill="#a8a8a8"/>
<ellipse cx="346.6" cy="192.7" rx="1.5" ry="0.9" transform="rotate(140 346.6 192.7)" fill="#a8a8a8"/>
<ellipse cx="339.6" cy="184.4" rx="1.5" ry="0.9" transform="rotate(105 339.6 184.4)" fill="#a8a8a8"/>
<ellipse cx="338.1" cy="183.1" rx="1.5" ry="0.9" transform="rotate(109 338.1 183.1)" fill="#a8a8a8"/>
<ellipse cx="337.4" cy="186.4" rx="1.5" ry="0.9" transform="rotate(129 337.4 186.4)" fill="#a8a8a8"/>
<ellipse cx="353.2" cy="185.0" rx="1.5" ry="0.9" transform="rotate(166 353.2 185.0)" fill="#a8a8a8"/>
<ellipse cx="336.5" cy="193.5" rx="1.5" ry="0.9" transform="rotate(69 336.5 193.5)" fill="#a8a8a8"/>
<ellipse cx="339.8" cy="193.6" rx="1.5" ry="0.9" transform="rotate(169 339.8 193.6)" fill="#a8a8a8"/>
<ellipse cx="350.1" cy="183.8" rx="1.5" ry="0.9" transform="rotate(15 350.1 183.8)" fill="#a8a8a8"/>
<ellipse cx="344.8" cy="193.6" rx="1.5" ry="0.9" transform="rotate(52 344.8 193.6)" fill="#a8a8a8"/>
<ellipse cx="340.6" cy="192.0" rx="1.5" ry="0.9" transform="rotate(5 340.6 192.0)" fill="#a8a8a8"/>
<ellipse cx="348.1" cy="184.8" rx="1.5" ry="0.9" transform="rotate(112 348.1 184.8)" fill="#a8a8a8"/>
<ellipse cx="351.8" cy="190.2" rx="1.5" ry="0.9" transform="rotate(128 351.8 190.2)" fill="#a8a8a8"/>
<ellipse cx="352.5" cy="187.4" rx="1.5" ry="0.9" transform="rotate(64 352.5 187.4)" fill="#a8a8a8"/>
<ellipse cx="338.0" cy="185.5" rx="1.5" ry="0.9" transform="rotate(158 338.0 185.5)" fill="#a8a8a8"/>
<ellipse cx="343.9" cy="181.3" rx="1.5" ry="0.9" transform="rotate(56 343.9 181.3)" fill="#a8a8a8"/>
<ellipse cx="342.1" cy="183.9" rx="1.5" ry="0.9" transform="rotate(3 342.1 183.9)" fill="#a8a8a8"/>
<ellipse cx="338.6" cy="189.5" rx="1.5" ry="0.9" transform="rotate(87 338.6 189.5)" fill="#a8a8a8"/>
<ellipse cx="339.2" cy="192.3" rx="1.5" ry="0.9" transform="rotate(8 339.2 192.3)" fill="#a8a8a8"/>
<ellipse cx="353.0" cy="184.3" rx="1.5" ry="0.9" transform="rotate(5 353.0 184.3)" fill="#a8a8a8"/>
<ellipse cx="340.7" cy="193.7" rx="1.5" ry="0.9" transform="rotate(84 340.7 193.7)" fill="#a8a8a8"/>
<ellipse cx="345.6" cy="195.2" rx="1.5" ry="0.9" transform="rotate(177 345.6 195.2)" fill="#a8a8a8"/>
<ellipse cx="350.9" cy="186.4" rx="1.5" ry="0.9" transform="rotate(57 350.9 186.4)" fill="#a8a8a8"/>
<ellipse cx="344.8" cy="181.9" rx="1.5" ry="0.9" transform="rotate(166 344.8 181.9)" fill="#a8a8a8"/>
<ellipse cx="343.8" cy="196.3" rx="1.5" ry="0.9" transform="rotate(87 343.8 196.3)" fill="#a8a8a8"/>
<ellipse cx="338.6" cy="183.9" rx="1.5" ry="0.9" transform="rotate(170 338.6 183.9)" fill="#a8a8a8"/>
<ellipse cx="346.4" cy="190.6" rx="1.5" ry="0.9" transform="rotate(91 346.4 190.6)" fill="#a8a8a8"/>
<ellipse cx="349.6" cy="193.2" rx="1.5" ry="0.9" transform="rotate(34 349.6 193.2)" fill="#a8a8a8"/>
<ellipse cx="345.9" cy="190.3" rx="1.5" ry="0.9" transform="rotate(58 345.9 190.3)" fill="#a8a8a8"/>
<ellipse cx="343.9" cy="189.1" rx="1.5" ry="0.9" transform="rotate(170 343.9 189.1)" fill="#a8a8a8"/>
<ellipse cx="337.6" cy="186.7" rx="1.5" ry="0.9" transform="rotate(34 337.6 186.7)" fill="#a8a8a8"/>
<ellipse cx="348.0" cy="191.8" rx="1.5" ry="0.9" transform="rotate(55 348.0 191.8)" fill="#a8a8a8"/>
<ellipse cx="343.3" cy="194.1" rx="1.5" ry="0.9" transform="rotate(106 343.3 194.1)" fill="#a8a8a8"/>
<ellipse cx="348.3" cy="181.1" rx="1.5" ry="0.9" transform="rotate(82 348.3 181.1)" fill="#a8a8a8"/>
<ellipse cx="338.0" cy="195.2" rx="1.5" ry="0.9" transform="rotate(15 338.0 195.2)" fill="#a8a8a8"/>
<ellipse cx="341.7" cy="186.9" rx="1.5" ry="0.9" transform="rotate(134 341.7 186.9)" fill="#a8a8a8"/>
<ellipse cx="348.2" cy="185.1" rx="1.5" ry="0.9" transform="rotate(89 348.2 185.1)" fill="#a8a8a8"/>
<ellipse cx="349.4" cy="180.7" rx="1.5" ry="0.9" transform="rotate(11 349.4 180.7)" fill="#a8a8a8"/>
<ellipse cx="337.0" cy="192.7" rx="1.5" ry="0.9" transform="rotate(152 337.0 192.7)" fill="#a8a8a8"/>
<ellipse cx="345.9" cy="184.9" rx="1.5" ry="0.9" transform="rotate(173 345.9 184.9)" fill="#a8a8a8"/>
<ellipse cx="339.4" cy="186.1" rx="1.5" ry="0.9" transform="rotate(166 339.4 186.1)" fill="#a8a8a8"/>
<ellipse cx="339.6" cy="193.9" rx="1.5" ry="0.9" transform="rotate(164 339.6 193.9)" fill="#a8a8a8"/>
<ellipse cx="342.3" cy="191.0" rx="1.5" ry="0.9" transform="rotate(152 342.3 191.0)" fill="#a8a8a8"/>
<ellipse cx="348.4" cy="183.9" rx="1.5" ry="0.9" transform="rotate(79 348.4 183.9)" fill="#a8a8a8"/>
<ellipse cx="344.9" cy="182.2" rx="1.5" ry="0.9" transform="rotate(54 344.9 182.2)" fill="#a8a8a8"/>
<ellipse cx="343.6" cy="184.0" rx="1.5" ry="0.9" transform="rotate(59 343.6 184.0)" fill="#a8a8a8"/>
<ellipse cx="342.4" cy="179.4" rx="1.5" ry="0.9" transform="rotate(130 342.4 179.4)" fill="#a8a8a8"/>
<ellipse cx="338.4" cy="193.5" rx="1.5" ry="0.9" transform="rotate(62 338.4 193.5)" fill="#a8a8a8"/>
<ellipse cx="345.3" cy="180.6" rx="1.5" ry="0.9" transform="rotate(162 345.3 180.6)" fill="#a8a8a8"/>
<ellipse cx="338.0" cy="190.4" rx="1.5" ry="0.9" transform="rotate(29 338.0 190.4)" fill="#a8a8a8"/>
<ellipse cx="343.4" cy="187.4" rx="1.5" ry="0.9" transform="rotate(96 343.4 187.4)" fill="#a8a8a8"/>
<ellipse cx="346.1" cy="184.3" rx="1.5" ry="0.9" transform="rotate(45 346.1 184.3)" fill="#a8a8a8"/>
<ellipse cx="339.5" cy="181.7" rx="1.5" ry="0.9" transform="rotate(170 339.5 181.7)" fill="#a8a8a8"/>
<ellipse cx="346.1" cy="190.0" rx="1.5" ry="0.9" transform="rotate(94 346.1 190.0)" fill="#a8a8a8"/>
<ellipse cx="344.1" cy="195.9" rx="1.5" ry="0.9" transform="rotate(26 344.1 195.9)" fill="#a8a8a8"/>
<ellipse cx="348.8" cy="193.0" rx="1.5" ry="0.9" transform="rotate(48 348.8 193.0)" fill="#a8a8a8"/>
<ellipse cx="338.2" cy="181.0" rx="1.5" ry="0.9" transform="rotate(30 338.2 181.0)" fill="#a8a8a8"/>
<ellipse cx="341.1" cy="196.8" rx="1.5" ry="0.9" transform="rotate(89 341.1 196.8)" fill="#a8a8a8"/>
<ellipse cx="351.7" cy="193.2" rx="1.5" ry="0.9" transform="rotate(40 351.7 193.2)" fill="#a8a8a8"/>
<ellipse cx="345.8" cy="180.9" rx="1.5" ry="0.9" transform="rotate(34 345.8 180.9)" fill="#a8a8a8"/>
<ellipse cx="351.4" cy="184.0" rx="1.5" ry="0.9" transform="rotate(96 351.4 184.0)" fill="#a8a8a8"/>
<ellipse cx="337.7" cy="183.5" rx="1.0" ry="0.6" transform="rotate(80 337.7 183.5)" fill="#d8d8d8"/>
<ellipse cx="344.2" cy="192.8" rx="1.0" ry="0.6" transform="rotate(0 344.2 192.8)" fill="#d8d8d8"/>
<ellipse cx="345.0" cy="179.6" rx="1.0" ry="0.6" transform="rotate(124 345.0 179.6)" fill="#d8d8d8"/>
<ellipse cx="335.9" cy="189.0" rx="1.0" ry="0.6" transform="rotate(12 335.9 189.0)" fill="#d8d8d8"/>
<ellipse cx="344.9" cy="188.2" rx="1.0" ry="0.6" transform="rotate(30 344.9 188.2)" fill="#d8d8d8"/>
<ellipse cx="351.3" cy="190.7" rx="1.0" ry="0.6" transform="rotate(144 351.3 190.7)" fill="#d8d8d8"/>
<ellipse cx="337.8" cy="190.1" rx="1.0" ry="0.6" transform="rotate(145 337.8 190.1)" fill="#d8d8d8"/>
<ellipse cx="341.9" cy="180.3" rx="1.0" ry="0.6" transform="rotate(141 341.9 180.3)" fill="#d8d8d8"/>
<ellipse cx="351.4" cy="190.6" rx="1.0" ry="0.6" transform="rotate(94 351.4 190.6)" fill="#d8d8d8"/>
<ellipse cx="340.1" cy="190.6" rx="1.0" ry="0.6" transform="rotate(45 340.1 190.6)" fill="#d8d8d8"/>
<ellipse cx="345.3" cy="188.2" rx="1.0" ry="0.6" transform="rotate(84 345.3 188.2)" fill="#d8d8d8"/>
<ellipse cx="346.0" cy="183.5" rx="1.0" ry="0.6" transform="rotate(53 346.0 183.5)" fill="#d8d8d8"/>
<ellipse cx="346.2" cy="196.1" rx="1.0" ry="0.6" transform="rotate(120 346.2 196.1)" fill="#d8d8d8"/>
<ellipse cx="340.4" cy="189.5" rx="1.0" ry="0.6" transform="rotate(22 340.4 189.5)" fill="#d8d8d8"/>
<ellipse cx="338.7" cy="191.5" rx="1.0" ry="0.6" transform="rotate(64 338.7 191.5)" fill="#d8d8d8"/>
<ellipse cx="342.6" cy="180.0" rx="1.0" ry="0.6" transform="rotate(118 342.6 180.0)" fill="#d8d8d8"/>
<ellipse cx="341.6" cy="187.5" rx="1.0" ry="0.6" transform="rotate(144 341.6 187.5)" fill="#d8d8d8"/>
<ellipse cx="340.7" cy="189.5" rx="1.0" ry="0.6" transform="rotate(10 340.7 189.5)" fill="#d8d8d8"/>
<ellipse cx="348.5" cy="192.3" rx="1.0" ry="0.6" transform="rotate(80 348.5 192.3)" fill="#d8d8d8"/>
<ellipse cx="346.3" cy="190.0" rx="1.0" ry="0.6" transform="rotate(53 346.3 190.0)" fill="#d8d8d8"/>
</g>
<circle cx="359.7" cy="177" r="5" fill="#777" filter="url(#bl04)"/>
</g>
<path d="M335.4,196.7 L338.4,196.2 L337.09999999999997,198.7 Z" fill="#f0e010"/>
<g clip-path="url(#ce7b)" filter="url(#bl08)">
<rect x="332.9" y="202" width="24.80000000000001" height="24.5" fill="#2a2a2a"/>
<ellipse cx="340.29999999999995" cy="210.3" rx="5" ry="5" fill="#aaa"/>
<ellipse cx="349.29999999999995" cy="209.3" rx="5" ry="5" fill="#aaa"/>
<ellipse cx="341.29999999999995" cy="219.3" rx="5" ry="5" fill="#aaa"/>
<ellipse cx="350.29999999999995" cy="218.3" rx="5" ry="5" fill="#aaa"/>
</g>
<text x="142.2" y="230" font-size="5.8" text-anchor="start" fill="#231f20" stroke="#231f20" stroke-width="0.16" transform="rotate(-90 142.2 230)" textLength="33.3" lengthAdjust="spacingAndGlyphs">Magnification</text>
<text x="374.6" y="148.3" font-size="12.5" text-anchor="start" fill="#000" font-weight="bold">F</text>
<line x1="418.5" y1="157" x2="418.5" y2="229.2" stroke="#231f20" stroke-width="1.0"/>
<line x1="416.0" y1="160.5" x2="418.5" y2="160.5" stroke="#231f20" stroke-width="0.9"/>
<text x="414.2" y="162.236" font-size="6.5" text-anchor="end" fill="#231f20" stroke="#231f20" stroke-width="0.16">0.25</text>
<line x1="416.0" y1="183.5" x2="418.5" y2="183.5" stroke="#231f20" stroke-width="0.9"/>
<text x="414.2" y="185.33599999999998" font-size="6.5" text-anchor="end" fill="#231f20" stroke="#231f20" stroke-width="0.16">0.20</text>
<line x1="416.0" y1="206.5" x2="418.5" y2="206.5" stroke="#231f20" stroke-width="0.9"/>
<text x="414.2" y="208.43599999999998" font-size="6.5" text-anchor="end" fill="#231f20" stroke="#231f20" stroke-width="0.16">0.10</text>
<line x1="416.0" y1="229.5" x2="418.5" y2="229.5" stroke="#231f20" stroke-width="0.9"/>
<text x="414.2" y="231.43599999999998" font-size="6.5" text-anchor="end" fill="#231f20" stroke="#231f20" stroke-width="0.16">0.00</text>
<line x1="418.5" y1="229.5" x2="468.8" y2="229.5" stroke="#231f20" stroke-width="0.95"/>
<line x1="430.1" y1="229.2" x2="430.1" y2="231.2" stroke="#231f20" stroke-width="0.6"/>
<line x1="456.3" y1="229.2" x2="456.3" y2="231.2" stroke="#231f20" stroke-width="0.6"/>
<rect x="422.3" y="195" width="15.4" height="34.19999999999999" fill="#7b9fc4"/>
<rect x="448.7" y="208.7" width="15.3" height="20.5" fill="#e5899a"/>
<circle cx="430.6" cy="226.9" r="0.6" fill="#2a6aa8"/>
<circle cx="430.8" cy="178.5" r="0.6" fill="#2a6aa8"/>
<circle cx="426.7" cy="184.1" r="0.6" fill="#2a6aa8"/>
<circle cx="433.5" cy="212.5" r="0.6" fill="#2a6aa8"/>
<circle cx="434.5" cy="205.2" r="0.6" fill="#2a6aa8"/>
<circle cx="427.7" cy="207.6" r="0.6" fill="#2a6aa8"/>
<circle cx="424.7" cy="200.6" r="0.6" fill="#2a6aa8"/>
<circle cx="432.6" cy="198.7" r="0.6" fill="#2a6aa8"/>
<circle cx="429.1" cy="211.9" r="0.6" fill="#2a6aa8"/>
<circle cx="432.4" cy="193.6" r="0.6" fill="#2a6aa8"/>
<circle cx="429.9" cy="213.6" r="0.6" fill="#2a6aa8"/>
<circle cx="428.6" cy="190.3" r="0.6" fill="#2a6aa8"/>
<circle cx="424.4" cy="207.4" r="0.6" fill="#2a6aa8"/>
<circle cx="424.6" cy="193.2" r="0.6" fill="#2a6aa8"/>
<circle cx="429.4" cy="191.5" r="0.6" fill="#2a6aa8"/>
<circle cx="433.5" cy="198.1" r="0.6" fill="#2a6aa8"/>
<circle cx="429.0" cy="203.8" r="0.6" fill="#2a6aa8"/>
<circle cx="433.1" cy="206.0" r="0.6" fill="#2a6aa8"/>
<circle cx="430.4" cy="210.2" r="0.6" fill="#2a6aa8"/>
<circle cx="435.1" cy="189.6" r="0.6" fill="#2a6aa8"/>
<circle cx="432.3" cy="192.2" r="0.6" fill="#2a6aa8"/>
<circle cx="427.4" cy="192.6" r="0.6" fill="#2a6aa8"/>
<circle cx="425.1" cy="203.7" r="0.6" fill="#2a6aa8"/>
<circle cx="423.4" cy="199.7" r="0.6" fill="#2a6aa8"/>
<circle cx="426.5" cy="215.4" r="0.6" fill="#2a6aa8"/>
<circle cx="433.9" cy="184.8" r="0.6" fill="#2a6aa8"/>
<circle cx="434.1" cy="184.8" r="0.6" fill="#2a6aa8"/>
<circle cx="431.9" cy="178.8" r="0.6" fill="#2a6aa8"/>
<circle cx="426.9" cy="179.1" r="0.6" fill="#2a6aa8"/>
<circle cx="431.7" cy="209.0" r="0.6" fill="#2a6aa8"/>
<circle cx="428.1" cy="226.8" r="0.6" fill="#2a6aa8"/>
<circle cx="434.8" cy="187.4" r="0.6" fill="#2a6aa8"/>
<circle cx="458.2" cy="222.3" r="0.6" fill="#d02040"/>
<circle cx="457.2" cy="200.4" r="0.6" fill="#d02040"/>
<circle cx="461.9" cy="210.2" r="0.6" fill="#d02040"/>
<circle cx="457.4" cy="205.6" r="0.6" fill="#d02040"/>
<circle cx="459.5" cy="210.3" r="0.6" fill="#d02040"/>
<circle cx="452.7" cy="218.2" r="0.6" fill="#d02040"/>
<circle cx="452.3" cy="207.7" r="0.6" fill="#d02040"/>
<circle cx="453.2" cy="211.1" r="0.6" fill="#d02040"/>
<circle cx="450.0" cy="210.9" r="0.6" fill="#d02040"/>
<circle cx="452.3" cy="208.9" r="0.6" fill="#d02040"/>
<circle cx="450.4" cy="208.3" r="0.6" fill="#d02040"/>
<circle cx="454.1" cy="202.9" r="0.6" fill="#d02040"/>
<circle cx="458.1" cy="205.8" r="0.6" fill="#d02040"/>
<circle cx="454.3" cy="209.0" r="0.6" fill="#d02040"/>
<circle cx="454.7" cy="213.9" r="0.6" fill="#d02040"/>
<circle cx="453.2" cy="215.5" r="0.6" fill="#d02040"/>
<circle cx="452.9" cy="208.2" r="0.6" fill="#d02040"/>
<circle cx="460.3" cy="202.1" r="0.6" fill="#d02040"/>
<circle cx="458.6" cy="209.4" r="0.6" fill="#d02040"/>
<circle cx="458.0" cy="210.2" r="0.6" fill="#d02040"/>
<circle cx="451.8" cy="206.5" r="0.6" fill="#d02040"/>
<circle cx="458.3" cy="218.0" r="0.6" fill="#d02040"/>
<circle cx="451.4" cy="211.4" r="0.6" fill="#d02040"/>
<circle cx="454.7" cy="206.8" r="0.6" fill="#d02040"/>
<circle cx="462.2" cy="204.6" r="0.6" fill="#d02040"/>
<circle cx="458.4" cy="211.0" r="0.6" fill="#d02040"/>
<circle cx="457.2" cy="207.4" r="0.6" fill="#d02040"/>
<circle cx="459.1" cy="208.2" r="0.6" fill="#d02040"/>
<circle cx="460.6" cy="205.1" r="0.6" fill="#d02040"/>
<circle cx="459.2" cy="216.0" r="0.6" fill="#d02040"/>
<circle cx="452.6" cy="206.3" r="0.6" fill="#d02040"/>
<circle cx="452.6" cy="218.3" r="0.6" fill="#d02040"/>
<circle cx="453.9" cy="213.1" r="0.6" fill="#d02040"/>
<circle cx="453.6" cy="214.9" r="0.6" fill="#d02040"/>
<line x1="430.5" y1="192.7" x2="430.5" y2="197.5" stroke="#000" stroke-width="0.95"/>
<line x1="427" y1="192.5" x2="433" y2="192.5" stroke="#000" stroke-width="0.95"/>
<line x1="427" y1="197.5" x2="433" y2="197.5" stroke="#000" stroke-width="0.95"/>
<line x1="456.5" y1="207.5" x2="456.5" y2="210.4" stroke="#000" stroke-width="0.95"/>
<line x1="453.3" y1="207.5" x2="459.3" y2="207.5" stroke="#000" stroke-width="0.95"/>
<line x1="453.3" y1="210.5" x2="459.3" y2="210.5" stroke="#000" stroke-width="0.95"/>
<path d="M430,160 L430,157.5 L456.3,157.5 L456.3,187.9" stroke="#231f20" fill="none" stroke-width="0.9"/>
<text x="442.7" y="158.2" font-size="7" text-anchor="middle" fill="#231f20" stroke="#231f20" stroke-width="0.16">***</text>
<text x="394.2" y="232.1" font-size="9" text-anchor="start" fill="#231f20" stroke="#231f20" stroke-width="0.16" transform="rotate(-90 394.2 232.1)" textLength="78.8" lengthAdjust="spacingAndGlyphs">SMC2 volume/DNA (µm<tspan dy="-2.5" font-size="4.5">3</tspan><tspan dy="2.5">)</tspan></text>
<text x="430.2" y="240.8" font-size="7" text-anchor="middle" fill="#231f20" stroke="#231f20" stroke-width="0.16">Non</text>
<text x="430.2" y="247.9" font-size="7" text-anchor="middle" fill="#231f20" stroke="#231f20" stroke-width="0.16">HyperD</text>
<text x="456.3" y="240.8" font-size="7" text-anchor="middle" fill="#231f20" stroke="#231f20" stroke-width="0.16">HyperD</text>
<text x="6.8" y="267.3" font-size="12.5" text-anchor="start" fill="#000" font-weight="bold">G</text>
<text x="28.4" y="268.9" font-size="5.7" text-anchor="start" fill="#231f20" stroke="#231f20" stroke-width="0.16" textLength="29.0" lengthAdjust="spacingAndGlyphs">Condensin I</text>
<text x="77.9" y="268.9" font-size="5.7" text-anchor="start" fill="#231f20" stroke="#231f20" stroke-width="0.16" textLength="30.2" lengthAdjust="spacingAndGlyphs">Condensin II</text>
<line x1="38" y1="285" x2="28.7" y2="321.5" stroke="#e83a2a" stroke-width="0.75"/>
<line x1="47.4" y1="285" x2="55.9" y2="320.8" stroke="#e83a2a" stroke-width="0.75"/>
<ellipse cx="38" cy="279.7" rx="4.6" ry="6" fill="#e52535" stroke="#d01828" stroke-width="0.4"/>
<ellipse cx="46.6" cy="279.7" rx="4.3" ry="5.8" fill="#f58a1f" stroke="#e06010" stroke-width="0.5"/>
<ellipse cx="28.7" cy="326" rx="5.2" ry="2.3" fill="#16a043"/>
<ellipse cx="55.9" cy="325.5" rx="5.2" ry="2.3" fill="#16a043"/>
<path d="M25.3,324.6 a3.4,3.4 0 0 1 6.8,0 z" fill="#e52535"/>
<path d="M52.699999999999996,324.1 a3.2,3.2 0 0 1 6.4,0 z" fill="#f58a1f" stroke="#e06010" stroke-width="0.3"/>
<path d="M29.7,326.8 Q42.3,338.5 54.9,326.3" stroke="#0d7a30" stroke-width="1.1" fill="none"/>
<path d="M27.299999999999997,332.8 Q34.3,331 41.099999999999994,334.6 L42.3,335.6 L43.5,334.6 Q50.3,331 57.3,332.8 Q54.8,334.8 54.3,337.5 Q53.8,342.5 48.8,343.2 Q44.3,343 42.3,340.2 Q40.3,343 35.8,343.2 Q30.799999999999997,342.5 30.299999999999997,337.5 Q29.799999999999997,334.8 27.299999999999997,332.8 Z" fill="#16a043"/>
<circle cx="42.3" cy="334.8" r="0.7" fill="#fff"/>
<text x="35.6" y="329.9" font-size="5.9" text-anchor="start" fill="#231f20" stroke="#231f20" stroke-width="0.16" textLength="14.6" lengthAdjust="spacingAndGlyphs">CAPH</text>
<line x1="88" y1="285" x2="78.6" y2="321.5" stroke="#e83a2a" stroke-width="0.75"/>
<line x1="97.7" y1="285" x2="105.9" y2="320.8" stroke="#e83a2a" stroke-width="0.75"/>
<ellipse cx="88" cy="279.7" rx="4.6" ry="6" fill="#e52535" stroke="#d01828" stroke-width="0.4"/>
<ellipse cx="96.9" cy="279.7" rx="4.3" ry="5.8" fill="#f58a1f" stroke="#e06010" stroke-width="0.5"/>
<ellipse cx="78.6" cy="326" rx="5.2" ry="2.3" fill="#2f80d8"/>
<ellipse cx="105.9" cy="325.5" rx="5.2" ry="2.3" fill="#2f80d8"/>
<path d="M75.19999999999999,324.6 a3.4,3.4 0 0 1 6.8,0 z" fill="#e52535"/>
<path d="M102.7,324.1 a3.2,3.2 0 0 1 6.4,0 z" fill="#f58a1f" stroke="#e06010" stroke-width="0.3"/>
<path d="M79.6,326.8 Q92.25,338.5 104.9,326.3" stroke="#1a3a9a" stroke-width="1.1" fill="none"/>
<path d="M77.25,332.8 Q84.25,331 91.05,334.6 L92.25,335.6 L93.45,334.6 Q100.25,331 107.25,332.8 Q104.75,334.8 104.25,337.5 Q103.75,342.5 98.75,343.2 Q94.25,343 92.25,340.2 Q90.25,343 85.75,343.2 Q80.75,342.5 80.25,337.5 Q79.75,334.8 77.25,332.8 Z" fill="#2f80d8"/>
<circle cx="92.25" cy="334.8" r="0.7" fill="#fff"/>
<text x="83.7" y="329.9" font-size="5.9" text-anchor="start" fill="#231f20" stroke="#231f20" stroke-width="0.16" textLength="17.2" lengthAdjust="spacingAndGlyphs">CAPH2</text>
<text x="14.3" y="297.3" font-size="5.7" text-anchor="start" fill="#231f20" stroke="#231f20" stroke-width="0.16" textLength="14.1" lengthAdjust="spacingAndGlyphs">SMC2</text>
<text x="53.4" y="297.3" font-size="5.7" text-anchor="start" fill="#231f20" stroke="#231f20" stroke-width="0.16" textLength="14.0" lengthAdjust="spacingAndGlyphs">SMC4</text>
<text x="22.2" y="349.7" font-size="5.7" text-anchor="start" fill="#231f20" stroke="#231f20" stroke-width="0.16" textLength="17.2" lengthAdjust="spacingAndGlyphs">CAPD2</text>
<text x="45.2" y="349.7" font-size="5.7" text-anchor="start" fill="#231f20" stroke="#231f20" stroke-width="0.16" textLength="14.3" lengthAdjust="spacingAndGlyphs">CAPG</text>
<text x="72.2" y="350" font-size="5.7" text-anchor="start" fill="#231f20" stroke="#231f20" stroke-width="0.16" textLength="18.6" lengthAdjust="spacingAndGlyphs">CAPD3</text>
<text x="94.4" y="350" font-size="5.7" text-anchor="start" fill="#231f20" stroke="#231f20" stroke-width="0.16" textLength="17.7" lengthAdjust="spacingAndGlyphs">CAPG2</text>
<text x="126.8" y="268" font-size="12.5" text-anchor="start" fill="#000" font-weight="bold">H</text>
<text x="193.4" y="269.5" font-size="6.4" text-anchor="start" fill="#231f20" stroke="#231f20" stroke-width="0.16" textLength="35.2" lengthAdjust="spacingAndGlyphs">NonHyperD</text>
<text x="248.5" y="269.5" font-size="6.4" text-anchor="start" fill="#231f20" stroke="#231f20" stroke-width="0.16" textLength="21.9" lengthAdjust="spacingAndGlyphs">HyperD</text>
<line x1="176.9" y1="272.5" x2="230" y2="272.5" stroke="#231f20" stroke-width="0.95"/>
<line x1="234.2" y1="272.5" x2="287.2" y2="272.5" stroke="#231f20" stroke-width="0.95"/>
<text x="138.8" y="284.1" font-size="6.6" text-anchor="start" fill="#231f20" stroke="#231f20" stroke-width="0.16" textLength="33.8" lengthAdjust="spacingAndGlyphs">Patient ID #</text>
<text x="182.1" y="284" font-size="6.6" text-anchor="middle" fill="#231f20" stroke="#231f20" stroke-width="0.16">24</text>
<text x="193.6" y="284" font-size="6.6" text-anchor="middle" fill="#231f20" stroke="#231f20" stroke-width="0.16">16</text>
<text x="204.3" y="284" font-size="6.6" text-anchor="middle" fill="#231f20" stroke="#231f20" stroke-width="0.16">22</text>
<text x="214.3" y="284" font-size="6.6" text-anchor="middle" fill="#231f20" stroke="#231f20" stroke-width="0.16">17</text>
<text x="223.8" y="284" font-size="6.6" text-anchor="middle" fill="#231f20" stroke="#231f20" stroke-width="0.16">21</text>
<text x="236.5" y="284" font-size="6.6" text-anchor="middle" fill="#231f20" stroke="#231f20" stroke-width="0.16">4</text>
<text x="247.3" y="284" font-size="6.6" text-anchor="middle" fill="#231f20" stroke="#231f20" stroke-width="0.16">5</text>
<text x="258.2" y="284" font-size="6.6" text-anchor="middle" fill="#231f20" stroke="#231f20" stroke-width="0.16">6</text>
<text x="269.2" y="284" font-size="6.6" text-anchor="middle" fill="#231f20" stroke="#231f20" stroke-width="0.16">11</text>
<text x="280.3" y="284" font-size="6.6" text-anchor="middle" fill="#231f20" stroke="#231f20" stroke-width="0.16">12</text>
<rect x="175.8" y="288.5" width="112.7" height="11.800000000000011" fill="#f3f3f3" stroke="#9a9a9a" stroke-width="0.7"/>
<text x="291.3" y="297.5" font-size="6.4" text-anchor="start" fill="#231f20" stroke="#231f20" stroke-width="0.16" textLength="32.7" lengthAdjust="spacingAndGlyphs">SMC2 (I+II)</text>
<rect x="175.8" y="301.7" width="112.7" height="12.400000000000034" fill="#f3f3f3" stroke="#9a9a9a" stroke-width="0.7"/>
<text x="291.3" y="311.3" font-size="6.4" text-anchor="start" fill="#231f20" stroke="#231f20" stroke-width="0.16" textLength="28.5" lengthAdjust="spacingAndGlyphs">CAPD2 (I)</text>
<rect x="175.8" y="315.5" width="112.7" height="12.0" fill="#f3f3f3" stroke="#9a9a9a" stroke-width="0.7"/>
<text x="291.3" y="326.5" font-size="6.4" text-anchor="start" fill="#231f20" stroke="#231f20" stroke-width="0.16" textLength="30.4" lengthAdjust="spacingAndGlyphs">CAPD3 (II)</text>
<rect x="175.8" y="328.8" width="112.7" height="13.399999999999977" fill="#f3f3f3" stroke="#9a9a9a" stroke-width="0.7"/>
<text x="291.3" y="340.6" font-size="6.4" text-anchor="start" fill="#231f20" stroke="#231f20" stroke-width="0.16" textLength="15.0" lengthAdjust="spacingAndGlyphs">Actin</text>
<g filter="url(#bl04)">
<rect x="177.5" y="292.6" width="9" height="2" rx="1" fill="rgb(135,135,135)"/>
<rect x="188.5" y="292.6" width="9" height="2" rx="1" fill="rgb(154,154,154)"/>
<rect x="200.1" y="292.6" width="9" height="2" rx="1" fill="rgb(126,126,126)"/>
<rect x="210.5" y="292.6" width="9" height="2" rx="1" fill="rgb(145,145,145)"/>
<rect x="220.5" y="292.6" width="9" height="2" rx="1" fill="rgb(145,145,145)"/>
<rect x="231.3" y="292.6" width="9" height="2" rx="1" fill="rgb(154,154,154)"/>
<rect x="242.9" y="292.6" width="9" height="2" rx="1" fill="rgb(164,164,164)"/>
<rect x="255.0" y="292.6" width="9" height="2" rx="1" fill="rgb(164,164,164)"/>
<rect x="266.0" y="292.6" width="9" height="2" rx="1" fill="rgb(154,154,154)"/>
<rect x="276.4" y="292.6" width="9" height="2" rx="1" fill="rgb(192,192,192)"/>
<rect x="177.7" y="305.7" width="8.6" height="1.8" rx="0.9" fill="rgb(5,5,5)"/>
<rect x="188.7" y="305.7" width="8.6" height="1.8" rx="0.9" fill="rgb(63,63,63)"/>
<rect x="200.29999999999998" y="305.7" width="8.6" height="1.8" rx="0.9" fill="rgb(28,28,28)"/>
<rect x="210.7" y="305.7" width="8.6" height="1.8" rx="0.9" fill="rgb(5,5,5)"/>
<rect x="220.7" y="305.7" width="8.6" height="1.8" rx="0.9" fill="rgb(16,16,16)"/>
<rect x="231.5" y="305.7" width="8.6" height="1.8" rx="0.9" fill="rgb(63,63,63)"/>
<rect x="243.1" y="305.7" width="8.6" height="1.8" rx="0.9" fill="rgb(110,110,110)"/>
<rect x="255.2" y="305.7" width="8.6" height="1.8" rx="0.9" fill="rgb(181,181,181)"/>
<rect x="266.2" y="305.7" width="8.6" height="1.8" rx="0.9" fill="rgb(28,28,28)"/>
<rect x="276.59999999999997" y="305.7" width="8.6" height="1.8" rx="0.9" fill="rgb(110,110,110)"/>
<rect x="177.5" y="318.2" width="9" height="1.6" rx="0.8" fill="rgb(190,190,190)"/>
<rect x="177.5" y="321.4" width="9" height="1.6" rx="0.8" fill="rgb(175,175,175)"/>
<rect x="188.5" y="318.2" width="9" height="1.6" rx="0.8" fill="rgb(190,190,190)"/>
<rect x="188.5" y="321.4" width="9" height="1.6" rx="0.8" fill="rgb(175,175,175)"/>
<rect x="200.1" y="318.2" width="9" height="1.6" rx="0.8" fill="rgb(197,197,197)"/>
<rect x="200.1" y="321.4" width="9" height="1.6" rx="0.8" fill="rgb(185,185,185)"/>
<rect x="210.5" y="316.5" width="9" height="3.5" rx="0.8" fill="rgb(92,92,92)"/>
<rect x="210.5" y="321.4" width="9" height="2.4" rx="0.8" fill="rgb(45,45,45)"/>
<rect x="220.5" y="318.2" width="9" height="1.6" rx="0.8" fill="rgb(107,107,107)"/>
<rect x="220.5" y="321.4" width="9" height="2.4" rx="0.8" fill="rgb(65,65,65)"/>
<rect x="231.3" y="318.2" width="9" height="1.6" rx="0.8" fill="rgb(190,190,190)"/>
<rect x="231.3" y="321.4" width="9" height="1.6" rx="0.8" fill="rgb(175,175,175)"/>
<rect x="242.9" y="318.2" width="9" height="1.6" rx="0.8" fill="rgb(220,220,220)"/>
<rect x="242.9" y="321.4" width="9" height="1.6" rx="0.8" fill="rgb(215,215,215)"/>
<rect x="255.0" y="318.2" width="9" height="1.6" rx="0.8" fill="rgb(227,227,227)"/>
<rect x="255.0" y="321.4" width="9" height="1.6" rx="0.8" fill="rgb(225,225,225)"/>
<rect x="266.0" y="318.2" width="9" height="1.6" rx="0.8" fill="rgb(137,137,137)"/>
<rect x="266.0" y="321.4" width="9" height="2.4" rx="0.8" fill="rgb(105,105,105)"/>
<rect x="276.4" y="318.2" width="9" height="1.6" rx="0.8" fill="rgb(145,145,145)"/>
<rect x="276.4" y="321.4" width="9" height="2.4" rx="0.8" fill="rgb(115,115,115)"/>
<rect x="177.4" y="333.8" width="9.2" height="2.6" rx="1.2" fill="#111"/>
<rect x="188.4" y="333.8" width="9.2" height="2.6" rx="1.2" fill="#111"/>
<rect x="200.0" y="333.8" width="9.2" height="2.6" rx="1.2" fill="#111"/>
<rect x="210.4" y="333.8" width="9.2" height="2.6" rx="1.2" fill="#111"/>
<rect x="220.4" y="333.8" width="9.2" height="2.6" rx="1.2" fill="#111"/>
<rect x="231.20000000000002" y="333.8" width="9.2" height="2.6" rx="1.2" fill="#111"/>
<rect x="242.8" y="333.8" width="9.2" height="2.6" rx="1.2" fill="#111"/>
<rect x="254.9" y="333.8" width="9.2" height="2.6" rx="1.2" fill="#111"/>
<rect x="265.9" y="333.8" width="9.2" height="2.6" rx="1.2" fill="#111"/>
<rect x="276.29999999999995" y="333.8" width="9.2" height="2.6" rx="1.2" fill="#111"/>
</g>
<text x="373.2" y="267.6" font-size="12.5" text-anchor="start" fill="#000" font-weight="bold">I</text>
<rect x="419.1" y="262.8" width="8" height="2.8" fill="#145189"/>
<text x="430.3" y="265.8" font-size="4.9" text-anchor="start" fill="#231f20" stroke="#231f20" stroke-width="0.16" textLength="29.0" lengthAdjust="spacingAndGlyphs">NonHyperD</text>
<rect x="419.1" y="270.9" width="8" height="3.1" fill="#c8102e"/>
<text x="430.3" y="274.2" font-size="4.9" text-anchor="start" fill="#231f20" stroke="#231f20" stroke-width="0.16" textLength="18.6" lengthAdjust="spacingAndGlyphs">HyperD</text>
<text x="453.6" y="280.2" font-size="7" text-anchor="start" fill="#231f20" stroke="#231f20" stroke-width="0.16" textLength="21.1" lengthAdjust="spacingAndGlyphs">P=0.09</text>
<line x1="418.5" y1="285.4" x2="418.5" y2="369.8" stroke="#231f20" stroke-width="1.0"/>
<line x1="415.2" y1="288.5" x2="418.5" y2="288.5" stroke="#231f20" stroke-width="0.9"/>
<text x="411.9" y="290.3704" font-size="6.6" text-anchor="end" fill="#231f20" stroke="#231f20" stroke-width="0.16">5</text>
<line x1="415.2" y1="304.5" x2="418.5" y2="304.5" stroke="#231f20" stroke-width="0.9"/>
<text x="411.9" y="306.7104" font-size="6.6" text-anchor="end" fill="#231f20" stroke="#231f20" stroke-width="0.16">4</text>
<line x1="415.2" y1="320.5" x2="418.5" y2="320.5" stroke="#231f20" stroke-width="0.9"/>
<text x="411.9" y="323.0504" font-size="6.6" text-anchor="end" fill="#231f20" stroke="#231f20" stroke-width="0.16">3</text>
<line x1="415.2" y1="337.5" x2="418.5" y2="337.5" stroke="#231f20" stroke-width="0.9"/>
<text x="411.9" y="339.3904" font-size="6.6" text-anchor="end" fill="#231f20" stroke="#231f20" stroke-width="0.16">2</text>
<line x1="415.2" y1="353.5" x2="418.5" y2="353.5" stroke="#231f20" stroke-width="0.9"/>
<text x="411.9" y="355.73040000000003" font-size="6.6" text-anchor="end" fill="#231f20" stroke="#231f20" stroke-width="0.16">1</text>
<line x1="415.2" y1="369.5" x2="418.5" y2="369.5" stroke="#231f20" stroke-width="0.9"/>
<text x="411.9" y="372.0704" font-size="6.6" text-anchor="end" fill="#231f20" stroke="#231f20" stroke-width="0.16">0</text>
<line x1="416" y1="369.5" x2="473.3" y2="369.5" stroke="#231f20" stroke-width="1.0"/>
<line x1="427.5" y1="369.8" x2="427.5" y2="372.5" stroke="#231f20" stroke-width="0.6"/>
<line x1="445.7" y1="369.8" x2="445.7" y2="372.5" stroke="#231f20" stroke-width="0.6"/>
<line x1="464.2" y1="369.8" x2="464.2" y2="372.5" stroke="#231f20" stroke-width="0.6"/>
<rect x="422.1" y="355.911" width="4.7" height="13.88900000000001" fill="#7b9fc4"/>
<rect x="429.2" y="365.71500000000003" width="4.7" height="4.0849999999999795" fill="#e5899a"/>
<rect x="439.9" y="353.46000000000004" width="4.7" height="16.339999999999975" fill="#7b9fc4"/>
<rect x="447" y="364.081" width="4.7" height="5.718999999999994" fill="#e5899a"/>
<rect x="458.5" y="323.231" width="4.7" height="46.56900000000002" fill="#7b9fc4"/>
<line x1="460.95" y1="323.231" x2="460.95" y2="304.44" stroke="#000" stroke-width="0.7"/>
<line x1="459.15" y1="304.44" x2="462.75" y2="304.44" stroke="#000" stroke-width="0.7"/>
<rect x="465.2" y="348.558" width="4.7" height="21.24200000000002" fill="#e5899a"/>
<line x1="467.65" y1="348.558" x2="467.65" y2="337.937" stroke="#000" stroke-width="0.7"/>
<line x1="465.84999999999997" y1="337.937" x2="469.45" y2="337.937" stroke="#000" stroke-width="0.7"/>
<circle cx="421.8" cy="353.5" r="0.75" fill="#145189"/>
<circle cx="423.5" cy="356.4" r="0.75" fill="#145189"/>
<circle cx="425.4" cy="354.3" r="0.75" fill="#145189"/>
<circle cx="424" cy="357.5" r="0.75" fill="#145189"/>
<circle cx="430" cy="364.9" r="0.75" fill="#c8102e"/>
<circle cx="431.5" cy="365.7" r="0.75" fill="#c8102e"/>
<circle cx="433.2" cy="365.2" r="0.75" fill="#c8102e"/>
<circle cx="432" cy="367.3" r="0.75" fill="#c8102e"/>
<circle cx="440" cy="347.3" r="0.75" fill="#145189"/>
<circle cx="441.5" cy="354.3" r="0.75" fill="#145189"/>
<circle cx="443.3" cy="358.4" r="0.75" fill="#145189"/>
<circle cx="442.5" cy="353.5" r="0.75" fill="#145189"/>
<circle cx="448" cy="362.4" r="0.75" fill="#c8102e"/>
<circle cx="449.8" cy="364.1" r="0.75" fill="#c8102e"/>
<circle cx="451.2" cy="362.9" r="0.75" fill="#c8102e"/>
<circle cx="449.5" cy="365.7" r="0.75" fill="#c8102e"/>
<circle cx="460.5" cy="286.5" r="0.75" fill="#145189"/>
<circle cx="461" cy="352.6" r="0.75" fill="#145189"/>
<circle cx="467.8" cy="309.3" r="0.75" fill="#c8102e"/>
<circle cx="467.5" cy="360.0" r="0.75" fill="#c8102e"/>
<circle cx="468.2" cy="365.7" r="0.75" fill="#c8102e"/>
<path d="M423.5,341 L423.5,338.9 L431.6,338.9 L431.6,350.5" stroke="#231f20" fill="none" stroke-width="0.9"/>
<text x="427.6" y="341.5" font-size="6.5" text-anchor="middle" fill="#231f20" stroke="#231f20" stroke-width="0.16">****</text>
<path d="M441.3,341 L441.3,338.9 L448.8,338.9 L448.8,350.5" stroke="#231f20" fill="none" stroke-width="0.9"/>
<text x="445" y="341.5" font-size="6.5" text-anchor="middle" fill="#231f20" stroke="#231f20" stroke-width="0.16">**</text>
<path d="M461,283.6 L461,281.9 L467.7,281.9 L467.7,294.1" stroke="#231f20" fill="none" stroke-width="0.9"/>
<text x="392.4" y="348" font-size="8.4" text-anchor="start" fill="#231f20" stroke="#231f20" stroke-width="0.16" transform="rotate(-90 392.4 348)" textLength="40.8" lengthAdjust="spacingAndGlyphs">Protein levels</text>
<text x="402" y="359" font-size="8.4" text-anchor="start" fill="#231f20" stroke="#231f20" stroke-width="0.16" transform="rotate(-90 402 359)" textLength="63.8" lengthAdjust="spacingAndGlyphs">(normalized to actin)</text>
<text x="430.8" y="380.8" font-size="6.8" text-anchor="end" fill="#231f20" stroke="#231f20" stroke-width="0.16" transform="rotate(-45 430.8 380.8)">SMC2</text>
<text x="448.90000000000003" y="380.8" font-size="6.8" text-anchor="end" fill="#231f20" stroke="#231f20" stroke-width="0.16" transform="rotate(-45 448.90000000000003 380.8)">CAPD2</text>
<text x="467.1" y="380.8" font-size="6.8" text-anchor="end" fill="#231f20" stroke="#231f20" stroke-width="0.16" transform="rotate(-45 467.1 380.8)">CAPD3</text>
<text x="7" y="371" font-size="12.5" text-anchor="start" fill="#000" font-weight="bold">J</text>
<text x="99.2" y="368.8" font-size="6.7" text-anchor="start" fill="#231f20" stroke="#231f20" stroke-width="0.16" textLength="35.0" lengthAdjust="spacingAndGlyphs">NonHyperD</text>
<text x="224.8" y="368.8" font-size="6.7" text-anchor="start" fill="#231f20" stroke="#231f20" stroke-width="0.16" textLength="22.8" lengthAdjust="spacingAndGlyphs">HyperD</text>
<rect x="66.1" y="372.9" width="101.4" height="67.3" fill="none" stroke="#333" stroke-width="0.9"/>
<rect x="185.6" y="372.9" width="100.9" height="67.3" fill="none" stroke="#333" stroke-width="0.9"/>
<rect x="65.8" y="452.8" width="102.8" height="68" fill="none" stroke="#333" stroke-width="0.9"/>
<rect x="185.6" y="454.8" width="100.9" height="66" fill="none" stroke="#333" stroke-width="0.9"/>
<clipPath id="cj1"><rect x="66.1" y="373.3" width="101.4" height="67"/></clipPath>
<clipPath id="cj2"><rect x="185.6" y="373.3" width="100.9" height="67"/></clipPath>
<clipPath id="cj3"><rect x="66.1" y="454.3" width="101.9" height="67"/></clipPath>
<clipPath id="cj4"><rect x="185.6" y="454.3" width="100.9" height="67"/></clipPath>
<g clip-path="url(#cj1)">
<path d="M110.7,437.5 L112.4,395.3 L113.0,395.3 L113.9,422.73 L117.7,437.5 Z" fill="#40a848" opacity="0.55"/>
<path d="M110.2,427 L111.10000000000001,419.5 L111.7,419.5 L112.12,424.375 L113.56,427 Z" fill="#4050c0" opacity="0.5"/>
<polyline points="66.2,429.8 68.8,426.0 70.5,429.8 73.7,428.7 77.5,432.5 79.0,372.0 81.8,372.0 84.0,417.4 86.0,409.3 87.2,418.5 88.3,417.0 89.8,430.3 91.0,372.0 92.5,372.0 94.7,417.4 97.4,420.6 99.5,423.8 101.7,421.2 103.8,425.0 107.0,423.3 109.2,426.5 111.4,419.5 113.5,425.5 116.8,426.0 118.2,424.9 120.9,416.3 123.1,426.0 125.4,409.8 127.9,421.7 130.6,424.4 132.8,422.2 135.5,424.9 138.2,423.3 139.8,427.1 144.6,421.2 146.8,422.8 151.6,419.0 154.3,428.2 158.6,423.3 161.3,426.5 165.6,425.5 167.2,419.5" stroke="#a0a0e4" fill="none" stroke-width="0.6" stroke-linejoin="round" opacity="1"/>
<polyline points="66.2,437.3 74.8,436.2 77.5,435.2 81.2,435.7 85.5,430.3 87.2,433.5 90.4,431.4 94.2,434.6 98.5,435.7 100.6,430.3 103.3,434.6 109.2,434.6 111.3,433.5 112.7,395.3 114.0,423.8 116.8,432.5 119.3,433.5 121.5,431.4 123.6,426.0 125.8,427.6 130.6,432.5 134.4,428.2 138.2,426.0 139.8,412.0 141.9,419.5 144.1,420.0 147.3,427.6 151.6,428.2 155.9,427.1 159.2,428.7 162.4,429.8 167.2,430.3" stroke="#72c076" fill="none" stroke-width="0.6" stroke-linejoin="round" opacity="1"/>
<polyline points="66.2,438.3 100.0,438.1 112.0,437.6 125.0,437.8 140.0,437.2 150.0,437.5 160.0,437.0 167.0,437.6" stroke="#f07880" fill="none" stroke-width="0.6" stroke-linejoin="round" opacity="1"/>
</g>
<g clip-path="url(#cj2)">
<path d="M229.29999999999998,432 L230.79999999999998,384 L231.4,384 L232.18,415.2 L235.06,432 Z" fill="#e83848" opacity="0.5"/>
<path d="M228.1,414 L228.79999999999998,407.7 L229.4,407.7 L229.7,411.795 L230.9,414 Z" fill="#555" opacity="0.6"/>
<path d="M230.2,437.5 L231.2,428.7 L231.8,428.7 L232.28,434.42 L233.84,437.5 Z" fill="#4848c8" opacity="0.5"/>
<polyline points="185.2,414.2 187.8,418.5 190.5,423.8 191.6,372.0 196.5,372.0 197.5,395.8 199.7,398.5 201.3,378.1 202.9,427.1 204.5,372.0 206.2,372.0 208.8,413.1 211.5,409.8 214.2,407.7 217.5,413.1 220.2,412.5 222.8,415.2 227.2,415.2 229.1,407.7 230.9,413.6 234.7,413.1 235.6,413.1 238.1,415.8 240.5,406.1 242.4,410.9 244.4,403.9 246.9,412.0 248.5,412.5 251.2,415.2 253.4,413.1 255.5,419.0 257.7,414.2 260.9,412.5 263.6,413.1 266.3,412.5 269.0,410.4 271.7,420.1 274.4,414.2 276.5,412.5 278.7,416.3 281.4,419.5 286.2,414.7" stroke="#909090" fill="none" stroke-width="0.6" stroke-linejoin="round" opacity="1"/>
<polyline points="185.2,433.5 190.0,431.4 192.7,433.0 197.0,431.9 200.8,426.0 203.5,414.7 205.6,426.0 208.8,431.4 211.5,431.4 213.5,424.4 215.3,431.4 220.7,431.4 226.1,432.5 229.5,431.4 231.1,384.0 232.5,417.4 234.0,430.8 235.6,431.0 237.8,425.5 239.9,428.2 241.5,426.5 243.7,430.3 245.8,426.5 248.5,429.2 251.8,428.7 253.6,428.7 255.5,407.2 257.5,423.8 259.6,419.5 262.0,422.8 264.7,427.1 267.4,423.8 269.5,426.5 272.2,423.8 274.9,427.1 277.6,429.2 280.8,427.1 284.1,428.7 286.2,430.3" stroke="#f07880" fill="none" stroke-width="0.6" stroke-linejoin="round" opacity="1"/>
<polyline points="185.2,437.8 220.0,437.6 228.0,436.5 229.3,434.6 230.5,436.0 231.5,428.7 233.0,437.0 250.0,437.3 256.0,436.6 270.0,437.2 286.0,437.4" stroke="#4050c0" fill="none" stroke-width="0.5" stroke-linejoin="round" opacity="1"/>
<polyline points="185.2,438.3 225.0,437.8 229.3,434.6 231.0,437.5 255.0,436.5 270.0,436.8 286.0,437.8" stroke="#3a9a6a" fill="none" stroke-width="0.5" stroke-linejoin="round" opacity="1"/>
</g>
<g clip-path="url(#cj3)">
<path d="M116.8,506 L118.3,471.5 L118.89999999999999,471.5 L119.67999999999999,493.925 L121.83999999999999,506 Z" fill="#40a848" opacity="0.5"/>
<path d="M121.6,507.5 L122.8,467.2 L123.39999999999999,467.2 L124.0,493.395 L125.8,507.5 Z" fill="#e84050" opacity="0.5"/>
<path d="M117.3,519 L118.5,511.4 L119.1,511.4 L119.7,516.34 L121.5,519 Z" fill="#f5b060" opacity="0.7"/>
<polyline points="67.2,516.2 70.5,517.8 74.8,517.8 80.2,517.3 84.5,517.8 86.8,511.9 88.8,517.8 94.2,517.3 96.5,503.3 98.2,514.6 101.2,516.8 104.9,511.4 107.1,510.8 110.3,513.5 113.0,513.0 114.6,499.5 116.2,506.0 117.0,506.0 118.6,471.5 120.1,505.0 125.8,507.1 131.7,510.3 133.8,507.1 136.5,508.7 140.8,504.9 144.1,501.2 147.3,496.3 150.5,471.5 153.2,492.0 155.4,462.9 156.5,465.6 157.5,454.0 159.7,454.0 162.4,501.7 165.6,509.2 167.8,508.2" stroke="#72c076" fill="none" stroke-width="0.6" stroke-linejoin="round" opacity="1"/>
<polyline points="67.2,515.2 70.5,517.3 78.0,517.3 85.5,518.9 92.0,517.3 99.5,514.6 104.9,514.6 109.2,512.5 114.6,513.5 119.3,511.9 121.5,509.2 123.1,467.2 124.7,506.0 127.9,507.1 131.2,506.0 134.9,499.5 138.7,497.9 141.4,487.7 143.5,483.4 145.2,470.5 147.3,493.1 149.5,462.9 150.5,456.5 152.2,467.2 153.8,495.2 155.9,501.7 158.6,508.7 160.0,506.0 162.4,480.7 164.5,495.2 167.2,502.8" stroke="#f07880" fill="none" stroke-width="0.6" stroke-linejoin="round" opacity="1"/>
<polyline points="67.0,519.5 100.0,519.0 104.9,518.0 107.0,519.0 140.0,518.5 141.5,517.5 143.0,518.5 158.0,518.0 160.0,517.3 162.0,518.3 168.0,518.2" stroke="#80b8ee" fill="none" stroke-width="0.5" stroke-linejoin="round" opacity="1"/>
<polyline points="67.0,520.0 116.0,519.5 118.8,511.4 121.0,519.5 168.0,519.5" stroke="#f5b060" fill="none" stroke-width="0.5" stroke-linejoin="round" opacity="1"/>
</g>
<g clip-path="url(#cj4)">
<path d="M229.0,503 L230.1,473.7 L230.70000000000002,473.7 L231.24,492.745 L232.92000000000002,503 Z" fill="#555" opacity="0.55"/>
<path d="M232.29999999999998,504 L233.29999999999998,479.1 L233.9,479.1 L234.38,495.285 L235.94,504 Z" fill="#e03040" opacity="0.55"/>
<path d="M228.3,511 L229.5,506 L230.10000000000002,506 L230.70000000000002,509.25 L232.5,511 Z" fill="#80b8ee" opacity="0.7"/>
<polyline points="185.2,504.9 187.3,500.6 189.5,506.5 193.8,507.1 200.2,506.5 201.8,507.6 203.5,500.1 205.6,507.1 208.8,508.2 211.5,503.3 213.7,506.0 217.5,506.0 220.2,502.2 222.8,504.9 226.1,502.8 228.2,502.8 230.4,473.7 232.0,503.3 239.0,504.4 240.5,504.4 242.6,500.6 244.8,504.4 248.0,500.6 251.8,493.1 253.9,499.5 256.6,477.5 259.8,494.2 261.5,481.2 263.1,456.5 264.7,456.5 266.3,498.5 268.5,500.6 271.2,504.9 272.8,497.4 274.9,503.8 277.1,505.5 281.4,504.4 286.2,502.8" stroke="#909090" fill="none" stroke-width="0.6" stroke-linejoin="round" opacity="1"/>
<polyline points="185.2,503.9 187.3,500.6 188.9,506.5 193.8,506.5 200.8,506.0 202.9,509.0 206.7,508.2 211.5,504.9 215.3,507.1 219.6,506.0 221.2,503.8 224.5,505.5 228.2,504.9 232.0,503.8 233.6,479.1 235.2,503.8 239.4,504.4 242.1,502.8 244.8,503.8 248.5,493.1 250.2,495.2 252.3,486.6 254.5,499.5 255.5,484.5 257.2,468.8 258.8,487.7 260.9,497.4 263.6,503.8 265.8,494.2 266.8,482.8 268.5,493.1 271.2,498.5 273.3,499.0 275.5,493.6 277.6,501.7 279.8,496.8 281.9,503.8 285.7,499.0" stroke="#f07880" fill="none" stroke-width="0.6" stroke-linejoin="round" opacity="1"/>
<polyline points="185.2,509.5 200.0,509.8 219.0,509.2 220.0,508.0 221.5,509.5 233.0,509.0 234.0,508.3 236.0,509.5 249.0,509.5 250.0,508.5 252.0,509.6 263.0,509.5 264.0,508.6 266.0,509.7 286.0,509.8" stroke="#f5b060" fill="none" stroke-width="0.5" stroke-linejoin="round" opacity="1"/>
<polyline points="185.2,510.8 228.0,510.5 229.8,506.0 231.5,510.5 286.0,510.8" stroke="#80b8ee" fill="none" stroke-width="0.5" stroke-linejoin="round" opacity="1"/>
</g>
<path d="M66.1,440.2 v1.2 M67.6,440.2 v1.2 M69.1,440.2 v1.2 M70.6,440.2 v1.2 M72.2,440.2 v1.2 M73.7,440.2 v1.2 M75.2,440.2 v1.2 M76.7,440.2 v1.2 M78.2,440.2 v1.2 M79.7,440.2 v1.2 M81.2,440.2 v1.2 M82.7,440.2 v1.2 M84.3,440.2 v1.2 M85.8,440.2 v1.2 M87.3,440.2 v1.2 M88.8,440.2 v1.2 M90.3,440.2 v1.2 M91.8,440.2 v1.2 M93.3,440.2 v1.2 M94.9,440.2 v1.2 M96.4,440.2 v1.2 M97.9,440.2 v1.2 M99.4,440.2 v1.2 M100.9,440.2 v1.2 M102.4,440.2 v1.2 M103.9,440.2 v1.2 M105.4,440.2 v1.2 M107.0,440.2 v1.2 M108.5,440.2 v1.2 M110.0,440.2 v1.2 M111.5,440.2 v1.2 M113.0,440.2 v1.2 M114.5,440.2 v1.2 M116.0,440.2 v1.2 M117.6,440.2 v1.2 M119.1,440.2 v1.2 M120.6,440.2 v1.2 M122.1,440.2 v1.2 M123.6,440.2 v1.2 M125.1,440.2 v1.2 M126.6,440.2 v1.2 M128.2,440.2 v1.2 M129.7,440.2 v1.2 M131.2,440.2 v1.2 M132.7,440.2 v1.2 M134.2,440.2 v1.2 M135.7,440.2 v1.2 M137.2,440.2 v1.2 M138.7,440.2 v1.2 M140.3,440.2 v1.2 M141.8,440.2 v1.2 M143.3,440.2 v1.2 M144.8,440.2 v1.2 M146.3,440.2 v1.2 M147.8,440.2 v1.2 M149.3,440.2 v1.2 M150.9,440.2 v1.2 M152.4,440.2 v1.2 M153.9,440.2 v1.2 M155.4,440.2 v1.2 M156.9,440.2 v1.2 M158.4,440.2 v1.2 M159.9,440.2 v1.2 M161.4,440.2 v1.2 M163.0,440.2 v1.2 M164.5,440.2 v1.2 M166.0,440.2 v1.2 M167.5,440.2 v1.2" stroke="#333" stroke-width="0.4"/>
<path d="M66.1,372.9 h-1.2 M66.1,374.4 h-1.2 M66.1,376.0 h-1.2 M66.1,377.5 h-1.2 M66.1,379.0 h-1.2 M66.1,380.5 h-1.2 M66.1,382.1 h-1.2 M66.1,383.6 h-1.2 M66.1,385.1 h-1.2 M66.1,386.7 h-1.2 M66.1,388.2 h-1.2 M66.1,389.7 h-1.2 M66.1,391.3 h-1.2 M66.1,392.8 h-1.2 M66.1,394.3 h-1.2 M66.1,395.8 h-1.2 M66.1,397.4 h-1.2 M66.1,398.9 h-1.2 M66.1,400.4 h-1.2 M66.1,402.0 h-1.2 M66.1,403.5 h-1.2 M66.1,405.0 h-1.2 M66.1,406.5 h-1.2 M66.1,408.1 h-1.2 M66.1,409.6 h-1.2 M66.1,411.1 h-1.2 M66.1,412.7 h-1.2 M66.1,414.2 h-1.2 M66.1,415.7 h-1.2 M66.1,417.3 h-1.2 M66.1,418.8 h-1.2 M66.1,420.3 h-1.2 M66.1,421.8 h-1.2 M66.1,423.4 h-1.2 M66.1,424.9 h-1.2 M66.1,426.4 h-1.2 M66.1,428.0 h-1.2 M66.1,429.5 h-1.2 M66.1,431.0 h-1.2 M66.1,432.6 h-1.2 M66.1,434.1 h-1.2 M66.1,435.6 h-1.2 M66.1,437.1 h-1.2 M66.1,438.7 h-1.2 M66.1,440.2 h-1.2" stroke="#333" stroke-width="0.4"/>
<path d="M185.6,440.2 v1.2 M187.1,440.2 v1.2 M188.6,440.2 v1.2 M190.1,440.2 v1.2 M191.6,440.2 v1.2 M193.1,440.2 v1.2 M194.6,440.2 v1.2 M196.1,440.2 v1.2 M197.6,440.2 v1.2 M199.2,440.2 v1.2 M200.7,440.2 v1.2 M202.2,440.2 v1.2 M203.7,440.2 v1.2 M205.2,440.2 v1.2 M206.7,440.2 v1.2 M208.2,440.2 v1.2 M209.7,440.2 v1.2 M211.2,440.2 v1.2 M212.7,440.2 v1.2 M214.2,440.2 v1.2 M215.7,440.2 v1.2 M217.2,440.2 v1.2 M218.7,440.2 v1.2 M220.2,440.2 v1.2 M221.7,440.2 v1.2 M223.2,440.2 v1.2 M224.8,440.2 v1.2 M226.3,440.2 v1.2 M227.8,440.2 v1.2 M229.3,440.2 v1.2 M230.8,440.2 v1.2 M232.3,440.2 v1.2 M233.8,440.2 v1.2 M235.3,440.2 v1.2 M236.8,440.2 v1.2 M238.3,440.2 v1.2 M239.8,440.2 v1.2 M241.3,440.2 v1.2 M242.8,440.2 v1.2 M244.3,440.2 v1.2 M245.8,440.2 v1.2 M247.3,440.2 v1.2 M248.9,440.2 v1.2 M250.4,440.2 v1.2 M251.9,440.2 v1.2 M253.4,440.2 v1.2 M254.9,440.2 v1.2 M256.4,440.2 v1.2 M257.9,440.2 v1.2 M259.4,440.2 v1.2 M260.9,440.2 v1.2 M262.4,440.2 v1.2 M263.9,440.2 v1.2 M265.4,440.2 v1.2 M266.9,440.2 v1.2 M268.4,440.2 v1.2 M269.9,440.2 v1.2 M271.4,440.2 v1.2 M272.9,440.2 v1.2 M274.5,440.2 v1.2 M276.0,440.2 v1.2 M277.5,440.2 v1.2 M279.0,440.2 v1.2 M280.5,440.2 v1.2 M282.0,440.2 v1.2 M283.5,440.2 v1.2 M285.0,440.2 v1.2 M286.5,440.2 v1.2" stroke="#333" stroke-width="0.4"/>
<path d="M185.6,372.9 h-1.2 M185.6,374.4 h-1.2 M185.6,376.0 h-1.2 M185.6,377.5 h-1.2 M185.6,379.0 h-1.2 M185.6,380.5 h-1.2 M185.6,382.1 h-1.2 M185.6,383.6 h-1.2 M185.6,385.1 h-1.2 M185.6,386.7 h-1.2 M185.6,388.2 h-1.2 M185.6,389.7 h-1.2 M185.6,391.3 h-1.2 M185.6,392.8 h-1.2 M185.6,394.3 h-1.2 M185.6,395.8 h-1.2 M185.6,397.4 h-1.2 M185.6,398.9 h-1.2 M185.6,400.4 h-1.2 M185.6,402.0 h-1.2 M185.6,403.5 h-1.2 M185.6,405.0 h-1.2 M185.6,406.5 h-1.2 M185.6,408.1 h-1.2 M185.6,409.6 h-1.2 M185.6,411.1 h-1.2 M185.6,412.7 h-1.2 M185.6,414.2 h-1.2 M185.6,415.7 h-1.2 M185.6,417.3 h-1.2 M185.6,418.8 h-1.2 M185.6,420.3 h-1.2 M185.6,421.8 h-1.2 M185.6,423.4 h-1.2 M185.6,424.9 h-1.2 M185.6,426.4 h-1.2 M185.6,428.0 h-1.2 M185.6,429.5 h-1.2 M185.6,431.0 h-1.2 M185.6,432.6 h-1.2 M185.6,434.1 h-1.2 M185.6,435.6 h-1.2 M185.6,437.1 h-1.2 M185.6,438.7 h-1.2 M185.6,440.2 h-1.2" stroke="#333" stroke-width="0.4"/>
<path d="M65.8,520.8 v1.2 M67.3,520.8 v1.2 M68.8,520.8 v1.2 M70.3,520.8 v1.2 M71.8,520.8 v1.2 M73.4,520.8 v1.2 M74.9,520.8 v1.2 M76.4,520.8 v1.2 M77.9,520.8 v1.2 M79.4,520.8 v1.2 M80.9,520.8 v1.2 M82.4,520.8 v1.2 M83.9,520.8 v1.2 M85.5,520.8 v1.2 M87.0,520.8 v1.2 M88.5,520.8 v1.2 M90.0,520.8 v1.2 M91.5,520.8 v1.2 M93.0,520.8 v1.2 M94.5,520.8 v1.2 M96.0,520.8 v1.2 M97.5,520.8 v1.2 M99.1,520.8 v1.2 M100.6,520.8 v1.2 M102.1,520.8 v1.2 M103.6,520.8 v1.2 M105.1,520.8 v1.2 M106.6,520.8 v1.2 M108.1,520.8 v1.2 M109.6,520.8 v1.2 M111.2,520.8 v1.2 M112.7,520.8 v1.2 M114.2,520.8 v1.2 M115.7,520.8 v1.2 M117.2,520.8 v1.2 M118.7,520.8 v1.2 M120.2,520.8 v1.2 M121.7,520.8 v1.2 M123.2,520.8 v1.2 M124.8,520.8 v1.2 M126.3,520.8 v1.2 M127.8,520.8 v1.2 M129.3,520.8 v1.2 M130.8,520.8 v1.2 M132.3,520.8 v1.2 M133.8,520.8 v1.2 M135.3,520.8 v1.2 M136.9,520.8 v1.2 M138.4,520.8 v1.2 M139.9,520.8 v1.2 M141.4,520.8 v1.2 M142.9,520.8 v1.2 M144.4,520.8 v1.2 M145.9,520.8 v1.2 M147.4,520.8 v1.2 M148.9,520.8 v1.2 M150.5,520.8 v1.2 M152.0,520.8 v1.2 M153.5,520.8 v1.2 M155.0,520.8 v1.2 M156.5,520.8 v1.2 M158.0,520.8 v1.2 M159.5,520.8 v1.2 M161.0,520.8 v1.2 M162.6,520.8 v1.2 M164.1,520.8 v1.2 M165.6,520.8 v1.2 M167.1,520.8 v1.2 M168.6,520.8 v1.2" stroke="#333" stroke-width="0.4"/>
<path d="M65.8,452.8 h-1.2 M65.8,454.3 h-1.2 M65.8,455.8 h-1.2 M65.8,457.3 h-1.2 M65.8,458.8 h-1.2 M65.8,460.4 h-1.2 M65.8,461.9 h-1.2 M65.8,463.4 h-1.2 M65.8,464.9 h-1.2 M65.8,466.4 h-1.2 M65.8,467.9 h-1.2 M65.8,469.4 h-1.2 M65.8,470.9 h-1.2 M65.8,472.4 h-1.2 M65.8,474.0 h-1.2 M65.8,475.5 h-1.2 M65.8,477.0 h-1.2 M65.8,478.5 h-1.2 M65.8,480.0 h-1.2 M65.8,481.5 h-1.2 M65.8,483.0 h-1.2 M65.8,484.5 h-1.2 M65.8,486.0 h-1.2 M65.8,487.6 h-1.2 M65.8,489.1 h-1.2 M65.8,490.6 h-1.2 M65.8,492.1 h-1.2 M65.8,493.6 h-1.2 M65.8,495.1 h-1.2 M65.8,496.6 h-1.2 M65.8,498.1 h-1.2 M65.8,499.6 h-1.2 M65.8,501.2 h-1.2 M65.8,502.7 h-1.2 M65.8,504.2 h-1.2 M65.8,505.7 h-1.2 M65.8,507.2 h-1.2 M65.8,508.7 h-1.2 M65.8,510.2 h-1.2 M65.8,511.7 h-1.2 M65.8,513.2 h-1.2 M65.8,514.8 h-1.2 M65.8,516.3 h-1.2 M65.8,517.8 h-1.2 M65.8,519.3 h-1.2 M65.8,520.8 h-1.2" stroke="#333" stroke-width="0.4"/>
<path d="M185.6,520.8 v1.2 M187.1,520.8 v1.2 M188.6,520.8 v1.2 M190.1,520.8 v1.2 M191.6,520.8 v1.2 M193.1,520.8 v1.2 M194.6,520.8 v1.2 M196.1,520.8 v1.2 M197.6,520.8 v1.2 M199.2,520.8 v1.2 M200.7,520.8 v1.2 M202.2,520.8 v1.2 M203.7,520.8 v1.2 M205.2,520.8 v1.2 M206.7,520.8 v1.2 M208.2,520.8 v1.2 M209.7,520.8 v1.2 M211.2,520.8 v1.2 M212.7,520.8 v1.2 M214.2,520.8 v1.2 M215.7,520.8 v1.2 M217.2,520.8 v1.2 M218.7,520.8 v1.2 M220.2,520.8 v1.2 M221.7,520.8 v1.2 M223.2,520.8 v1.2 M224.8,520.8 v1.2 M226.3,520.8 v1.2 M227.8,520.8 v1.2 M229.3,520.8 v1.2 M230.8,520.8 v1.2 M232.3,520.8 v1.2 M233.8,520.8 v1.2 M235.3,520.8 v1.2 M236.8,520.8 v1.2 M238.3,520.8 v1.2 M239.8,520.8 v1.2 M241.3,520.8 v1.2 M242.8,520.8 v1.2 M244.3,520.8 v1.2 M245.8,520.8 v1.2 M247.3,520.8 v1.2 M248.9,520.8 v1.2 M250.4,520.8 v1.2 M251.9,520.8 v1.2 M253.4,520.8 v1.2 M254.9,520.8 v1.2 M256.4,520.8 v1.2 M257.9,520.8 v1.2 M259.4,520.8 v1.2 M260.9,520.8 v1.2 M262.4,520.8 v1.2 M263.9,520.8 v1.2 M265.4,520.8 v1.2 M266.9,520.8 v1.2 M268.4,520.8 v1.2 M269.9,520.8 v1.2 M271.4,520.8 v1.2 M272.9,520.8 v1.2 M274.5,520.8 v1.2 M276.0,520.8 v1.2 M277.5,520.8 v1.2 M279.0,520.8 v1.2 M280.5,520.8 v1.2 M282.0,520.8 v1.2 M283.5,520.8 v1.2 M285.0,520.8 v1.2 M286.5,520.8 v1.2" stroke="#333" stroke-width="0.4"/>
<path d="M185.6,454.8 h-1.2 M185.6,456.3 h-1.2 M185.6,457.8 h-1.2 M185.6,459.3 h-1.2 M185.6,460.8 h-1.2 M185.6,462.3 h-1.2 M185.6,463.8 h-1.2 M185.6,465.3 h-1.2 M185.6,466.8 h-1.2 M185.6,468.3 h-1.2 M185.6,469.8 h-1.2 M185.6,471.3 h-1.2 M185.6,472.8 h-1.2 M185.6,474.3 h-1.2 M185.6,475.8 h-1.2 M185.6,477.3 h-1.2 M185.6,478.8 h-1.2 M185.6,480.3 h-1.2 M185.6,481.8 h-1.2 M185.6,483.3 h-1.2 M185.6,484.8 h-1.2 M185.6,486.3 h-1.2 M185.6,487.8 h-1.2 M185.6,489.3 h-1.2 M185.6,490.8 h-1.2 M185.6,492.3 h-1.2 M185.6,493.8 h-1.2 M185.6,495.3 h-1.2 M185.6,496.8 h-1.2 M185.6,498.3 h-1.2 M185.6,499.8 h-1.2 M185.6,501.3 h-1.2 M185.6,502.8 h-1.2 M185.6,504.3 h-1.2 M185.6,505.8 h-1.2 M185.6,507.3 h-1.2 M185.6,508.8 h-1.2 M185.6,510.3 h-1.2 M185.6,511.8 h-1.2 M185.6,513.3 h-1.2 M185.6,514.8 h-1.2 M185.6,516.3 h-1.2 M185.6,517.8 h-1.2 M185.6,519.3 h-1.2 M185.6,520.8 h-1.2" stroke="#333" stroke-width="0.4"/>
<text x="53.1" y="373.3" font-size="5.6" text-anchor="start" fill="#231f20" stroke="#231f20" stroke-width="0.16">x10<tspan dy="-2.2" font-size="3.6">4</tspan></text>
<text x="171" y="373.3" font-size="5.6" text-anchor="start" fill="#231f20" stroke="#231f20" stroke-width="0.16">x10<tspan dy="-2.2" font-size="3.6">4</tspan></text>
<text x="52.5" y="454.5" font-size="5.6" text-anchor="start" fill="#231f20" stroke="#231f20" stroke-width="0.16">x10<tspan dy="-2.2" font-size="3.6">5</tspan></text>
<text x="171.5" y="454.5" font-size="5.6" text-anchor="start" fill="#231f20" stroke="#231f20" stroke-width="0.16">x10<tspan dy="-2.2" font-size="3.6">4</tspan></text>
<text x="62.8" y="385.8" font-size="6.2" text-anchor="end" fill="#231f20" stroke="#231f20" stroke-width="0.16">4</text>
<text x="62.8" y="442.5" font-size="6.2" text-anchor="end" fill="#231f20" stroke="#231f20" stroke-width="0.16">0</text>
<text x="182.5" y="380" font-size="6.2" text-anchor="end" fill="#231f20" stroke="#231f20" stroke-width="0.16">3</text>
<text x="182.5" y="442.5" font-size="6.2" text-anchor="end" fill="#231f20" stroke="#231f20" stroke-width="0.16">0</text>
<text x="62.8" y="465" font-size="6.2" text-anchor="end" fill="#231f20" stroke="#231f20" stroke-width="0.16">2.5</text>
<text x="62.8" y="522.5" font-size="6.2" text-anchor="end" fill="#231f20" stroke="#231f20" stroke-width="0.16">0</text>
<text x="182.5" y="468" font-size="6.2" text-anchor="end" fill="#231f20" stroke="#231f20" stroke-width="0.16">2</text>
<text x="182.5" y="513.8" font-size="6.2" text-anchor="end" fill="#231f20" stroke="#231f20" stroke-width="0.16">0</text>
<text x="79.5" y="447.8" font-size="6.2" text-anchor="middle" fill="#231f20" stroke="#231f20" stroke-width="0.16">4</text>
<text x="147.7" y="447.8" font-size="6.2" text-anchor="middle" fill="#231f20" stroke="#231f20" stroke-width="0.16">7</text>
<text x="198.2" y="447.8" font-size="6.2" text-anchor="middle" fill="#231f20" stroke="#231f20" stroke-width="0.16">4</text>
<text x="266.4" y="447.8" font-size="6.2" text-anchor="middle" fill="#231f20" stroke="#231f20" stroke-width="0.16">7</text>
<text x="75.2" y="529.8" font-size="6.2" text-anchor="middle" fill="#231f20" stroke="#231f20" stroke-width="0.16">4</text>
<text x="157.8" y="529.8" font-size="6.2" text-anchor="middle" fill="#231f20" stroke="#231f20" stroke-width="0.16">8</text>
<text x="193.5" y="529.8" font-size="6.2" text-anchor="middle" fill="#231f20" stroke="#231f20" stroke-width="0.16">4</text>
<text x="279.8" y="529.8" font-size="6.2" text-anchor="middle" fill="#231f20" stroke="#231f20" stroke-width="0.16">8</text>
<text x="142.5" y="546.2" font-size="8.2" text-anchor="start" fill="#231f20" stroke="#231f20" stroke-width="0.16" textLength="67.3" lengthAdjust="spacingAndGlyphs">Acquisition time (min)</text>
<line x1="49.5" y1="378" x2="49.5" y2="535.8" stroke="#231f20" stroke-width="1.0"/>
<path d="M47.7,379.5 L49.5,373.3 L51.3,379.5 Z" stroke="none" fill="#000" stroke-width="0.95"/>
<line x1="65.6" y1="535.5" x2="282" y2="535.5" stroke="#231f20" stroke-width="1.0"/>
<path d="M281,534 L287.5,535.8 L281,537.6 Z" stroke="none" fill="#000" stroke-width="0.95"/>
<text x="44.5" y="476.9" font-size="8.2" text-anchor="start" fill="#231f20" stroke="#231f20" stroke-width="0.16" transform="rotate(-90 44.5 476.9)" textLength="45.4" lengthAdjust="spacingAndGlyphs">Signal (counts)</text>
<text x="23.3" y="427.5" font-size="7.2" text-anchor="start" fill="#231f20" stroke="#231f20" stroke-width="0.16" transform="rotate(-90 23.3 427.5)" textLength="41.4" lengthAdjust="spacingAndGlyphs">Acetylation of</text>
<text x="30.8" y="436.7" font-size="7.2" text-anchor="start" fill="#231f20" stroke="#231f20" stroke-width="0.16" transform="rotate(-90 30.8 436.7)" textLength="58.7" lengthAdjust="spacingAndGlyphs">SQAASILTK peptide</text>
<text x="23.6" y="515.6" font-size="7.2" text-anchor="start" fill="#231f20" stroke="#231f20" stroke-width="0.16" transform="rotate(-90 23.6 515.6)" textLength="55.4" lengthAdjust="spacingAndGlyphs">Phosphorylation of</text>
<text x="31.4" y="519.5" font-size="7.2" text-anchor="start" fill="#231f20" stroke="#231f20" stroke-width="0.16" transform="rotate(-90 31.4 519.5)" textLength="63.2" lengthAdjust="spacingAndGlyphs">GPAASTQEK peptide</text>
<text x="302.3" y="419" font-size="12.5" text-anchor="start" fill="#000" font-weight="bold">K</text>
<line x1="347.5" y1="430.3" x2="347.5" y2="513.1" stroke="#231f20" stroke-width="1.0"/>
<line x1="344.0" y1="432.5" x2="347.5" y2="432.5" stroke="#231f20" stroke-width="0.9"/>
<text x="340.4" y="434.8216" font-size="6.4" text-anchor="end" fill="#231f20" stroke="#231f20" stroke-width="0.16">8</text>
<line x1="344.0" y1="452.5" x2="347.5" y2="452.5" stroke="#231f20" stroke-width="0.9"/>
<text x="340.4" y="454.9416" font-size="6.4" text-anchor="end" fill="#231f20" stroke="#231f20" stroke-width="0.16">6</text>
<line x1="344.0" y1="472.5" x2="347.5" y2="472.5" stroke="#231f20" stroke-width="0.9"/>
<text x="340.4" y="475.0616" font-size="6.4" text-anchor="end" fill="#231f20" stroke="#231f20" stroke-width="0.16">4</text>
<line x1="344.0" y1="492.5" x2="347.5" y2="492.5" stroke="#231f20" stroke-width="0.9"/>
<text x="340.4" y="495.1816" font-size="6.4" text-anchor="end" fill="#231f20" stroke="#231f20" stroke-width="0.16">2</text>
<line x1="344.0" y1="513.5" x2="347.5" y2="513.5" stroke="#231f20" stroke-width="0.9"/>
<text x="340.4" y="515.3016" font-size="6.4" text-anchor="end" fill="#231f20" stroke="#231f20" stroke-width="0.16">0</text>
<line x1="345.1" y1="513.5" x2="401.2" y2="513.5" stroke="#231f20" stroke-width="1.0"/>
<line x1="358.6" y1="513.1" x2="358.6" y2="515.5" stroke="#231f20" stroke-width="0.7"/>
<line x1="386.8" y1="513.1" x2="386.8" y2="515.5" stroke="#231f20" stroke-width="0.7"/>
<rect x="351.8" y="479.90200000000004" width="14" height="33.19799999999998" fill="#145189" stroke="#0a3a6a" stroke-width="0.4"/>
<line x1="358.5" y1="479.90200000000004" x2="358.5" y2="464.812" stroke="#000" stroke-width="0.95"/>
<line x1="355.3" y1="464.5" x2="362.3" y2="464.5" stroke="#000" stroke-width="0.95"/>
<rect x="379.7" y="451.73400000000004" width="14.1" height="61.365999999999985" fill="#c8102e" stroke="#a00a20" stroke-width="0.4"/>
<line x1="386.5" y1="451.73400000000004" x2="386.5" y2="450.728" stroke="#000" stroke-width="0.95"/>
<line x1="383.25" y1="450.5" x2="390.25" y2="450.5" stroke="#000" stroke-width="0.95"/>
<text x="321.8" y="511.5" font-size="8.4" text-anchor="start" fill="#231f20" stroke="#231f20" stroke-width="0.16" transform="rotate(-90 321.8 511.5)" textLength="79.7" lengthAdjust="spacingAndGlyphs">Acetylation levels of SMC2</text>
<text x="332.1" y="516.2" font-size="8.4" text-anchor="start" fill="#231f20" stroke="#231f20" stroke-width="0.16" transform="rotate(-90 332.1 516.2)" textLength="89.9" lengthAdjust="spacingAndGlyphs">(norm. to unmodified pepide)</text>
<text x="358.8" y="524.5" font-size="6.6" text-anchor="middle" fill="#231f20" stroke="#231f20" stroke-width="0.16">Non</text>
<text x="358.8" y="532.6" font-size="6.6" text-anchor="middle" fill="#231f20" stroke="#231f20" stroke-width="0.16">HyperD</text>
<text x="386.8" y="524.5" font-size="6.6" text-anchor="middle" fill="#231f20" stroke="#231f20" stroke-width="0.16">HyperD</text>
<text x="417" y="419" font-size="12.5" text-anchor="start" fill="#000" font-weight="bold">L</text>
<line x1="458.5" y1="430" x2="458.5" y2="513.1" stroke="#231f20" stroke-width="1.0"/>
<line x1="455.90000000000003" y1="432.5" x2="458.6" y2="432.5" stroke="#231f20" stroke-width="0.9"/>
<text x="452.1" y="434.8116" font-size="6.4" text-anchor="end" fill="#231f20" stroke="#231f20" stroke-width="0.16">3</text>
<line x1="455.90000000000003" y1="459.5" x2="458.6" y2="459.5" stroke="#231f20" stroke-width="0.9"/>
<text x="452.1" y="461.64160000000004" font-size="6.4" text-anchor="end" fill="#231f20" stroke="#231f20" stroke-width="0.16">2</text>
<line x1="455.90000000000003" y1="486.5" x2="458.6" y2="486.5" stroke="#231f20" stroke-width="0.9"/>
<text x="452.1" y="488.4716" font-size="6.4" text-anchor="end" fill="#231f20" stroke="#231f20" stroke-width="0.16">1</text>
<line x1="455.90000000000003" y1="513.5" x2="458.6" y2="513.5" stroke="#231f20" stroke-width="0.9"/>
<text x="452.1" y="515.3016" font-size="6.4" text-anchor="end" fill="#231f20" stroke="#231f20" stroke-width="0.16">0</text>
<line x1="456" y1="513.5" x2="512.6" y2="513.5" stroke="#231f20" stroke-width="1.0"/>
<line x1="470.2" y1="513.1" x2="470.2" y2="515.5" stroke="#231f20" stroke-width="0.7"/>
<line x1="498.1" y1="513.1" x2="498.1" y2="515.5" stroke="#231f20" stroke-width="0.7"/>
<rect x="463.2" y="475.538" width="14" height="37.56200000000001" fill="#145189" stroke="#0a3a6a" stroke-width="0.4"/>
<line x1="470.5" y1="475.538" x2="470.5" y2="470.172" stroke="#000" stroke-width="0.95"/>
<line x1="466.7" y1="470.5" x2="473.7" y2="470.5" stroke="#000" stroke-width="0.95"/>
<rect x="491" y="451.391" width="14.2" height="61.709" fill="#c8102e" stroke="#a00a20" stroke-width="0.4"/>
<line x1="498.5" y1="451.391" x2="498.5" y2="446.02500000000003" stroke="#000" stroke-width="0.95"/>
<line x1="494.6" y1="446.5" x2="501.6" y2="446.5" stroke="#000" stroke-width="0.95"/>
<text x="433" y="519.9" font-size="8.4" text-anchor="start" fill="#231f20" stroke="#231f20" stroke-width="0.16" transform="rotate(-90 433 519.9)" textLength="97.7" lengthAdjust="spacingAndGlyphs">Phosphorylation levels of CAPD2</text>
<text x="444" y="518.6" font-size="8.4" text-anchor="start" fill="#231f20" stroke="#231f20" stroke-width="0.16" transform="rotate(-90 444 518.6)" textLength="92.6" lengthAdjust="spacingAndGlyphs">(norm. to unmodified pepide)</text>
<text x="470.2" y="524.5" font-size="6.6" text-anchor="middle" fill="#231f20" stroke="#231f20" stroke-width="0.16">Non</text>
<text x="470.2" y="532.6" font-size="6.6" text-anchor="middle" fill="#231f20" stroke="#231f20" stroke-width="0.16">HyperD</text>
<text x="498.1" y="524.5" font-size="6.6" text-anchor="middle" fill="#231f20" stroke="#231f20" stroke-width="0.16">HyperD</text>
<text x="8.2" y="565.8" font-size="12.5" text-anchor="start" fill="#000" font-weight="bold">M</text>
<rect x="32.2" y="564.4" width="47.6" height="47.5" fill="#030503"/>
<rect x="32.2" y="621" width="47.6" height="47.6" fill="#030503"/>
<clipPath id="cM1"><rect x="32.2" y="564.4" width="47.6" height="47.5"/></clipPath>
<clipPath id="cM2"><rect x="32.2" y="621" width="47.6" height="47.6"/></clipPath>
<g clip-path="url(#cM1)">
<rect x="32.2" y="564.4" width="47.6" height="47.5" fill="#051a05"/>
<g filter="url(#bl1)">
<rect x="32.2" y="564.4" width="47.6" height="22" fill="#0a3a0c"/>
<path d="M58,563 Q78,562 82,570 L82,564 Z" fill="#20b040"/>
<path d="M35,578 Q38,570 48,567 M44,566 L48,580 M52,565 L55,578 M62,566 L60,578" stroke="#187a22" stroke-width="1.2" fill="none"/>
<path d="M36,596 Q34,585 46,578 Q58,571 70,572 Q79,576 79,588 Q78,600 68,606 Q55,611 45,607 Q37,603 36,596 Z" fill="#1ea838"/>
<path d="M42,594 Q44,585 54,580 Q64,576 72,578 Q76,584 73,592 Q66,600 54,603 Q44,603 42,594 Z" fill="#0e6a1e"/>
<path d="M37,597 Q40,587 51,584 Q61,580 69,575 Q78,571 79,579 Q79,588 71,593 Q61,599 50,603 Q39,607 37,597 Z" fill="#3428c0"/>
</g>
<circle cx="68.2" cy="581.6" r="0.9" fill="#e040b0"/>
<circle cx="49.2" cy="596.8" r="0.9" fill="#e040b0"/>
<circle cx="44.9" cy="596.5" r="0.9" fill="#e040b0"/>
<circle cx="60.0" cy="588.7" r="0.9" fill="#e040b0"/>
<circle cx="45.9" cy="597.1" r="0.9" fill="#e040b0"/>
<circle cx="58.0" cy="591.8" r="0.9" fill="#e040b0"/>
<circle cx="42.0" cy="602.1" r="0.9" fill="#e040b0"/>
<circle cx="46.9" cy="598.1" r="0.9" fill="#e040b0"/>
<circle cx="58.2" cy="591.5" r="0.9" fill="#e040b0"/>
<circle cx="47.2" cy="593.9" r="0.9" fill="#e040b0"/>
<circle cx="44.0" cy="599.5" r="0.9" fill="#e040b0"/>
<circle cx="59.2" cy="586.0" r="0.9" fill="#e040b0"/>
<circle cx="47.5" cy="591.8" r="0.9" fill="#e040b0"/>
<circle cx="47.8" cy="595.5" r="0.9" fill="#e040b0"/>
<circle cx="55.9" cy="591.9" r="0.9" fill="#e040b0"/>
<circle cx="43.6" cy="600.2" r="0.9" fill="#e040b0"/>
<circle cx="74.4" cy="581.3" r="0.9" fill="#e040b0"/>
<circle cx="66.3" cy="586.9" r="0.9" fill="#e040b0"/>
<circle cx="44.2" cy="596.8" r="0.9" fill="#e040b0"/>
<circle cx="43.7" cy="599.7" r="0.9" fill="#e040b0"/>
<circle cx="59.3" cy="585.1" r="0.9" fill="#e040b0"/>
<circle cx="56.1" cy="592.3" r="0.9" fill="#e040b0"/>
<path d="M40.5,582 L44,583.8 L41.6,587.2 Z" fill="#f0f020"/>
</g>
<g clip-path="url(#cM2)">
<g filter="url(#bl1)">
<rect x="66" y="621" width="14" height="2.5" fill="#3030b0"/>
<circle cx="76" cy="631" r="5" fill="#0a3a12"/>
<ellipse cx="56" cy="643.8" rx="17.5" ry="18.5" fill="#1a9a3a"/>
</g>
<g filter="url(#bl08)">
<circle cx="48" cy="629" r="4.6" fill="#3a30c0"/>
<circle cx="57" cy="628" r="4.6" fill="#3a30c0"/>
<circle cx="66" cy="632" r="4" fill="#3a30c0"/>
<circle cx="71" cy="641" r="4" fill="#3a30c0"/>
<circle cx="69" cy="651" r="4" fill="#3a30c0"/>
<circle cx="62" cy="658" r="4.6" fill="#3a30c0"/>
<circle cx="52" cy="659" r="4.6" fill="#3a30c0"/>
<circle cx="44" cy="654" r="4" fill="#3a30c0"/>
<circle cx="40" cy="645" r="4" fill="#3a30c0"/>
<circle cx="42" cy="636" r="4" fill="#3a30c0"/>
<circle cx="56" cy="636" r="3.8" fill="#3a30c0"/>
<circle cx="57" cy="644" r="4.4" fill="#3a30c0"/>
<circle cx="55" cy="652" r="4" fill="#3a30c0"/>
<ellipse cx="62.4" cy="652.1" rx="1.4" ry="0.6" transform="rotate(129 62.4 652.1)" fill="#30a0e8"/>
<ellipse cx="52.4" cy="656.9" rx="1.4" ry="0.6" transform="rotate(45 52.4 656.9)" fill="#30a0e8"/>
<ellipse cx="59.1" cy="631.8" rx="1.4" ry="0.6" transform="rotate(40 59.1 631.8)" fill="#30a0e8"/>
<ellipse cx="56.2" cy="641.1" rx="1.4" ry="0.6" transform="rotate(120 56.2 641.1)" fill="#30a0e8"/>
<ellipse cx="51.9" cy="641.4" rx="1.4" ry="0.6" transform="rotate(78 51.9 641.4)" fill="#30a0e8"/>
<ellipse cx="50.9" cy="641.8" rx="1.4" ry="0.6" transform="rotate(123 50.9 641.8)" fill="#30a0e8"/>
<ellipse cx="63.4" cy="648.2" rx="1.4" ry="0.6" transform="rotate(89 63.4 648.2)" fill="#30a0e8"/>
<ellipse cx="56.6" cy="639.4" rx="1.4" ry="0.6" transform="rotate(46 56.6 639.4)" fill="#30a0e8"/>
<ellipse cx="59.9" cy="637.5" rx="1.4" ry="0.6" transform="rotate(180 59.9 637.5)" fill="#30a0e8"/>
<ellipse cx="52.4" cy="654.2" rx="1.4" ry="0.6" transform="rotate(143 52.4 654.2)" fill="#30a0e8"/>
<ellipse cx="59.9" cy="630.8" rx="1.4" ry="0.6" transform="rotate(106 59.9 630.8)" fill="#30a0e8"/>
<ellipse cx="47.0" cy="651.8" rx="1.4" ry="0.6" transform="rotate(169 47.0 651.8)" fill="#30a0e8"/>
<ellipse cx="55.8" cy="652.7" rx="1.4" ry="0.6" transform="rotate(28 55.8 652.7)" fill="#30a0e8"/>
<ellipse cx="70.3" cy="640.5" rx="1.4" ry="0.6" transform="rotate(76 70.3 640.5)" fill="#30a0e8"/>
<ellipse cx="68.9" cy="647.6" rx="1.4" ry="0.6" transform="rotate(91 68.9 647.6)" fill="#30a0e8"/>
<ellipse cx="58.9" cy="646.6" rx="1.4" ry="0.6" transform="rotate(178 58.9 646.6)" fill="#30a0e8"/>
<ellipse cx="64.2" cy="640.9" rx="1.4" ry="0.6" transform="rotate(6 64.2 640.9)" fill="#30a0e8"/>
<ellipse cx="46.0" cy="650.8" rx="1.4" ry="0.6" transform="rotate(105 46.0 650.8)" fill="#30a0e8"/>
<ellipse cx="62.8" cy="639.1" rx="1.4" ry="0.6" transform="rotate(143 62.8 639.1)" fill="#30a0e8"/>
<ellipse cx="60.1" cy="632.2" rx="1.4" ry="0.6" transform="rotate(171 60.1 632.2)" fill="#30a0e8"/>
<ellipse cx="67.7" cy="651.6" rx="1.4" ry="0.6" transform="rotate(109 67.7 651.6)" fill="#30a0e8"/>
<ellipse cx="60.5" cy="642.4" rx="1.4" ry="0.6" transform="rotate(104 60.5 642.4)" fill="#30a0e8"/>
<ellipse cx="54.7" cy="633.2" rx="1.4" ry="0.6" transform="rotate(19 54.7 633.2)" fill="#30a0e8"/>
<ellipse cx="58.2" cy="640.3" rx="1.4" ry="0.6" transform="rotate(106 58.2 640.3)" fill="#30a0e8"/>
<ellipse cx="59.9" cy="635.2" rx="1.4" ry="0.6" transform="rotate(90 59.9 635.2)" fill="#30a0e8"/>
<ellipse cx="46.5" cy="635.7" rx="1.4" ry="0.6" transform="rotate(160 46.5 635.7)" fill="#30a0e8"/>
</g>
<circle cx="56.5" cy="642.7" r="0.7" fill="#e040a0"/>
<circle cx="64.4" cy="639.4" r="0.7" fill="#e040a0"/>
<circle cx="55.7" cy="649.4" r="0.7" fill="#e040a0"/>
<circle cx="57.9" cy="644.2" r="0.7" fill="#e040a0"/>
<circle cx="50.2" cy="635.6" r="0.7" fill="#e040a0"/>
<circle cx="59.4" cy="652.2" r="0.7" fill="#e040a0"/>
<circle cx="50.9" cy="648.7" r="0.7" fill="#e040a0"/>
<circle cx="57.5" cy="641.1" r="0.7" fill="#e040a0"/>
<circle cx="58.5" cy="648.7" r="0.7" fill="#e040a0"/>
<circle cx="61.2" cy="643.0" r="0.7" fill="#e040a0"/>
<path d="M61,628 L65.2,625.5 L65.6,629 Z" fill="#f0f020"/>
<rect x="49.8" y="664.8" width="28" height="1.8" fill="#fff"/>
</g>
<text x="27.9" y="605" font-size="6.4" text-anchor="start" fill="#231f20" stroke="#231f20" stroke-width="0.16" transform="rotate(-90 27.9 605)" textLength="34.7" lengthAdjust="spacingAndGlyphs">NonHyperD</text>
<text x="27.9" y="656.2" font-size="6.4" text-anchor="start" fill="#231f20" stroke="#231f20" stroke-width="0.16" transform="rotate(-90 27.9 656.2)" textLength="22.1" lengthAdjust="spacingAndGlyphs">HyperD</text>
<rect x="113.4" y="563.6" width="82.6" height="47.0" fill="none" stroke="#555" stroke-width="0.5"/>
<path d="M113.4,563.6 v1 M115.5,563.6 v1 M117.5,563.6 v1 M119.6,563.6 v1 M121.7,563.6 v1 M123.7,563.6 v1 M125.8,563.6 v1 M127.9,563.6 v1 M129.9,563.6 v1 M132.0,563.6 v1 M134.1,563.6 v1 M136.1,563.6 v1 M138.2,563.6 v1 M140.2,563.6 v1 M142.3,563.6 v1 M144.4,563.6 v1 M146.4,563.6 v1 M148.5,563.6 v1 M150.6,563.6 v1 M152.6,563.6 v1 M154.7,563.6 v1 M156.8,563.6 v1 M158.8,563.6 v1 M160.9,563.6 v1 M163.0,563.6 v1 M165.0,563.6 v1 M167.1,563.6 v1 M169.2,563.6 v1 M171.2,563.6 v1 M173.3,563.6 v1 M175.4,563.6 v1 M177.4,563.6 v1 M179.5,563.6 v1 M181.5,563.6 v1 M183.6,563.6 v1 M185.7,563.6 v1 M187.7,563.6 v1 M189.8,563.6 v1 M191.9,563.6 v1 M193.9,563.6 v1 M196.0,563.6 v1" stroke="#444" stroke-width="0.35"/>
<path d="M196,563.6 h-1 M196,565.5 h-1 M196,567.4 h-1 M196,569.2 h-1 M196,571.1 h-1 M196,573.0 h-1 M196,574.9 h-1 M196,576.8 h-1 M196,578.6 h-1 M196,580.5 h-1 M196,582.4 h-1 M196,584.3 h-1 M196,586.2 h-1 M196,588.0 h-1 M196,589.9 h-1 M196,591.8 h-1 M196,593.7 h-1 M196,595.6 h-1 M196,597.4 h-1 M196,599.3 h-1 M196,601.2 h-1 M196,603.1 h-1 M196,605.0 h-1 M196,606.8 h-1 M196,608.7 h-1 M196,610.6 h-1" stroke="#444" stroke-width="0.35"/>
<path d="M113.4,610.6 v-1 M115.5,610.6 v-1 M117.5,610.6 v-1 M119.6,610.6 v-1 M121.7,610.6 v-1 M123.7,610.6 v-1 M125.8,610.6 v-1 M127.9,610.6 v-1 M129.9,610.6 v-1 M132.0,610.6 v-1 M134.1,610.6 v-1 M136.1,610.6 v-1 M138.2,610.6 v-1 M140.2,610.6 v-1 M142.3,610.6 v-1 M144.4,610.6 v-1 M146.4,610.6 v-1 M148.5,610.6 v-1 M150.6,610.6 v-1 M152.6,610.6 v-1 M154.7,610.6 v-1 M156.8,610.6 v-1 M158.8,610.6 v-1 M160.9,610.6 v-1 M163.0,610.6 v-1 M165.0,610.6 v-1 M167.1,610.6 v-1 M169.2,610.6 v-1 M171.2,610.6 v-1 M173.3,610.6 v-1 M175.4,610.6 v-1 M177.4,610.6 v-1 M179.5,610.6 v-1 M181.5,610.6 v-1 M183.6,610.6 v-1 M185.7,610.6 v-1 M187.7,610.6 v-1 M189.8,610.6 v-1 M191.9,610.6 v-1 M193.9,610.6 v-1 M196.0,610.6 v-1" stroke="#444" stroke-width="0.35"/>
<line x1="113.5" y1="563.6" x2="113.5" y2="610.6" stroke="#231f20" stroke-width="0.95"/>
<line x1="113.4" y1="610.5" x2="196" y2="610.5" stroke="#231f20" stroke-width="0.95"/>
<line x1="111.6" y1="564.8000000000001" x2="113.4" y2="564.8000000000001" stroke="#231f20" stroke-width="0.6"/>
<text x="110.7" y="567.0000000000001" font-size="6.4" text-anchor="end" fill="#231f20" stroke="#231f20" stroke-width="0.16">250</text>
<line x1="111.6" y1="573.96" x2="113.4" y2="573.96" stroke="#231f20" stroke-width="0.6"/>
<text x="110.7" y="576.1600000000001" font-size="6.4" text-anchor="end" fill="#231f20" stroke="#231f20" stroke-width="0.16">200</text>
<line x1="111.6" y1="583.12" x2="113.4" y2="583.12" stroke="#231f20" stroke-width="0.6"/>
<text x="110.7" y="585.32" font-size="6.4" text-anchor="end" fill="#231f20" stroke="#231f20" stroke-width="0.16">150</text>
<line x1="111.6" y1="592.2800000000001" x2="113.4" y2="592.2800000000001" stroke="#231f20" stroke-width="0.6"/>
<text x="110.7" y="594.4800000000001" font-size="6.4" text-anchor="end" fill="#231f20" stroke="#231f20" stroke-width="0.16">100</text>
<line x1="111.6" y1="601.44" x2="113.4" y2="601.44" stroke="#231f20" stroke-width="0.6"/>
<text x="110.7" y="603.6400000000001" font-size="6.4" text-anchor="end" fill="#231f20" stroke="#231f20" stroke-width="0.16">50</text>
<line x1="111.6" y1="610.6" x2="113.4" y2="610.6" stroke="#231f20" stroke-width="0.6"/>
<text x="110.7" y="612.8000000000001" font-size="6.4" text-anchor="end" fill="#231f20" stroke="#231f20" stroke-width="0.16">0</text>
<clipPath id="cin566"><rect x="115.2" y="566" width="15.8" height="15.2"/></clipPath>
<g clip-path="url(#cin566)"><rect x="115.2" y="566" width="15.8" height="15.2" fill="#0c5a1a"/><g filter="url(#bl05)"><ellipse cx="123.10000000000001" cy="573.6" rx="4.74" ry="6.84" fill="#3a30c0"/><circle cx="118.36" cy="569.04" r="3" fill="#20a040"/></g>
<circle cx="123.89" cy="569.8" r="0.8" fill="#f050b0"/><circle cx="124.68" cy="577.4" r="0.8" fill="#f050b0"/><circle cx="128.63" cy="573.6" r="0.8" fill="#f050b0"/></g>
<rect x="113.4" y="621.7" width="82.6" height="46.799999999999955" fill="none" stroke="#555" stroke-width="0.5"/>
<path d="M113.4,621.7 v1 M115.5,621.7 v1 M117.5,621.7 v1 M119.6,621.7 v1 M121.7,621.7 v1 M123.7,621.7 v1 M125.8,621.7 v1 M127.9,621.7 v1 M129.9,621.7 v1 M132.0,621.7 v1 M134.1,621.7 v1 M136.1,621.7 v1 M138.2,621.7 v1 M140.2,621.7 v1 M142.3,621.7 v1 M144.4,621.7 v1 M146.4,621.7 v1 M148.5,621.7 v1 M150.6,621.7 v1 M152.6,621.7 v1 M154.7,621.7 v1 M156.8,621.7 v1 M158.8,621.7 v1 M160.9,621.7 v1 M163.0,621.7 v1 M165.0,621.7 v1 M167.1,621.7 v1 M169.2,621.7 v1 M171.2,621.7 v1 M173.3,621.7 v1 M175.4,621.7 v1 M177.4,621.7 v1 M179.5,621.7 v1 M181.5,621.7 v1 M183.6,621.7 v1 M185.7,621.7 v1 M187.7,621.7 v1 M189.8,621.7 v1 M191.9,621.7 v1 M193.9,621.7 v1 M196.0,621.7 v1" stroke="#444" stroke-width="0.35"/>
<path d="M196,621.7 h-1 M196,623.6 h-1 M196,625.4 h-1 M196,627.3 h-1 M196,629.2 h-1 M196,631.1 h-1 M196,632.9 h-1 M196,634.8 h-1 M196,636.7 h-1 M196,638.5 h-1 M196,640.4 h-1 M196,642.3 h-1 M196,644.2 h-1 M196,646.0 h-1 M196,647.9 h-1 M196,649.8 h-1 M196,651.7 h-1 M196,653.5 h-1 M196,655.4 h-1 M196,657.3 h-1 M196,659.1 h-1 M196,661.0 h-1 M196,662.9 h-1 M196,664.8 h-1 M196,666.6 h-1 M196,668.5 h-1" stroke="#444" stroke-width="0.35"/>
<path d="M113.4,668.5 v-1 M115.5,668.5 v-1 M117.5,668.5 v-1 M119.6,668.5 v-1 M121.7,668.5 v-1 M123.7,668.5 v-1 M125.8,668.5 v-1 M127.9,668.5 v-1 M129.9,668.5 v-1 M132.0,668.5 v-1 M134.1,668.5 v-1 M136.1,668.5 v-1 M138.2,668.5 v-1 M140.2,668.5 v-1 M142.3,668.5 v-1 M144.4,668.5 v-1 M146.4,668.5 v-1 M148.5,668.5 v-1 M150.6,668.5 v-1 M152.6,668.5 v-1 M154.7,668.5 v-1 M156.8,668.5 v-1 M158.8,668.5 v-1 M160.9,668.5 v-1 M163.0,668.5 v-1 M165.0,668.5 v-1 M167.1,668.5 v-1 M169.2,668.5 v-1 M171.2,668.5 v-1 M173.3,668.5 v-1 M175.4,668.5 v-1 M177.4,668.5 v-1 M179.5,668.5 v-1 M181.5,668.5 v-1 M183.6,668.5 v-1 M185.7,668.5 v-1 M187.7,668.5 v-1 M189.8,668.5 v-1 M191.9,668.5 v-1 M193.9,668.5 v-1 M196.0,668.5 v-1" stroke="#444" stroke-width="0.35"/>
<line x1="113.5" y1="621.7" x2="113.5" y2="668.5" stroke="#231f20" stroke-width="0.95"/>
<line x1="113.4" y1="668.5" x2="196" y2="668.5" stroke="#231f20" stroke-width="0.95"/>
<line x1="111.6" y1="622.9000000000001" x2="113.4" y2="622.9000000000001" stroke="#231f20" stroke-width="0.6"/>
<text x="110.7" y="625.1000000000001" font-size="6.4" text-anchor="end" fill="#231f20" stroke="#231f20" stroke-width="0.16">250</text>
<line x1="111.6" y1="632.0200000000001" x2="113.4" y2="632.0200000000001" stroke="#231f20" stroke-width="0.6"/>
<text x="110.7" y="634.2200000000001" font-size="6.4" text-anchor="end" fill="#231f20" stroke="#231f20" stroke-width="0.16">200</text>
<line x1="111.6" y1="641.1400000000001" x2="113.4" y2="641.1400000000001" stroke="#231f20" stroke-width="0.6"/>
<text x="110.7" y="643.3400000000001" font-size="6.4" text-anchor="end" fill="#231f20" stroke="#231f20" stroke-width="0.16">150</text>
<line x1="111.6" y1="650.26" x2="113.4" y2="650.26" stroke="#231f20" stroke-width="0.6"/>
<text x="110.7" y="652.46" font-size="6.4" text-anchor="end" fill="#231f20" stroke="#231f20" stroke-width="0.16">100</text>
<line x1="111.6" y1="659.38" x2="113.4" y2="659.38" stroke="#231f20" stroke-width="0.6"/>
<text x="110.7" y="661.58" font-size="6.4" text-anchor="end" fill="#231f20" stroke="#231f20" stroke-width="0.16">50</text>
<line x1="111.6" y1="668.5" x2="113.4" y2="668.5" stroke="#231f20" stroke-width="0.6"/>
<text x="110.7" y="670.7" font-size="6.4" text-anchor="end" fill="#231f20" stroke="#231f20" stroke-width="0.16">0</text>
<clipPath id="cin624"><rect x="116.2" y="624.1" width="14.8" height="14.7"/></clipPath>
<g clip-path="url(#cin624)"><rect x="116.2" y="624.1" width="14.8" height="14.7" fill="#1e1e90"/><g filter="url(#bl05)"><path d="M116.2,634.39 Q123.60000000000001,629.98 131.0,631.45" stroke="#3080e0" stroke-width="2.2" fill="none"/><rect x="116.2" y="632.9200000000001" width="3.7" height="5.88" fill="#20a040"/></g>
<circle cx="125.08" cy="628.51" r="0.8" fill="#f050b0"/><circle cx="121.38" cy="632.1850000000001" r="0.8" fill="#f050b0"/></g>
<polyline points="114.2,607.5 118.2,607.5 123.3,603.4 127.3,600.4 131.3,596.3 135.4,594.3 139.4,592.3 143.5,589.9 147.5,588.3 152.6,587.3 155.6,588.3 159.6,590.3 163.6,590.0 167.7,593.3 171.7,595.3 175.8,596.3 179.8,599.4 183.9,604.4 187.9,606.9 196.0,607.9" stroke="#7a7ad8" fill="none" stroke-width="0.6" stroke-linejoin="round"/>
<polyline points="114.2,608.5 121.3,608.1 127.3,606.0 131.3,601.4 134.4,590.3 137.0,587.3 139.8,592.3 142.5,601.4 146.5,606.9 152.6,608.5 157.6,607.5 161.6,603.4 165.7,592.3 169.3,585.2 172.7,592.3 175.8,602.4 179.8,606.9 187.9,608.5 196.0,607.5" stroke="#f06060" fill="none" stroke-width="0.6" stroke-linejoin="round"/>
<polyline points="114.2,659.0 117.2,655.4 121.3,652.4 127.3,648.3 133.4,644.3 139.4,641.3 145.5,640.2 151.5,639.6 159.6,640.4 167.7,640.8 175.8,641.3 183.9,642.3 189.9,645.3 196.0,647.3" stroke="#7a7ad8" fill="none" stroke-width="0.6" stroke-linejoin="round"/>
<polyline points="114.2,668.5 119.2,665.1 123.3,656.4 127.3,651.0 130.3,654.4 133.4,661.4 136.4,668.5 164.7,668.5 168.7,663.5 171.7,657.4 175.8,651.3 180.8,646.9 184.9,650.3 187.9,657.4 190.9,663.5 193.0,668.5" stroke="#f06060" fill="none" stroke-width="0.6" stroke-linejoin="round"/>
<line x1="113.4" y1="610.5" x2="196" y2="610.5" stroke="#231f20" stroke-width="0.95"/>
<line x1="113.4" y1="668.5" x2="196" y2="668.5" stroke="#231f20" stroke-width="0.95"/>
<line x1="114.2" y1="668.5" x2="114.2" y2="670.3" stroke="#231f20" stroke-width="0.6"/>
<text x="114.2" y="676.6" font-size="6.4" text-anchor="middle" fill="#231f20" stroke="#231f20" stroke-width="0.16">0</text>
<line x1="129.26" y1="668.5" x2="129.26" y2="670.3" stroke="#231f20" stroke-width="0.6"/>
<text x="129.26" y="676.6" font-size="6.4" text-anchor="middle" fill="#231f20" stroke="#231f20" stroke-width="0.16">10</text>
<line x1="144.32" y1="668.5" x2="144.32" y2="670.3" stroke="#231f20" stroke-width="0.6"/>
<text x="144.32" y="676.6" font-size="6.4" text-anchor="middle" fill="#231f20" stroke="#231f20" stroke-width="0.16">20</text>
<line x1="159.38" y1="668.5" x2="159.38" y2="670.3" stroke="#231f20" stroke-width="0.6"/>
<text x="159.38" y="676.6" font-size="6.4" text-anchor="middle" fill="#231f20" stroke="#231f20" stroke-width="0.16">30</text>
<line x1="174.44" y1="668.5" x2="174.44" y2="670.3" stroke="#231f20" stroke-width="0.6"/>
<text x="174.44" y="676.6" font-size="6.4" text-anchor="middle" fill="#231f20" stroke="#231f20" stroke-width="0.16">40</text>
<line x1="189.5" y1="668.5" x2="189.5" y2="670.3" stroke="#231f20" stroke-width="0.6"/>
<text x="189.5" y="676.6" font-size="6.4" text-anchor="middle" fill="#231f20" stroke="#231f20" stroke-width="0.16">50</text>
<text x="133.3" y="687.7" font-size="9" text-anchor="start" fill="#231f20" stroke="#231f20" stroke-width="0.16" textLength="43.9" lengthAdjust="spacingAndGlyphs">Distance (µM)</text>
<text x="95.3" y="641.8" font-size="8.4" text-anchor="start" fill="#231f20" stroke="#231f20" stroke-width="0.16" transform="rotate(-90 95.3 641.8)" textLength="49.3" lengthAdjust="spacingAndGlyphs">Intensity (A.F.U.)</text>
<text x="216.4" y="565.6" font-size="12.5" text-anchor="start" fill="#000" font-weight="bold">N</text>
<text x="265.9" y="566.8" font-size="6.4" text-anchor="start" fill="#231f20" stroke="#231f20" stroke-width="0.16" textLength="26.9" lengthAdjust="spacingAndGlyphs">+ MG132</text>
<line x1="251.5" y1="572.2" x2="251.5" y2="657.6" stroke="#231f20" stroke-width="1.0"/>
<line x1="248.7" y1="574.5" x2="251.2" y2="574.5" stroke="#231f20" stroke-width="0.9"/>
<text x="245.5" y="577.0016" font-size="6.4" text-anchor="end" fill="#231f20" stroke="#231f20" stroke-width="0.16">4</text>
<line x1="248.7" y1="595.5" x2="251.2" y2="595.5" stroke="#231f20" stroke-width="0.9"/>
<text x="245.5" y="597.7016" font-size="6.4" text-anchor="end" fill="#231f20" stroke="#231f20" stroke-width="0.16">3</text>
<line x1="248.7" y1="616.5" x2="251.2" y2="616.5" stroke="#231f20" stroke-width="0.9"/>
<text x="245.5" y="618.4016" font-size="6.4" text-anchor="end" fill="#231f20" stroke="#231f20" stroke-width="0.16">2</text>
<line x1="248.7" y1="636.5" x2="251.2" y2="636.5" stroke="#231f20" stroke-width="0.9"/>
<text x="245.5" y="639.1016" font-size="6.4" text-anchor="end" fill="#231f20" stroke="#231f20" stroke-width="0.16">1</text>
<line x1="248.7" y1="657.5" x2="251.2" y2="657.5" stroke="#231f20" stroke-width="0.9"/>
<text x="245.5" y="659.8016" font-size="6.4" text-anchor="end" fill="#231f20" stroke="#231f20" stroke-width="0.16">0</text>
<line x1="251.2" y1="657.5" x2="306.2" y2="657.5" stroke="#231f20" stroke-width="1.0"/>
<line x1="265.2" y1="657.6" x2="265.2" y2="660" stroke="#231f20" stroke-width="0.7"/>
<line x1="292.8" y1="657.6" x2="292.8" y2="660" stroke="#231f20" stroke-width="0.7"/>
<rect x="255.4" y="630.69" width="19.1" height="26.909999999999968" fill="#7b9fc4"/>
<rect x="283.7" y="622.6170000000001" width="18.8" height="34.98299999999995" fill="#e5899a"/>
<circle cx="256.1" cy="624.5" r="0.72" fill="#1e5f9a"/>
<circle cx="257.4" cy="624.5" r="0.72" fill="#1e5f9a"/>
<circle cx="258.7" cy="624.5" r="0.72" fill="#1e5f9a"/>
<circle cx="260.0" cy="624.5" r="0.72" fill="#1e5f9a"/>
<circle cx="261.3" cy="624.5" r="0.72" fill="#1e5f9a"/>
<circle cx="262.6" cy="624.5" r="0.72" fill="#1e5f9a"/>
<circle cx="265.2" cy="624.5" r="0.72" fill="#1e5f9a"/>
<circle cx="267.8" cy="624.5" r="0.72" fill="#1e5f9a"/>
<circle cx="269.1" cy="624.5" r="0.72" fill="#1e5f9a"/>
<circle cx="270.4" cy="624.5" r="0.72" fill="#1e5f9a"/>
<circle cx="271.7" cy="624.5" r="0.72" fill="#1e5f9a"/>
<circle cx="273.0" cy="624.5" r="0.72" fill="#1e5f9a"/>
<circle cx="258.1" cy="626.5" r="0.72" fill="#1e5f9a"/>
<circle cx="260.6" cy="626.5" r="0.72" fill="#1e5f9a"/>
<circle cx="261.9" cy="626.5" r="0.72" fill="#1e5f9a"/>
<circle cx="263.2" cy="626.5" r="0.72" fill="#1e5f9a"/>
<circle cx="264.6" cy="626.5" r="0.72" fill="#1e5f9a"/>
<circle cx="265.9" cy="626.5" r="0.72" fill="#1e5f9a"/>
<circle cx="267.1" cy="626.5" r="0.72" fill="#1e5f9a"/>
<circle cx="268.4" cy="626.5" r="0.72" fill="#1e5f9a"/>
<circle cx="269.8" cy="626.5" r="0.72" fill="#1e5f9a"/>
<circle cx="271.1" cy="626.5" r="0.72" fill="#1e5f9a"/>
<circle cx="273.6" cy="626.5" r="0.72" fill="#1e5f9a"/>
<circle cx="256.1" cy="628.5" r="0.72" fill="#1e5f9a"/>
<circle cx="257.4" cy="628.5" r="0.72" fill="#1e5f9a"/>
<circle cx="258.7" cy="628.5" r="0.72" fill="#1e5f9a"/>
<circle cx="260.0" cy="628.5" r="0.72" fill="#1e5f9a"/>
<circle cx="261.3" cy="628.5" r="0.72" fill="#1e5f9a"/>
<circle cx="262.6" cy="628.5" r="0.72" fill="#1e5f9a"/>
<circle cx="265.2" cy="628.5" r="0.72" fill="#1e5f9a"/>
<circle cx="266.5" cy="628.5" r="0.72" fill="#1e5f9a"/>
<circle cx="267.8" cy="628.5" r="0.72" fill="#1e5f9a"/>
<circle cx="269.1" cy="628.5" r="0.72" fill="#1e5f9a"/>
<circle cx="270.4" cy="628.5" r="0.72" fill="#1e5f9a"/>
<circle cx="273.0" cy="628.5" r="0.72" fill="#1e5f9a"/>
<circle cx="256.8" cy="630.5" r="0.72" fill="#1e5f9a"/>
<circle cx="258.1" cy="630.5" r="0.72" fill="#1e5f9a"/>
<circle cx="259.4" cy="630.5" r="0.72" fill="#1e5f9a"/>
<circle cx="260.6" cy="630.5" r="0.72" fill="#1e5f9a"/>
<circle cx="263.2" cy="630.5" r="0.72" fill="#1e5f9a"/>
<circle cx="264.6" cy="630.5" r="0.72" fill="#1e5f9a"/>
<circle cx="265.9" cy="630.5" r="0.72" fill="#1e5f9a"/>
<circle cx="267.1" cy="630.5" r="0.72" fill="#1e5f9a"/>
<circle cx="268.4" cy="630.5" r="0.72" fill="#1e5f9a"/>
<circle cx="269.8" cy="630.5" r="0.72" fill="#1e5f9a"/>
<circle cx="271.1" cy="630.5" r="0.72" fill="#1e5f9a"/>
<circle cx="272.4" cy="630.5" r="0.72" fill="#1e5f9a"/>
<circle cx="273.6" cy="630.5" r="0.72" fill="#1e5f9a"/>
<circle cx="257.4" cy="632.5" r="0.72" fill="#1e5f9a"/>
<circle cx="258.7" cy="632.5" r="0.72" fill="#1e5f9a"/>
<circle cx="262.6" cy="632.5" r="0.72" fill="#1e5f9a"/>
<circle cx="263.9" cy="632.5" r="0.72" fill="#1e5f9a"/>
<circle cx="265.2" cy="632.5" r="0.72" fill="#1e5f9a"/>
<circle cx="266.5" cy="632.5" r="0.72" fill="#1e5f9a"/>
<circle cx="269.1" cy="632.5" r="0.72" fill="#1e5f9a"/>
<circle cx="270.4" cy="632.5" r="0.72" fill="#1e5f9a"/>
<circle cx="271.7" cy="632.5" r="0.72" fill="#1e5f9a"/>
<circle cx="273.0" cy="632.5" r="0.72" fill="#1e5f9a"/>
<circle cx="256.8" cy="634.5" r="0.72" fill="#1e5f9a"/>
<circle cx="258.1" cy="634.5" r="0.72" fill="#1e5f9a"/>
<circle cx="259.4" cy="634.5" r="0.72" fill="#1e5f9a"/>
<circle cx="260.6" cy="634.5" r="0.72" fill="#1e5f9a"/>
<circle cx="261.9" cy="634.5" r="0.72" fill="#1e5f9a"/>
<circle cx="263.2" cy="634.5" r="0.72" fill="#1e5f9a"/>
<circle cx="264.6" cy="634.5" r="0.72" fill="#1e5f9a"/>
<circle cx="265.9" cy="634.5" r="0.72" fill="#1e5f9a"/>
<circle cx="267.1" cy="634.5" r="0.72" fill="#1e5f9a"/>
<circle cx="269.8" cy="634.5" r="0.72" fill="#1e5f9a"/>
<circle cx="271.1" cy="634.5" r="0.72" fill="#1e5f9a"/>
<circle cx="272.4" cy="634.5" r="0.72" fill="#1e5f9a"/>
<circle cx="273.6" cy="634.5" r="0.72" fill="#1e5f9a"/>
<circle cx="257.4" cy="636.5" r="0.72" fill="#1e5f9a"/>
<circle cx="258.7" cy="636.5" r="0.72" fill="#1e5f9a"/>
<circle cx="260.0" cy="636.5" r="0.72" fill="#1e5f9a"/>
<circle cx="261.3" cy="636.5" r="0.72" fill="#1e5f9a"/>
<circle cx="262.6" cy="636.5" r="0.72" fill="#1e5f9a"/>
<circle cx="263.9" cy="636.5" r="0.72" fill="#1e5f9a"/>
<circle cx="265.2" cy="636.5" r="0.72" fill="#1e5f9a"/>
<circle cx="266.5" cy="636.5" r="0.72" fill="#1e5f9a"/>
<circle cx="267.8" cy="636.5" r="0.72" fill="#1e5f9a"/>
<circle cx="269.1" cy="636.5" r="0.72" fill="#1e5f9a"/>
<circle cx="271.7" cy="636.5" r="0.72" fill="#1e5f9a"/>
<circle cx="273.0" cy="636.5" r="0.72" fill="#1e5f9a"/>
<circle cx="268.2" cy="622.4" r="0.72" fill="#1e5f9a"/>
<circle cx="265.0" cy="622.9" r="0.72" fill="#1e5f9a"/>
<circle cx="262.5" cy="620.7" r="0.72" fill="#1e5f9a"/>
<circle cx="267.3" cy="622.3" r="0.72" fill="#1e5f9a"/>
<circle cx="264.6" cy="622.2" r="0.72" fill="#1e5f9a"/>
<circle cx="269.9" cy="624.4" r="0.72" fill="#1e5f9a"/>
<circle cx="269.7" cy="623.8" r="0.72" fill="#1e5f9a"/>
<circle cx="267.9" cy="620.3" r="0.72" fill="#1e5f9a"/>
<circle cx="270.7" cy="623.4" r="0.72" fill="#1e5f9a"/>
<circle cx="262.0" cy="623.4" r="0.72" fill="#1e5f9a"/>
<circle cx="267.3" cy="622.8" r="0.72" fill="#1e5f9a"/>
<circle cx="265.7" cy="622.4" r="0.72" fill="#1e5f9a"/>
<circle cx="268.9" cy="623.4" r="0.72" fill="#1e5f9a"/>
<circle cx="266.7" cy="623.6" r="0.72" fill="#1e5f9a"/>
<circle cx="258.3" cy="637.7" r="0.72" fill="#1e5f9a"/>
<circle cx="261.3" cy="640.6" r="0.72" fill="#1e5f9a"/>
<circle cx="257.7" cy="638.8" r="0.72" fill="#1e5f9a"/>
<circle cx="262.6" cy="640.1" r="0.72" fill="#1e5f9a"/>
<circle cx="260.9" cy="637.8" r="0.72" fill="#1e5f9a"/>
<circle cx="268.0" cy="641.1" r="0.72" fill="#1e5f9a"/>
<circle cx="264.9" cy="619.7" r="0.72" fill="#1e5f9a"/><circle cx="264.9" cy="642.3" r="0.72" fill="#1e5f9a"/>
<circle cx="285.7" cy="618.5" r="0.72" fill="#c8102e"/>
<circle cx="287.0" cy="618.5" r="0.72" fill="#c8102e"/>
<circle cx="288.3" cy="618.5" r="0.72" fill="#c8102e"/>
<circle cx="290.9" cy="618.5" r="0.72" fill="#c8102e"/>
<circle cx="292.2" cy="618.5" r="0.72" fill="#c8102e"/>
<circle cx="293.5" cy="618.5" r="0.72" fill="#c8102e"/>
<circle cx="296.1" cy="618.5" r="0.72" fill="#c8102e"/>
<circle cx="297.4" cy="618.5" r="0.72" fill="#c8102e"/>
<circle cx="298.7" cy="618.5" r="0.72" fill="#c8102e"/>
<circle cx="300.0" cy="618.5" r="0.72" fill="#c8102e"/>
<circle cx="285.0" cy="620.5" r="0.72" fill="#c8102e"/>
<circle cx="286.3" cy="620.5" r="0.72" fill="#c8102e"/>
<circle cx="287.6" cy="620.5" r="0.72" fill="#c8102e"/>
<circle cx="288.9" cy="620.5" r="0.72" fill="#c8102e"/>
<circle cx="290.2" cy="620.5" r="0.72" fill="#c8102e"/>
<circle cx="291.5" cy="620.5" r="0.72" fill="#c8102e"/>
<circle cx="292.8" cy="620.5" r="0.72" fill="#c8102e"/>
<circle cx="294.1" cy="620.5" r="0.72" fill="#c8102e"/>
<circle cx="295.4" cy="620.5" r="0.72" fill="#c8102e"/>
<circle cx="296.7" cy="620.5" r="0.72" fill="#c8102e"/>
<circle cx="298.0" cy="620.5" r="0.72" fill="#c8102e"/>
<circle cx="299.3" cy="620.5" r="0.72" fill="#c8102e"/>
<circle cx="284.4" cy="622.5" r="0.72" fill="#c8102e"/>
<circle cx="285.7" cy="622.5" r="0.72" fill="#c8102e"/>
<circle cx="287.0" cy="622.5" r="0.72" fill="#c8102e"/>
<circle cx="288.3" cy="622.5" r="0.72" fill="#c8102e"/>
<circle cx="289.6" cy="622.5" r="0.72" fill="#c8102e"/>
<circle cx="290.9" cy="622.5" r="0.72" fill="#c8102e"/>
<circle cx="292.2" cy="622.5" r="0.72" fill="#c8102e"/>
<circle cx="293.5" cy="622.5" r="0.72" fill="#c8102e"/>
<circle cx="294.8" cy="622.5" r="0.72" fill="#c8102e"/>
<circle cx="296.1" cy="622.5" r="0.72" fill="#c8102e"/>
<circle cx="297.4" cy="622.5" r="0.72" fill="#c8102e"/>
<circle cx="298.7" cy="622.5" r="0.72" fill="#c8102e"/>
<circle cx="300.0" cy="622.5" r="0.72" fill="#c8102e"/>
<circle cx="285.0" cy="624.5" r="0.72" fill="#c8102e"/>
<circle cx="286.3" cy="624.5" r="0.72" fill="#c8102e"/>
<circle cx="287.6" cy="624.5" r="0.72" fill="#c8102e"/>
<circle cx="288.9" cy="624.5" r="0.72" fill="#c8102e"/>
<circle cx="290.2" cy="624.5" r="0.72" fill="#c8102e"/>
<circle cx="291.5" cy="624.5" r="0.72" fill="#c8102e"/>
<circle cx="292.8" cy="624.5" r="0.72" fill="#c8102e"/>
<circle cx="294.1" cy="624.5" r="0.72" fill="#c8102e"/>
<circle cx="295.4" cy="624.5" r="0.72" fill="#c8102e"/>
<circle cx="296.7" cy="624.5" r="0.72" fill="#c8102e"/>
<circle cx="298.0" cy="624.5" r="0.72" fill="#c8102e"/>
<circle cx="299.3" cy="624.5" r="0.72" fill="#c8102e"/>
<circle cx="300.6" cy="624.5" r="0.72" fill="#c8102e"/>
<circle cx="284.4" cy="626.5" r="0.72" fill="#c8102e"/>
<circle cx="285.7" cy="626.5" r="0.72" fill="#c8102e"/>
<circle cx="287.0" cy="626.5" r="0.72" fill="#c8102e"/>
<circle cx="288.3" cy="626.5" r="0.72" fill="#c8102e"/>
<circle cx="289.6" cy="626.5" r="0.72" fill="#c8102e"/>
<circle cx="292.2" cy="626.5" r="0.72" fill="#c8102e"/>
<circle cx="293.5" cy="626.5" r="0.72" fill="#c8102e"/>
<circle cx="294.8" cy="626.5" r="0.72" fill="#c8102e"/>
<circle cx="297.4" cy="626.5" r="0.72" fill="#c8102e"/>
<circle cx="298.7" cy="626.5" r="0.72" fill="#c8102e"/>
<circle cx="300.0" cy="626.5" r="0.72" fill="#c8102e"/>
<circle cx="285.0" cy="628.5" r="0.72" fill="#c8102e"/>
<circle cx="286.3" cy="628.5" r="0.72" fill="#c8102e"/>
<circle cx="287.6" cy="628.5" r="0.72" fill="#c8102e"/>
<circle cx="288.9" cy="628.5" r="0.72" fill="#c8102e"/>
<circle cx="290.2" cy="628.5" r="0.72" fill="#c8102e"/>
<circle cx="291.5" cy="628.5" r="0.72" fill="#c8102e"/>
<circle cx="292.8" cy="628.5" r="0.72" fill="#c8102e"/>
<circle cx="294.1" cy="628.5" r="0.72" fill="#c8102e"/>
<circle cx="295.4" cy="628.5" r="0.72" fill="#c8102e"/>
<circle cx="296.7" cy="628.5" r="0.72" fill="#c8102e"/>
<circle cx="298.0" cy="628.5" r="0.72" fill="#c8102e"/>
<circle cx="299.3" cy="628.5" r="0.72" fill="#c8102e"/>
<circle cx="300.6" cy="628.5" r="0.72" fill="#c8102e"/>
<circle cx="284.4" cy="630.5" r="0.72" fill="#c8102e"/>
<circle cx="285.7" cy="630.5" r="0.72" fill="#c8102e"/>
<circle cx="287.0" cy="630.5" r="0.72" fill="#c8102e"/>
<circle cx="288.3" cy="630.5" r="0.72" fill="#c8102e"/>
<circle cx="289.6" cy="630.5" r="0.72" fill="#c8102e"/>
<circle cx="290.9" cy="630.5" r="0.72" fill="#c8102e"/>
<circle cx="292.2" cy="630.5" r="0.72" fill="#c8102e"/>
<circle cx="293.5" cy="630.5" r="0.72" fill="#c8102e"/>
<circle cx="294.8" cy="630.5" r="0.72" fill="#c8102e"/>
<circle cx="296.1" cy="630.5" r="0.72" fill="#c8102e"/>
<circle cx="297.4" cy="630.5" r="0.72" fill="#c8102e"/>
<circle cx="298.7" cy="630.5" r="0.72" fill="#c8102e"/>
<circle cx="300.0" cy="630.5" r="0.72" fill="#c8102e"/>
<circle cx="286.3" cy="632.5" r="0.72" fill="#c8102e"/>
<circle cx="287.6" cy="632.5" r="0.72" fill="#c8102e"/>
<circle cx="288.9" cy="632.5" r="0.72" fill="#c8102e"/>
<circle cx="290.2" cy="632.5" r="0.72" fill="#c8102e"/>
<circle cx="291.5" cy="632.5" r="0.72" fill="#c8102e"/>
<circle cx="292.8" cy="632.5" r="0.72" fill="#c8102e"/>
<circle cx="294.1" cy="632.5" r="0.72" fill="#c8102e"/>
<circle cx="295.4" cy="632.5" r="0.72" fill="#c8102e"/>
<circle cx="296.7" cy="632.5" r="0.72" fill="#c8102e"/>
<circle cx="298.0" cy="632.5" r="0.72" fill="#c8102e"/>
<circle cx="299.3" cy="632.5" r="0.72" fill="#c8102e"/>
<circle cx="300.6" cy="632.5" r="0.72" fill="#c8102e"/>
<circle cx="299.3" cy="614.4" r="0.72" fill="#c8102e"/>
<circle cx="287.6" cy="614.6" r="0.72" fill="#c8102e"/>
<circle cx="286.5" cy="613.2" r="0.72" fill="#c8102e"/>
<circle cx="296.5" cy="615.5" r="0.72" fill="#c8102e"/>
<circle cx="287.9" cy="614.2" r="0.72" fill="#c8102e"/>
<circle cx="290.3" cy="602.2" r="0.72" fill="#c8102e"/>
<circle cx="295.5" cy="606.4" r="0.72" fill="#c8102e"/>
<circle cx="295.3" cy="610.9" r="0.72" fill="#c8102e"/>
<circle cx="298.2" cy="610.5" r="0.72" fill="#c8102e"/>
<circle cx="289.8" cy="608.5" r="0.72" fill="#c8102e"/>
<circle cx="293.2" cy="609.3" r="0.72" fill="#c8102e"/>
<circle cx="288.6" cy="602.7" r="0.72" fill="#c8102e"/>
<circle cx="300.4" cy="612.5" r="0.72" fill="#c8102e"/>
<circle cx="297.1" cy="617.3" r="0.72" fill="#c8102e"/>
<circle cx="294.4" cy="603.5" r="0.72" fill="#c8102e"/>
<circle cx="298.0" cy="617.4" r="0.72" fill="#c8102e"/>
<circle cx="293.4" cy="615.0" r="0.72" fill="#c8102e"/>
<circle cx="290.7" cy="605.9" r="0.72" fill="#c8102e"/>
<circle cx="286.7" cy="615.3" r="0.72" fill="#c8102e"/>
<circle cx="286.6" cy="614.0" r="0.72" fill="#c8102e"/>
<circle cx="297.7" cy="608.5" r="0.72" fill="#c8102e"/>
<circle cx="293.6" cy="617.5" r="0.72" fill="#c8102e"/>
<circle cx="296.8" cy="606.5" r="0.72" fill="#c8102e"/>
<circle cx="293.6" cy="615.0" r="0.72" fill="#c8102e"/>
<circle cx="293.4" cy="608.8" r="0.72" fill="#c8102e"/>
<circle cx="297.1" cy="597.4" r="0.72" fill="#c8102e"/>
<circle cx="289.0" cy="600.7" r="0.72" fill="#c8102e"/>
<circle cx="294.7" cy="617.8" r="0.72" fill="#c8102e"/>
<circle cx="289.6" cy="610.6" r="0.72" fill="#c8102e"/>
<circle cx="297.9" cy="615.3" r="0.72" fill="#c8102e"/>
<circle cx="286.7" cy="606.4" r="0.72" fill="#c8102e"/>
<circle cx="296.9" cy="616.7" r="0.72" fill="#c8102e"/>
<circle cx="287.6" cy="612.9" r="0.72" fill="#c8102e"/>
<circle cx="291.2" cy="601.5" r="0.72" fill="#c8102e"/>
<circle cx="291.6" cy="617.2" r="0.72" fill="#c8102e"/>
<circle cx="295.4" cy="613.2" r="0.72" fill="#c8102e"/>
<circle cx="287.5" cy="607.1" r="0.72" fill="#c8102e"/>
<circle cx="299.4" cy="612.2" r="0.72" fill="#c8102e"/>
<circle cx="299.1" cy="612.0" r="0.72" fill="#c8102e"/>
<circle cx="296.8" cy="603.5" r="0.72" fill="#c8102e"/>
<circle cx="287.5" cy="609.3" r="0.72" fill="#c8102e"/>
<circle cx="291.0" cy="599.5" r="0.72" fill="#c8102e"/>
<circle cx="293.2" cy="614.5" r="0.72" fill="#c8102e"/>
<circle cx="297.2" cy="611.3" r="0.72" fill="#c8102e"/>
<circle cx="299.5" cy="611.2" r="0.72" fill="#c8102e"/>
<circle cx="295.1" cy="606.6" r="0.72" fill="#c8102e"/>
<circle cx="295.4" cy="614.9" r="0.72" fill="#c8102e"/>
<circle cx="297.1" cy="611.8" r="0.72" fill="#c8102e"/>
<circle cx="298.0" cy="614.9" r="0.72" fill="#c8102e"/>
<circle cx="288.6" cy="608.2" r="0.72" fill="#c8102e"/>
<circle cx="292.9" cy="638.6" r="0.72" fill="#c8102e"/>
<circle cx="290.5" cy="635.7" r="0.72" fill="#c8102e"/>
<circle cx="297.9" cy="635.5" r="0.72" fill="#c8102e"/>
<circle cx="292.7" cy="638.4" r="0.72" fill="#c8102e"/>
<circle cx="292.6" cy="636.0" r="0.72" fill="#c8102e"/>
<circle cx="299.8" cy="634.6" r="0.72" fill="#c8102e"/>
<circle cx="285.6" cy="635.6" r="0.72" fill="#c8102e"/>
<circle cx="289.7" cy="634.9" r="0.72" fill="#c8102e"/>
<circle cx="288.8" cy="637.3" r="0.72" fill="#c8102e"/>
<circle cx="300.0" cy="634.7" r="0.72" fill="#c8102e"/>
<circle cx="300.2" cy="635.2" r="0.72" fill="#c8102e"/>
<circle cx="285.8" cy="634.2" r="0.72" fill="#c8102e"/>
<circle cx="293.1" cy="596.7" r="0.72" fill="#c8102e"/><circle cx="293.1" cy="640.0" r="0.72" fill="#c8102e"/>
<line x1="260" y1="630.5" x2="270.5" y2="630.5" stroke="#000" stroke-width="1.8"/>
<line x1="288" y1="622.5" x2="298.5" y2="622.5" stroke="#000" stroke-width="1.8"/>
<path d="M265.5,600 L265.5,585.7 L293.3,585.7 L293.3,591.3" stroke="#231f20" fill="none" stroke-width="0.9"/>
<text x="279.4" y="586.8" font-size="7" text-anchor="middle" fill="#231f20" stroke="#231f20" stroke-width="0.16">****</text>
<text x="237" y="651.5" font-size="8.2" text-anchor="start" fill="#231f20" stroke="#231f20" stroke-width="0.16" transform="rotate(-90 237 651.5)" textLength="73.8" lengthAdjust="spacingAndGlyphs">Intercent. distance (µm)</text>
<text x="265" y="668.8" font-size="6.9" text-anchor="middle" fill="#231f20" stroke="#231f20" stroke-width="0.16">Non</text>
<text x="265" y="676.6" font-size="6.9" text-anchor="middle" fill="#231f20" stroke="#231f20" stroke-width="0.16">HyperD</text>
<text x="292.3" y="668.8" font-size="6.9" text-anchor="middle" fill="#231f20" stroke="#231f20" stroke-width="0.16">HyperD</text>
<text x="325.6" y="565.3" font-size="12.5" text-anchor="start" fill="#000" font-weight="bold">O</text>
<text x="377" y="566.8" font-size="6.4" text-anchor="start" fill="#231f20" stroke="#231f20" stroke-width="0.16" textLength="34.5" lengthAdjust="spacingAndGlyphs">+ Colcemid</text>
<line x1="366.5" y1="572.2" x2="366.5" y2="657.6" stroke="#231f20" stroke-width="1.0"/>
<line x1="363.7" y1="574.5" x2="366.2" y2="574.5" stroke="#231f20" stroke-width="0.9"/>
<text x="360.9" y="577.0516" font-size="6.4" text-anchor="end" fill="#231f20" stroke="#231f20" stroke-width="0.16">2.5</text>
<line x1="363.7" y1="591.5" x2="366.2" y2="591.5" stroke="#231f20" stroke-width="0.9"/>
<text x="360.9" y="593.6016" font-size="6.4" text-anchor="end" fill="#231f20" stroke="#231f20" stroke-width="0.16">2.0</text>
<line x1="363.7" y1="607.5" x2="366.2" y2="607.5" stroke="#231f20" stroke-width="0.9"/>
<text x="360.9" y="610.1516" font-size="6.4" text-anchor="end" fill="#231f20" stroke="#231f20" stroke-width="0.16">1.5</text>
<line x1="363.7" y1="624.5" x2="366.2" y2="624.5" stroke="#231f20" stroke-width="0.9"/>
<text x="360.9" y="626.7016" font-size="6.4" text-anchor="end" fill="#231f20" stroke="#231f20" stroke-width="0.16">1.0</text>
<line x1="363.7" y1="641.5" x2="366.2" y2="641.5" stroke="#231f20" stroke-width="0.9"/>
<text x="360.9" y="643.2516" font-size="6.4" text-anchor="end" fill="#231f20" stroke="#231f20" stroke-width="0.16">0.5</text>
<line x1="363.7" y1="657.5" x2="366.2" y2="657.5" stroke="#231f20" stroke-width="0.9"/>
<text x="360.9" y="659.8016" font-size="6.4" text-anchor="end" fill="#231f20" stroke="#231f20" stroke-width="0.16">0.0</text>
<line x1="366.2" y1="657.5" x2="421.5" y2="657.5" stroke="#231f20" stroke-width="1.0"/>
<line x1="380" y1="657.6" x2="380" y2="660" stroke="#231f20" stroke-width="0.7"/>
<line x1="407.7" y1="657.6" x2="407.7" y2="660" stroke="#231f20" stroke-width="0.7"/>
<rect x="370.8" y="628.472" width="18.4" height="29.128000000000043" fill="#7b9fc4"/>
<rect x="398.5" y="623.176" width="18.5" height="34.42399999999998" fill="#e5899a"/>
<circle cx="371.5" cy="621.5" r="0.72" fill="#1e5f9a"/>
<circle cx="372.8" cy="621.5" r="0.72" fill="#1e5f9a"/>
<circle cx="374.1" cy="621.5" r="0.72" fill="#1e5f9a"/>
<circle cx="375.4" cy="621.5" r="0.72" fill="#1e5f9a"/>
<circle cx="376.7" cy="621.5" r="0.72" fill="#1e5f9a"/>
<circle cx="378.0" cy="621.5" r="0.72" fill="#1e5f9a"/>
<circle cx="379.3" cy="621.5" r="0.72" fill="#1e5f9a"/>
<circle cx="380.6" cy="621.5" r="0.72" fill="#1e5f9a"/>
<circle cx="381.9" cy="621.5" r="0.72" fill="#1e5f9a"/>
<circle cx="383.2" cy="621.5" r="0.72" fill="#1e5f9a"/>
<circle cx="384.5" cy="621.5" r="0.72" fill="#1e5f9a"/>
<circle cx="385.8" cy="621.5" r="0.72" fill="#1e5f9a"/>
<circle cx="387.1" cy="621.5" r="0.72" fill="#1e5f9a"/>
<circle cx="372.1" cy="623.5" r="0.72" fill="#1e5f9a"/>
<circle cx="373.4" cy="623.5" r="0.72" fill="#1e5f9a"/>
<circle cx="374.8" cy="623.5" r="0.72" fill="#1e5f9a"/>
<circle cx="376.0" cy="623.5" r="0.72" fill="#1e5f9a"/>
<circle cx="377.3" cy="623.5" r="0.72" fill="#1e5f9a"/>
<circle cx="378.6" cy="623.5" r="0.72" fill="#1e5f9a"/>
<circle cx="379.9" cy="623.5" r="0.72" fill="#1e5f9a"/>
<circle cx="381.2" cy="623.5" r="0.72" fill="#1e5f9a"/>
<circle cx="383.8" cy="623.5" r="0.72" fill="#1e5f9a"/>
<circle cx="386.4" cy="623.5" r="0.72" fill="#1e5f9a"/>
<circle cx="387.8" cy="623.5" r="0.72" fill="#1e5f9a"/>
<circle cx="371.5" cy="625.5" r="0.72" fill="#1e5f9a"/>
<circle cx="372.8" cy="625.5" r="0.72" fill="#1e5f9a"/>
<circle cx="374.1" cy="625.5" r="0.72" fill="#1e5f9a"/>
<circle cx="375.4" cy="625.5" r="0.72" fill="#1e5f9a"/>
<circle cx="376.7" cy="625.5" r="0.72" fill="#1e5f9a"/>
<circle cx="378.0" cy="625.5" r="0.72" fill="#1e5f9a"/>
<circle cx="379.3" cy="625.5" r="0.72" fill="#1e5f9a"/>
<circle cx="380.6" cy="625.5" r="0.72" fill="#1e5f9a"/>
<circle cx="381.9" cy="625.5" r="0.72" fill="#1e5f9a"/>
<circle cx="383.2" cy="625.5" r="0.72" fill="#1e5f9a"/>
<circle cx="384.5" cy="625.5" r="0.72" fill="#1e5f9a"/>
<circle cx="387.1" cy="625.5" r="0.72" fill="#1e5f9a"/>
<circle cx="372.1" cy="627.5" r="0.72" fill="#1e5f9a"/>
<circle cx="373.4" cy="627.5" r="0.72" fill="#1e5f9a"/>
<circle cx="374.8" cy="627.5" r="0.72" fill="#1e5f9a"/>
<circle cx="376.0" cy="627.5" r="0.72" fill="#1e5f9a"/>
<circle cx="377.3" cy="627.5" r="0.72" fill="#1e5f9a"/>
<circle cx="378.6" cy="627.5" r="0.72" fill="#1e5f9a"/>
<circle cx="379.9" cy="627.5" r="0.72" fill="#1e5f9a"/>
<circle cx="381.2" cy="627.5" r="0.72" fill="#1e5f9a"/>
<circle cx="382.5" cy="627.5" r="0.72" fill="#1e5f9a"/>
<circle cx="383.8" cy="627.5" r="0.72" fill="#1e5f9a"/>
<circle cx="385.1" cy="627.5" r="0.72" fill="#1e5f9a"/>
<circle cx="386.4" cy="627.5" r="0.72" fill="#1e5f9a"/>
<circle cx="387.8" cy="627.5" r="0.72" fill="#1e5f9a"/>
<circle cx="371.5" cy="629.5" r="0.72" fill="#1e5f9a"/>
<circle cx="372.8" cy="629.5" r="0.72" fill="#1e5f9a"/>
<circle cx="374.1" cy="629.5" r="0.72" fill="#1e5f9a"/>
<circle cx="375.4" cy="629.5" r="0.72" fill="#1e5f9a"/>
<circle cx="378.0" cy="629.5" r="0.72" fill="#1e5f9a"/>
<circle cx="379.3" cy="629.5" r="0.72" fill="#1e5f9a"/>
<circle cx="380.6" cy="629.5" r="0.72" fill="#1e5f9a"/>
<circle cx="381.9" cy="629.5" r="0.72" fill="#1e5f9a"/>
<circle cx="383.2" cy="629.5" r="0.72" fill="#1e5f9a"/>
<circle cx="384.5" cy="629.5" r="0.72" fill="#1e5f9a"/>
<circle cx="387.1" cy="629.5" r="0.72" fill="#1e5f9a"/>
<circle cx="372.1" cy="631.5" r="0.72" fill="#1e5f9a"/>
<circle cx="373.4" cy="631.5" r="0.72" fill="#1e5f9a"/>
<circle cx="374.8" cy="631.5" r="0.72" fill="#1e5f9a"/>
<circle cx="376.0" cy="631.5" r="0.72" fill="#1e5f9a"/>
<circle cx="377.3" cy="631.5" r="0.72" fill="#1e5f9a"/>
<circle cx="378.6" cy="631.5" r="0.72" fill="#1e5f9a"/>
<circle cx="379.9" cy="631.5" r="0.72" fill="#1e5f9a"/>
<circle cx="381.2" cy="631.5" r="0.72" fill="#1e5f9a"/>
<circle cx="382.5" cy="631.5" r="0.72" fill="#1e5f9a"/>
<circle cx="383.8" cy="631.5" r="0.72" fill="#1e5f9a"/>
<circle cx="385.1" cy="631.5" r="0.72" fill="#1e5f9a"/>
<circle cx="386.4" cy="631.5" r="0.72" fill="#1e5f9a"/>
<circle cx="387.8" cy="631.5" r="0.72" fill="#1e5f9a"/>
<circle cx="371.5" cy="633.5" r="0.72" fill="#1e5f9a"/>
<circle cx="372.8" cy="633.5" r="0.72" fill="#1e5f9a"/>
<circle cx="374.1" cy="633.5" r="0.72" fill="#1e5f9a"/>
<circle cx="375.4" cy="633.5" r="0.72" fill="#1e5f9a"/>
<circle cx="376.7" cy="633.5" r="0.72" fill="#1e5f9a"/>
<circle cx="378.0" cy="633.5" r="0.72" fill="#1e5f9a"/>
<circle cx="379.3" cy="633.5" r="0.72" fill="#1e5f9a"/>
<circle cx="381.9" cy="633.5" r="0.72" fill="#1e5f9a"/>
<circle cx="383.2" cy="633.5" r="0.72" fill="#1e5f9a"/>
<circle cx="384.5" cy="633.5" r="0.72" fill="#1e5f9a"/>
<circle cx="385.8" cy="633.5" r="0.72" fill="#1e5f9a"/>
<circle cx="387.1" cy="633.5" r="0.72" fill="#1e5f9a"/>
<circle cx="372.1" cy="635.5" r="0.72" fill="#1e5f9a"/>
<circle cx="373.4" cy="635.5" r="0.72" fill="#1e5f9a"/>
<circle cx="374.8" cy="635.5" r="0.72" fill="#1e5f9a"/>
<circle cx="376.0" cy="635.5" r="0.72" fill="#1e5f9a"/>
<circle cx="377.3" cy="635.5" r="0.72" fill="#1e5f9a"/>
<circle cx="378.6" cy="635.5" r="0.72" fill="#1e5f9a"/>
<circle cx="381.2" cy="635.5" r="0.72" fill="#1e5f9a"/>
<circle cx="382.5" cy="635.5" r="0.72" fill="#1e5f9a"/>
<circle cx="383.8" cy="635.5" r="0.72" fill="#1e5f9a"/>
<circle cx="385.1" cy="635.5" r="0.72" fill="#1e5f9a"/>
<circle cx="386.4" cy="635.5" r="0.72" fill="#1e5f9a"/>
<circle cx="387.8" cy="635.5" r="0.72" fill="#1e5f9a"/>
<circle cx="380.3" cy="620.2" r="0.72" fill="#1e5f9a"/>
<circle cx="386.9" cy="618.0" r="0.72" fill="#1e5f9a"/>
<circle cx="373.9" cy="619.5" r="0.72" fill="#1e5f9a"/>
<circle cx="381.5" cy="614.0" r="0.72" fill="#1e5f9a"/>
<circle cx="377.3" cy="621.0" r="0.72" fill="#1e5f9a"/>
<circle cx="385.0" cy="616.7" r="0.72" fill="#1e5f9a"/>
<circle cx="384.9" cy="611.5" r="0.72" fill="#1e5f9a"/>
<circle cx="386.5" cy="615.5" r="0.72" fill="#1e5f9a"/>
<circle cx="376.8" cy="616.4" r="0.72" fill="#1e5f9a"/>
<circle cx="385.6" cy="620.2" r="0.72" fill="#1e5f9a"/>
<circle cx="381.6" cy="637.6" r="0.72" fill="#1e5f9a"/>
<circle cx="381.4" cy="639.0" r="0.72" fill="#1e5f9a"/>
<circle cx="383.1" cy="636.9" r="0.72" fill="#1e5f9a"/>
<circle cx="376.3" cy="638.6" r="0.72" fill="#1e5f9a"/>
<circle cx="380.0" cy="602.7" r="0.72" fill="#1e5f9a"/><circle cx="380.0" cy="639.4" r="0.72" fill="#1e5f9a"/>
<circle cx="400.5" cy="617.5" r="0.72" fill="#c8102e"/>
<circle cx="403.1" cy="617.5" r="0.72" fill="#c8102e"/>
<circle cx="404.4" cy="617.5" r="0.72" fill="#c8102e"/>
<circle cx="405.7" cy="617.5" r="0.72" fill="#c8102e"/>
<circle cx="407.0" cy="617.5" r="0.72" fill="#c8102e"/>
<circle cx="408.3" cy="617.5" r="0.72" fill="#c8102e"/>
<circle cx="409.6" cy="617.5" r="0.72" fill="#c8102e"/>
<circle cx="413.5" cy="617.5" r="0.72" fill="#c8102e"/>
<circle cx="414.8" cy="617.5" r="0.72" fill="#c8102e"/>
<circle cx="399.8" cy="619.5" r="0.72" fill="#c8102e"/>
<circle cx="401.1" cy="619.5" r="0.72" fill="#c8102e"/>
<circle cx="402.4" cy="619.5" r="0.72" fill="#c8102e"/>
<circle cx="403.7" cy="619.5" r="0.72" fill="#c8102e"/>
<circle cx="405.0" cy="619.5" r="0.72" fill="#c8102e"/>
<circle cx="406.3" cy="619.5" r="0.72" fill="#c8102e"/>
<circle cx="407.6" cy="619.5" r="0.72" fill="#c8102e"/>
<circle cx="408.9" cy="619.5" r="0.72" fill="#c8102e"/>
<circle cx="410.2" cy="619.5" r="0.72" fill="#c8102e"/>
<circle cx="411.5" cy="619.5" r="0.72" fill="#c8102e"/>
<circle cx="412.8" cy="619.5" r="0.72" fill="#c8102e"/>
<circle cx="415.4" cy="619.5" r="0.72" fill="#c8102e"/>
<circle cx="399.2" cy="621.5" r="0.72" fill="#c8102e"/>
<circle cx="400.5" cy="621.5" r="0.72" fill="#c8102e"/>
<circle cx="403.1" cy="621.5" r="0.72" fill="#c8102e"/>
<circle cx="404.4" cy="621.5" r="0.72" fill="#c8102e"/>
<circle cx="405.7" cy="621.5" r="0.72" fill="#c8102e"/>
<circle cx="407.0" cy="621.5" r="0.72" fill="#c8102e"/>
<circle cx="408.3" cy="621.5" r="0.72" fill="#c8102e"/>
<circle cx="409.6" cy="621.5" r="0.72" fill="#c8102e"/>
<circle cx="410.9" cy="621.5" r="0.72" fill="#c8102e"/>
<circle cx="412.2" cy="621.5" r="0.72" fill="#c8102e"/>
<circle cx="413.5" cy="621.5" r="0.72" fill="#c8102e"/>
<circle cx="414.8" cy="621.5" r="0.72" fill="#c8102e"/>
<circle cx="399.8" cy="623.5" r="0.72" fill="#c8102e"/>
<circle cx="401.1" cy="623.5" r="0.72" fill="#c8102e"/>
<circle cx="402.4" cy="623.5" r="0.72" fill="#c8102e"/>
<circle cx="403.7" cy="623.5" r="0.72" fill="#c8102e"/>
<circle cx="406.3" cy="623.5" r="0.72" fill="#c8102e"/>
<circle cx="407.6" cy="623.5" r="0.72" fill="#c8102e"/>
<circle cx="408.9" cy="623.5" r="0.72" fill="#c8102e"/>
<circle cx="410.2" cy="623.5" r="0.72" fill="#c8102e"/>
<circle cx="411.5" cy="623.5" r="0.72" fill="#c8102e"/>
<circle cx="412.8" cy="623.5" r="0.72" fill="#c8102e"/>
<circle cx="414.1" cy="623.5" r="0.72" fill="#c8102e"/>
<circle cx="415.4" cy="623.5" r="0.72" fill="#c8102e"/>
<circle cx="399.2" cy="625.5" r="0.72" fill="#c8102e"/>
<circle cx="400.5" cy="625.5" r="0.72" fill="#c8102e"/>
<circle cx="401.8" cy="625.5" r="0.72" fill="#c8102e"/>
<circle cx="403.1" cy="625.5" r="0.72" fill="#c8102e"/>
<circle cx="404.4" cy="625.5" r="0.72" fill="#c8102e"/>
<circle cx="405.7" cy="625.5" r="0.72" fill="#c8102e"/>
<circle cx="407.0" cy="625.5" r="0.72" fill="#c8102e"/>
<circle cx="408.3" cy="625.5" r="0.72" fill="#c8102e"/>
<circle cx="409.6" cy="625.5" r="0.72" fill="#c8102e"/>
<circle cx="410.9" cy="625.5" r="0.72" fill="#c8102e"/>
<circle cx="412.2" cy="625.5" r="0.72" fill="#c8102e"/>
<circle cx="413.5" cy="625.5" r="0.72" fill="#c8102e"/>
<circle cx="414.8" cy="625.5" r="0.72" fill="#c8102e"/>
<circle cx="399.8" cy="627.5" r="0.72" fill="#c8102e"/>
<circle cx="401.1" cy="627.5" r="0.72" fill="#c8102e"/>
<circle cx="402.4" cy="627.5" r="0.72" fill="#c8102e"/>
<circle cx="403.7" cy="627.5" r="0.72" fill="#c8102e"/>
<circle cx="411.5" cy="627.5" r="0.72" fill="#c8102e"/>
<circle cx="412.8" cy="627.5" r="0.72" fill="#c8102e"/>
<circle cx="414.1" cy="627.5" r="0.72" fill="#c8102e"/>
<circle cx="415.4" cy="627.5" r="0.72" fill="#c8102e"/>
<circle cx="400.5" cy="629.5" r="0.72" fill="#c8102e"/>
<circle cx="401.8" cy="629.5" r="0.72" fill="#c8102e"/>
<circle cx="403.1" cy="629.5" r="0.72" fill="#c8102e"/>
<circle cx="404.4" cy="629.5" r="0.72" fill="#c8102e"/>
<circle cx="405.7" cy="629.5" r="0.72" fill="#c8102e"/>
<circle cx="407.0" cy="629.5" r="0.72" fill="#c8102e"/>
<circle cx="408.3" cy="629.5" r="0.72" fill="#c8102e"/>
<circle cx="409.6" cy="629.5" r="0.72" fill="#c8102e"/>
<circle cx="410.9" cy="629.5" r="0.72" fill="#c8102e"/>
<circle cx="412.2" cy="629.5" r="0.72" fill="#c8102e"/>
<circle cx="413.5" cy="629.5" r="0.72" fill="#c8102e"/>
<circle cx="414.8" cy="629.5" r="0.72" fill="#c8102e"/>
<circle cx="399.8" cy="631.5" r="0.72" fill="#c8102e"/>
<circle cx="401.1" cy="631.5" r="0.72" fill="#c8102e"/>
<circle cx="402.4" cy="631.5" r="0.72" fill="#c8102e"/>
<circle cx="403.7" cy="631.5" r="0.72" fill="#c8102e"/>
<circle cx="405.0" cy="631.5" r="0.72" fill="#c8102e"/>
<circle cx="406.3" cy="631.5" r="0.72" fill="#c8102e"/>
<circle cx="407.6" cy="631.5" r="0.72" fill="#c8102e"/>
<circle cx="408.9" cy="631.5" r="0.72" fill="#c8102e"/>
<circle cx="410.2" cy="631.5" r="0.72" fill="#c8102e"/>
<circle cx="411.5" cy="631.5" r="0.72" fill="#c8102e"/>
<circle cx="412.8" cy="631.5" r="0.72" fill="#c8102e"/>
<circle cx="414.1" cy="631.5" r="0.72" fill="#c8102e"/>
<circle cx="399.2" cy="633.5" r="0.72" fill="#c8102e"/>
<circle cx="400.5" cy="633.5" r="0.72" fill="#c8102e"/>
<circle cx="403.1" cy="633.5" r="0.72" fill="#c8102e"/>
<circle cx="404.4" cy="633.5" r="0.72" fill="#c8102e"/>
<circle cx="405.7" cy="633.5" r="0.72" fill="#c8102e"/>
<circle cx="407.0" cy="633.5" r="0.72" fill="#c8102e"/>
<circle cx="408.3" cy="633.5" r="0.72" fill="#c8102e"/>
<circle cx="409.6" cy="633.5" r="0.72" fill="#c8102e"/>
<circle cx="410.9" cy="633.5" r="0.72" fill="#c8102e"/>
<circle cx="412.2" cy="633.5" r="0.72" fill="#c8102e"/>
<circle cx="413.5" cy="633.5" r="0.72" fill="#c8102e"/>
<circle cx="414.8" cy="633.5" r="0.72" fill="#c8102e"/>
<circle cx="411.5" cy="617.6" r="0.72" fill="#c8102e"/>
<circle cx="401.4" cy="605.7" r="0.72" fill="#c8102e"/>
<circle cx="411.4" cy="616.2" r="0.72" fill="#c8102e"/>
<circle cx="402.0" cy="613.3" r="0.72" fill="#c8102e"/>
<circle cx="414.4" cy="607.0" r="0.72" fill="#c8102e"/>
<circle cx="409.2" cy="613.1" r="0.72" fill="#c8102e"/>
<circle cx="408.6" cy="609.9" r="0.72" fill="#c8102e"/>
<circle cx="413.8" cy="609.1" r="0.72" fill="#c8102e"/>
<circle cx="412.5" cy="602.7" r="0.72" fill="#c8102e"/>
<circle cx="411.4" cy="607.2" r="0.72" fill="#c8102e"/>
<circle cx="411.0" cy="605.7" r="0.72" fill="#c8102e"/>
<circle cx="411.4" cy="607.3" r="0.72" fill="#c8102e"/>
<circle cx="402.0" cy="617.2" r="0.72" fill="#c8102e"/>
<circle cx="406.7" cy="608.0" r="0.72" fill="#c8102e"/>
<circle cx="410.2" cy="614.9" r="0.72" fill="#c8102e"/>
<circle cx="412.0" cy="615.3" r="0.72" fill="#c8102e"/>
<circle cx="414.5" cy="613.7" r="0.72" fill="#c8102e"/>
<circle cx="415.2" cy="613.7" r="0.72" fill="#c8102e"/>
<circle cx="412.3" cy="613.5" r="0.72" fill="#c8102e"/>
<circle cx="407.8" cy="616.2" r="0.72" fill="#c8102e"/>
<circle cx="413.5" cy="613.1" r="0.72" fill="#c8102e"/>
<circle cx="408.7" cy="606.7" r="0.72" fill="#c8102e"/>
<circle cx="408.1" cy="616.5" r="0.72" fill="#c8102e"/>
<circle cx="401.2" cy="614.8" r="0.72" fill="#c8102e"/>
<circle cx="408.4" cy="606.9" r="0.72" fill="#c8102e"/>
<circle cx="411.0" cy="594.3" r="0.72" fill="#c8102e"/>
<circle cx="415.5" cy="617.3" r="0.72" fill="#c8102e"/>
<circle cx="415.1" cy="610.3" r="0.72" fill="#c8102e"/>
<circle cx="407.2" cy="613.8" r="0.72" fill="#c8102e"/>
<circle cx="404.4" cy="607.1" r="0.72" fill="#c8102e"/>
<circle cx="405.2" cy="612.3" r="0.72" fill="#c8102e"/>
<circle cx="408.4" cy="613.4" r="0.72" fill="#c8102e"/>
<circle cx="413.6" cy="610.8" r="0.72" fill="#c8102e"/>
<circle cx="403.5" cy="614.7" r="0.72" fill="#c8102e"/>
<circle cx="399.7" cy="614.1" r="0.72" fill="#c8102e"/>
<circle cx="405.3" cy="634.6" r="0.72" fill="#c8102e"/>
<circle cx="408.1" cy="634.2" r="0.72" fill="#c8102e"/>
<circle cx="412.8" cy="634.2" r="0.72" fill="#c8102e"/>
<circle cx="409.0" cy="636.4" r="0.72" fill="#c8102e"/>
<circle cx="401.9" cy="634.4" r="0.72" fill="#c8102e"/>
<circle cx="402.3" cy="634.2" r="0.72" fill="#c8102e"/>
<circle cx="411.1" cy="635.9" r="0.72" fill="#c8102e"/>
<circle cx="406.1" cy="636.0" r="0.72" fill="#c8102e"/>
<circle cx="407.8" cy="593.7" r="0.72" fill="#c8102e"/><circle cx="407.8" cy="637.1" r="0.72" fill="#c8102e"/>
<line x1="375" y1="628.5" x2="385.5" y2="628.5" stroke="#000" stroke-width="1.8"/>
<line x1="402.5" y1="623.5" x2="413" y2="623.5" stroke="#000" stroke-width="1.8"/>
<path d="M380,600.8 L380,584.8 L407.7,584.8 L407.7,593" stroke="#231f20" fill="none" stroke-width="0.9"/>
<text x="393.8" y="586.5" font-size="7" text-anchor="middle" fill="#231f20" stroke="#231f20" stroke-width="0.16">****</text>
<text x="347.5" y="651.5" font-size="8.2" text-anchor="start" fill="#231f20" stroke="#231f20" stroke-width="0.16" transform="rotate(-90 347.5 651.5)" textLength="73.8" lengthAdjust="spacingAndGlyphs">Intercent. distance (µm)</text>
<text x="380" y="668.8" font-size="6.9" text-anchor="middle" fill="#231f20" stroke="#231f20" stroke-width="0.16">Non</text>
<text x="380" y="676.6" font-size="6.9" text-anchor="middle" fill="#231f20" stroke="#231f20" stroke-width="0.16">HyperD</text>
<text x="407.7" y="668.8" font-size="6.9" text-anchor="middle" fill="#231f20" stroke="#231f20" stroke-width="0.16">HyperD</text>
</svg></body></html>
